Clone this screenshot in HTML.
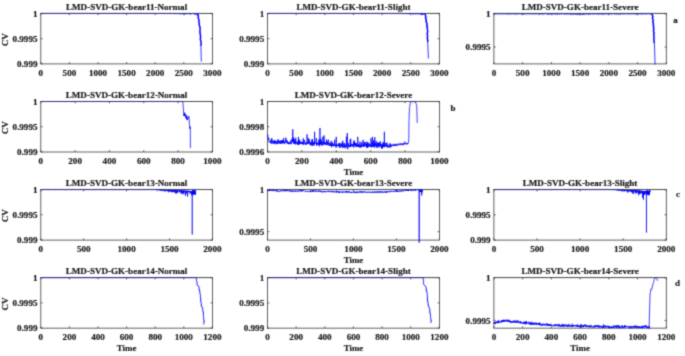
<!DOCTYPE html>
<html><head><meta charset="utf-8"><style>
html,body{margin:0;padding:0;background:#fff;}
body{width:685px;height:356px;overflow:hidden;}
svg{display:block;}
svg text{font-family:'Liberation Serif',serif;font-weight:bold;fill:#1a1a1a;stroke:#1a1a1a;stroke-width:0.2px;}
</style></head><body>
<svg width="685" height="356" viewBox="0 0 685 356">
<defs><filter id="bl" x="0" y="0" width="685" height="356" filterUnits="userSpaceOnUse" color-interpolation-filters="sRGB"><feConvolveMatrix order="3" kernelMatrix="1 4 1 4 16 4 1 4 1" divisor="36" edgeMode="duplicate" preserveAlpha="false"/></filter></defs>
<g filter="url(#bl)">
<rect width="685" height="356" fill="#fff"/>
<rect x="40.80" y="13.40" width="171.60" height="50.50" fill="none" stroke="#3a3a3a" stroke-width="0.8"/>
<path d="M40.80 63.90v-1.8M40.80 13.40v1.8M69.40 63.90v-1.8M69.40 13.40v1.8M98.00 63.90v-1.8M98.00 13.40v1.8M126.60 63.90v-1.8M126.60 13.40v1.8M155.20 63.90v-1.8M155.20 13.40v1.8M183.80 63.90v-1.8M183.80 13.40v1.8M212.40 63.90v-1.8M212.40 13.40v1.8M40.80 63.90h1.8M212.40 63.90h-1.8M40.80 38.65h1.8M212.40 38.65h-1.8M40.80 13.40h1.8M212.40 13.40h-1.8" stroke="#3a3a3a" stroke-width="0.8" fill="none"/>
<rect x="267.50" y="13.40" width="171.90" height="50.50" fill="none" stroke="#3a3a3a" stroke-width="0.8"/>
<path d="M267.50 63.90v-1.8M267.50 13.40v1.8M296.15 63.90v-1.8M296.15 13.40v1.8M324.80 63.90v-1.8M324.80 13.40v1.8M353.45 63.90v-1.8M353.45 13.40v1.8M382.10 63.90v-1.8M382.10 13.40v1.8M410.75 63.90v-1.8M410.75 13.40v1.8M439.40 63.90v-1.8M439.40 13.40v1.8M267.50 63.90h1.8M439.40 63.90h-1.8M267.50 38.65h1.8M439.40 38.65h-1.8M267.50 13.40h1.8M439.40 13.40h-1.8" stroke="#3a3a3a" stroke-width="0.8" fill="none"/>
<rect x="493.90" y="13.40" width="172.40" height="50.50" fill="none" stroke="#3a3a3a" stroke-width="0.8"/>
<path d="M493.90 63.90v-1.8M493.90 13.40v1.8M522.63 63.90v-1.8M522.63 13.40v1.8M551.37 63.90v-1.8M551.37 13.40v1.8M580.10 63.90v-1.8M580.10 13.40v1.8M608.83 63.90v-1.8M608.83 13.40v1.8M637.57 63.90v-1.8M637.57 13.40v1.8M666.30 63.90v-1.8M666.30 13.40v1.8M493.90 47.07h1.8M666.30 47.07h-1.8M493.90 13.40h1.8M666.30 13.40h-1.8" stroke="#3a3a3a" stroke-width="0.8" fill="none"/>
<rect x="40.80" y="101.50" width="171.60" height="50.50" fill="none" stroke="#3a3a3a" stroke-width="0.8"/>
<path d="M40.80 152.00v-1.8M40.80 101.50v1.8M75.12 152.00v-1.8M75.12 101.50v1.8M109.44 152.00v-1.8M109.44 101.50v1.8M143.76 152.00v-1.8M143.76 101.50v1.8M178.08 152.00v-1.8M178.08 101.50v1.8M212.40 152.00v-1.8M212.40 101.50v1.8M40.80 152.00h1.8M212.40 152.00h-1.8M40.80 126.75h1.8M212.40 126.75h-1.8M40.80 101.50h1.8M212.40 101.50h-1.8" stroke="#3a3a3a" stroke-width="0.8" fill="none"/>
<rect x="267.50" y="101.50" width="171.90" height="50.50" fill="none" stroke="#3a3a3a" stroke-width="0.8"/>
<path d="M267.50 152.00v-1.8M267.50 101.50v1.8M301.88 152.00v-1.8M301.88 101.50v1.8M336.26 152.00v-1.8M336.26 101.50v1.8M370.64 152.00v-1.8M370.64 101.50v1.8M405.02 152.00v-1.8M405.02 101.50v1.8M439.40 152.00v-1.8M439.40 101.50v1.8M267.50 152.00h1.8M439.40 152.00h-1.8M267.50 126.75h1.8M439.40 126.75h-1.8M267.50 101.50h1.8M439.40 101.50h-1.8" stroke="#3a3a3a" stroke-width="0.8" fill="none"/>
<rect x="40.80" y="189.60" width="171.60" height="50.50" fill="none" stroke="#3a3a3a" stroke-width="0.8"/>
<path d="M40.80 240.10v-1.8M40.80 189.60v1.8M83.70 240.10v-1.8M83.70 189.60v1.8M126.60 240.10v-1.8M126.60 189.60v1.8M169.50 240.10v-1.8M169.50 189.60v1.8M212.40 240.10v-1.8M212.40 189.60v1.8M40.80 240.10h1.8M212.40 240.10h-1.8M40.80 214.85h1.8M212.40 214.85h-1.8M40.80 189.60h1.8M212.40 189.60h-1.8" stroke="#3a3a3a" stroke-width="0.8" fill="none"/>
<rect x="267.50" y="189.60" width="171.90" height="50.50" fill="none" stroke="#3a3a3a" stroke-width="0.8"/>
<path d="M267.50 240.10v-1.8M267.50 189.60v1.8M310.48 240.10v-1.8M310.48 189.60v1.8M353.45 240.10v-1.8M353.45 189.60v1.8M396.42 240.10v-1.8M396.42 189.60v1.8M439.40 240.10v-1.8M439.40 189.60v1.8M267.50 231.68h1.8M439.40 231.68h-1.8M267.50 189.60h1.8M439.40 189.60h-1.8" stroke="#3a3a3a" stroke-width="0.8" fill="none"/>
<rect x="493.90" y="189.60" width="172.40" height="50.50" fill="none" stroke="#3a3a3a" stroke-width="0.8"/>
<path d="M493.90 240.10v-1.8M493.90 189.60v1.8M537.00 240.10v-1.8M537.00 189.60v1.8M580.10 240.10v-1.8M580.10 189.60v1.8M623.20 240.10v-1.8M623.20 189.60v1.8M666.30 240.10v-1.8M666.30 189.60v1.8M493.90 240.10h1.8M666.30 240.10h-1.8M493.90 214.85h1.8M666.30 214.85h-1.8M493.90 189.60h1.8M666.30 189.60h-1.8" stroke="#3a3a3a" stroke-width="0.8" fill="none"/>
<rect x="40.80" y="277.65" width="171.60" height="50.50" fill="none" stroke="#3a3a3a" stroke-width="0.8"/>
<path d="M40.80 328.15v-1.8M40.80 277.65v1.8M69.40 328.15v-1.8M69.40 277.65v1.8M98.00 328.15v-1.8M98.00 277.65v1.8M126.60 328.15v-1.8M126.60 277.65v1.8M155.20 328.15v-1.8M155.20 277.65v1.8M183.80 328.15v-1.8M183.80 277.65v1.8M212.40 328.15v-1.8M212.40 277.65v1.8M40.80 328.15h1.8M212.40 328.15h-1.8M40.80 302.90h1.8M212.40 302.90h-1.8M40.80 277.65h1.8M212.40 277.65h-1.8" stroke="#3a3a3a" stroke-width="0.8" fill="none"/>
<rect x="267.50" y="277.65" width="171.90" height="50.50" fill="none" stroke="#3a3a3a" stroke-width="0.8"/>
<path d="M267.50 328.15v-1.8M267.50 277.65v1.8M296.15 328.15v-1.8M296.15 277.65v1.8M324.80 328.15v-1.8M324.80 277.65v1.8M353.45 328.15v-1.8M353.45 277.65v1.8M382.10 328.15v-1.8M382.10 277.65v1.8M410.75 328.15v-1.8M410.75 277.65v1.8M439.40 328.15v-1.8M439.40 277.65v1.8M267.50 328.15h1.8M439.40 328.15h-1.8M267.50 302.90h1.8M439.40 302.90h-1.8M267.50 277.65h1.8M439.40 277.65h-1.8" stroke="#3a3a3a" stroke-width="0.8" fill="none"/>
<rect x="493.90" y="277.65" width="172.40" height="50.50" fill="none" stroke="#3a3a3a" stroke-width="0.8"/>
<path d="M493.90 328.15v-1.8M493.90 277.65v1.8M522.63 328.15v-1.8M522.63 277.65v1.8M551.37 328.15v-1.8M551.37 277.65v1.8M580.10 328.15v-1.8M580.10 277.65v1.8M608.83 328.15v-1.8M608.83 277.65v1.8M637.57 328.15v-1.8M637.57 277.65v1.8M666.30 328.15v-1.8M666.30 277.65v1.8M493.90 320.45h1.8M666.30 320.45h-1.8M493.90 277.65h1.8M666.30 277.65h-1.8" stroke="#3a3a3a" stroke-width="0.8" fill="none"/>
<text x="40.80" y="75.60" text-anchor="middle" font-size="9.1" >0</text>
<text x="69.40" y="75.60" text-anchor="middle" font-size="9.1" >500</text>
<text x="98.00" y="75.60" text-anchor="middle" font-size="9.1" >1000</text>
<text x="126.60" y="75.60" text-anchor="middle" font-size="9.1" >1500</text>
<text x="155.20" y="75.60" text-anchor="middle" font-size="9.1" >2000</text>
<text x="183.80" y="75.60" text-anchor="middle" font-size="9.1" >2500</text>
<text x="212.40" y="75.60" text-anchor="middle" font-size="9.1" >3000</text>
<text x="37.50" y="67.00" text-anchor="end" font-size="9.1" >0.999</text>
<text x="37.50" y="41.75" text-anchor="end" font-size="9.1" >0.9995</text>
<text x="37.50" y="16.50" text-anchor="end" font-size="9.1" >1</text>
<text x="126.60" y="10.10" text-anchor="middle" font-size="9.05" >LMD-SVD-GK-bear11-Normal</text>
<text x="0" y="0" text-anchor="middle" font-size="9" transform="translate(8.10 39.65) rotate(-90)">CV</text>
<polyline points="40.80,13.40 41.03,13.40 41.26,13.40 41.49,13.40 41.72,13.40 41.94,13.40 42.17,13.40 42.40,13.40 42.63,13.40 42.86,13.40 43.09,13.40 43.32,13.40 43.55,13.40 43.77,13.40 44.00,13.40 44.23,13.40 44.46,13.40 44.69,13.40 44.92,13.40 45.15,13.40 45.38,13.40 45.60,13.40 45.83,13.40 46.06,13.40 46.29,13.40 46.52,13.40 46.75,13.40 46.98,13.40 47.21,13.40 47.44,13.40 47.66,13.40 47.89,13.40 48.12,13.40 48.35,13.40 48.58,13.40 48.81,13.40 49.04,13.40 49.27,13.40 49.49,13.40 49.72,13.40 49.95,13.40 50.18,13.40 50.41,13.40 50.64,13.40 50.87,13.40 51.10,13.40 51.32,13.40 51.55,13.40 51.78,13.40 52.01,13.40 52.24,13.40 52.47,13.40 52.70,13.40 52.93,13.40 53.16,13.40 53.38,13.40 53.61,13.40 53.84,13.40 54.07,13.40 54.30,13.40 54.53,13.40 54.76,13.40 54.99,13.40 55.21,13.40 55.44,13.40 55.67,13.40 55.90,13.40 56.13,13.40 56.36,13.40 56.59,13.40 56.82,13.40 57.04,13.40 57.27,13.40 57.50,13.40 57.73,13.40 57.96,13.40 58.19,13.40 58.42,13.40 58.65,13.40 58.88,13.40 59.10,13.40 59.33,13.40 59.56,13.40 59.79,13.40 60.02,13.40 60.25,13.40 60.48,13.40 60.71,13.40 60.93,13.40 61.16,13.40 61.39,13.40 61.62,13.40 61.85,13.40 62.08,13.40 62.31,13.40 62.54,13.40 62.76,13.40 62.99,13.40 63.22,13.40 63.45,13.40 63.68,13.40 63.91,13.40 64.14,13.40 64.37,13.40 64.60,13.40 64.82,13.40 65.05,13.40 65.28,13.40 65.51,13.40 65.74,13.40 65.97,13.40 66.20,13.40 66.43,13.40 66.65,13.40 66.88,13.40 67.11,13.40 67.34,13.40 67.57,13.40 67.80,13.40 68.03,13.40 68.26,13.40 68.48,13.40 68.71,13.40 68.94,13.40 69.17,13.40 69.40,13.40 69.63,13.40 69.86,13.40 70.09,13.40 70.32,13.40 70.54,13.40 70.77,13.40 71.00,13.40 71.23,13.40 71.46,13.40 71.69,13.40 71.92,13.40 72.15,13.40 72.37,13.40 72.60,13.40 72.83,13.40 73.06,13.40 73.29,13.40 73.52,13.40 73.75,13.40 73.98,13.40 74.20,13.40 74.43,13.40 74.66,13.40 74.89,13.40 75.12,13.40 75.35,13.40 75.58,13.40 75.81,13.40 76.04,13.40 76.26,13.40 76.49,13.40 76.72,13.40 76.95,13.40 77.18,13.40 77.41,13.40 77.64,13.40 77.87,13.40 78.09,13.40 78.32,13.40 78.55,13.40 78.78,13.40 79.01,13.40 79.24,13.40 79.47,13.40 79.70,13.40 79.92,13.40 80.15,13.40 80.38,13.40 80.61,13.40 80.84,13.40 81.07,13.40 81.30,13.40 81.53,13.40 81.76,13.40 81.98,13.40 82.21,13.40 82.44,13.40 82.67,13.40 82.90,13.40 83.13,13.40 83.36,13.40 83.59,13.40 83.81,13.40 84.04,13.40 84.27,13.40 84.50,13.40 84.73,13.40 84.96,13.40 85.19,13.40 85.42,13.40 85.64,13.40 85.87,13.40 86.10,13.40 86.33,13.40 86.56,13.40 86.79,13.40 87.02,13.40 87.25,13.40 87.48,13.40 87.70,13.40 87.93,13.40 88.16,13.40 88.39,13.40 88.62,13.40 88.85,13.40 89.08,13.40 89.31,13.40 89.53,13.40 89.76,13.40 89.99,13.40 90.22,13.40 90.45,13.40 90.68,13.40 90.91,13.40 91.14,13.40 91.36,13.40 91.59,13.40 91.82,13.40 92.05,13.40 92.28,13.40 92.51,13.40 92.74,13.40 92.97,13.40 93.20,13.40 93.42,13.40 93.65,13.40 93.88,13.40 94.11,13.40 94.34,13.40 94.57,13.40 94.80,13.40 95.03,13.40 95.25,13.40 95.48,13.40 95.71,13.40 95.94,13.40 96.17,13.40 96.40,13.40 96.63,13.40 96.86,13.40 97.08,13.40 97.31,13.40 97.54,13.40 97.77,13.40 98.00,13.40 98.23,13.40 98.46,13.40 98.69,13.40 98.92,13.40 99.14,13.40 99.37,13.40 99.60,13.40 99.83,13.40 100.06,13.40 100.29,13.40 100.52,13.40 100.75,13.40 100.97,13.40 101.20,13.40 101.43,13.40 101.66,13.40 101.89,13.40 102.12,13.40 102.35,13.40 102.58,13.40 102.80,13.40 103.03,13.40 103.26,13.40 103.49,13.40 103.72,13.40 103.95,13.40 104.18,13.40 104.41,13.40 104.64,13.40 104.86,13.40 105.09,13.40 105.32,13.40 105.55,13.40 105.78,13.40 106.01,13.40 106.24,13.40 106.47,13.40 106.69,13.40 106.92,13.40 107.15,13.40 107.38,13.40 107.61,13.40 107.84,13.40 108.07,13.40 108.30,13.40 108.52,13.40 108.75,13.40 108.98,13.40 109.21,13.40 109.44,13.40 109.67,13.40 109.90,13.40 110.13,13.40 110.36,13.40 110.58,13.40 110.81,13.40 111.04,13.40 111.27,13.40 111.50,13.40 111.73,13.40 111.96,13.40 112.19,13.40 112.41,13.40 112.64,13.40 112.87,13.40 113.10,13.40 113.33,13.40 113.56,13.40 113.79,13.40 114.02,13.40 114.24,13.40 114.47,13.40 114.70,13.40 114.93,13.40 115.16,13.40 115.39,13.40 115.62,13.40 115.85,13.40 116.08,13.40 116.30,13.40 116.53,13.40 116.76,13.40 116.99,13.40 117.22,13.40 117.45,13.40 117.68,13.40 117.91,13.40 118.13,13.40 118.36,13.40 118.59,13.40 118.82,13.40 119.05,13.40 119.28,13.40 119.51,13.40 119.74,13.40 119.96,13.40 120.19,13.40 120.42,13.40 120.65,13.40 120.88,13.40 121.11,13.40 121.34,13.40 121.57,13.40 121.80,13.40 122.02,13.40 122.25,13.40 122.48,13.40 122.71,13.40 122.94,13.40 123.17,13.40 123.40,13.40 123.63,13.40 123.85,13.40 124.08,13.40 124.31,13.40 124.54,13.40 124.77,13.40 125.00,13.40 125.23,13.40 125.46,13.40 125.68,13.40 125.91,13.40 126.14,13.40 126.37,13.40 126.60,13.40 126.83,13.40 127.06,13.40 127.29,13.40 127.52,13.40 127.74,13.40 127.97,13.40 128.20,13.40 128.43,13.40 128.66,13.40 128.89,13.40 129.12,13.40 129.35,13.40 129.57,13.40 129.80,13.40 130.03,13.40 130.26,13.40 130.49,13.40 130.72,13.40 130.95,13.40 131.18,13.40 131.40,13.40 131.63,13.40 131.86,13.40 132.09,13.40 132.32,13.40 132.55,13.40 132.78,13.40 133.01,13.40 133.24,13.40 133.46,13.40 133.69,13.40 133.92,13.40 134.15,13.40 134.38,13.40 134.61,13.40 134.84,13.40 135.07,13.40 135.29,13.40 135.52,13.40 135.75,13.40 135.98,13.40 136.21,13.40 136.44,13.40 136.67,13.40 136.90,13.40 137.12,13.40 137.35,13.40 137.58,13.40 137.81,13.40 138.04,13.40 138.27,13.40 138.50,13.40 138.73,13.40 138.96,13.40 139.18,13.40 139.41,13.40 139.64,13.40 139.87,13.40 140.10,13.40 140.33,13.40 140.56,13.40 140.79,13.40 141.01,13.40 141.24,13.40 141.47,13.40 141.70,13.40 141.93,13.40 142.16,13.40 142.39,13.40 142.62,13.40 142.84,13.40 143.07,13.40 143.30,13.40 143.53,13.40 143.76,13.40 143.99,13.40 144.22,13.40 144.45,13.40 144.68,13.40 144.90,13.40 145.13,13.40 145.36,13.40 145.59,13.40 145.82,13.40 146.05,13.40 146.28,13.40 146.51,13.40 146.73,13.40 146.96,13.40 147.19,13.40 147.42,13.40 147.65,13.40 147.88,13.40 148.11,13.40 148.34,13.40 148.56,13.40 148.79,13.40 149.02,13.40 149.25,13.40 149.48,13.40 149.71,13.40 149.94,13.40 150.17,13.40 150.40,13.40 150.62,13.40 150.85,13.40 151.08,13.40 151.31,13.40 151.54,13.40 151.77,13.40 152.00,13.40 152.23,13.40 152.45,13.40 152.68,13.40 152.91,13.40 153.14,13.40 153.37,13.40 153.60,13.40 153.83,13.40 154.06,13.40 154.28,13.40 154.51,13.40 154.74,13.40 154.97,13.40 155.20,13.40 155.43,13.40 155.66,13.40 155.89,13.40 156.12,13.40 156.34,13.40 156.57,13.40 156.80,13.40 157.03,13.40 157.26,13.40 157.49,13.40 157.72,13.40 157.95,13.40 158.17,13.40 158.40,13.40 158.63,13.40 158.86,13.40 159.09,13.40 159.32,13.40 159.55,13.40 159.78,13.40 160.00,13.40 160.23,13.40 160.46,13.40 160.69,13.40 160.92,13.40 161.15,13.40 161.38,13.40 161.61,13.40 161.84,13.40 162.06,13.40 162.29,13.40 162.52,13.40 162.75,13.40 162.98,13.40 163.21,13.40 163.44,13.40 163.67,13.40 163.89,13.40 164.12,13.40 164.35,13.40 164.58,13.41 164.81,13.42 165.04,13.41 165.27,13.43 165.50,13.42 165.72,13.44 165.95,13.41 166.18,13.42 166.41,13.41 166.64,13.50 166.87,13.46 167.10,13.44 167.33,13.44 167.56,13.53 167.78,13.55 168.01,13.48 168.24,13.44 168.47,13.43 168.70,13.40 168.93,13.46 169.16,13.47 169.39,13.44 169.61,13.45 169.84,13.48 170.07,13.63 170.30,13.48 170.53,13.57 170.76,13.49 170.99,13.51 171.22,13.45 171.44,13.42 171.67,13.50 171.90,13.44 172.13,13.48 172.36,13.57 172.59,13.50 172.82,13.63 173.05,13.56 173.28,13.45 173.50,13.49 173.73,13.71 173.96,13.41 174.19,13.68 174.42,13.85 174.65,13.47 174.88,13.42 175.11,13.59 175.33,13.52 175.56,13.42 175.79,13.77 176.02,13.61 176.25,13.57 176.48,13.65 176.71,13.79 176.94,13.50 177.16,13.43 177.39,13.77 177.62,13.58 177.85,13.58 178.08,13.54 178.31,13.78 178.54,13.70 178.77,13.57 179.00,13.81 179.22,14.06 179.45,13.88 179.68,13.48 179.91,13.89 180.14,13.60 180.37,14.06 180.60,14.29 180.83,13.53 181.05,13.67 181.28,13.81 181.51,13.76 181.74,13.81 181.97,13.46 182.20,13.49 182.43,13.57 182.66,14.03 182.88,13.65 183.11,13.61 183.34,13.62 183.57,14.05 183.80,13.94 184.03,13.81 184.26,13.63 184.49,14.26 184.72,13.68 184.94,13.77 185.17,14.21 185.40,13.48 185.63,13.87 185.86,14.01 186.09,14.15 186.32,13.66 186.55,13.47 186.77,13.56 187.00,13.72 187.23,13.46 187.46,13.97 187.69,13.73 187.92,13.61 188.15,13.93 188.38,13.41 188.60,13.86 188.83,13.90 189.06,14.18 189.29,13.64 189.52,14.14 189.75,13.47 189.98,13.48 190.21,13.56 190.44,14.18 190.66,13.98 190.89,14.12 191.12,14.13 191.35,13.85 191.58,13.77 191.81,14.06 192.04,13.91 192.27,13.61 192.49,13.49 192.72,13.49 192.95,13.75 193.18,13.51 193.41,13.57 193.64,13.76 193.87,13.40 194.10,13.89 194.32,13.76 194.55,14.70 194.78,13.61 195.01,13.68 195.24,13.65 195.47,13.41 195.70,14.02 195.93,13.63 196.16,13.66 196.38,14.65 196.61,15.16 196.84,14.18 197.07,13.57 197.30,13.68 197.80,13.30" fill="none" stroke="#0000ff" stroke-width="0.75" stroke-linejoin="round"/>
<polyline points="197.69,13.30 197.82,14.55 198.41,15.80 198.13,17.05 198.22,18.30 199.05,19.55 198.94,20.80 198.87,22.05 199.33,23.30 199.10,24.60 199.58,25.90 200.02,27.20 200.07,28.50 200.08,29.80 199.90,31.10 200.11,32.40 200.03,33.64 200.52,34.87 200.41,36.11 200.65,37.35 200.40,38.58 200.39,39.82 200.86,41.05 201.05,42.29 201.02,43.53 201.05,44.76 200.90,46.00" fill="none" stroke="#0000ff" stroke-width="1.5" stroke-linejoin="round"/>
<polyline points="200.90,46.00 201.30,61.60" fill="none" stroke="#0000ff" stroke-width="0.8" stroke-linejoin="round"/>
<text x="267.50" y="75.60" text-anchor="middle" font-size="9.1" >0</text>
<text x="296.15" y="75.60" text-anchor="middle" font-size="9.1" >500</text>
<text x="324.80" y="75.60" text-anchor="middle" font-size="9.1" >1000</text>
<text x="353.45" y="75.60" text-anchor="middle" font-size="9.1" >1500</text>
<text x="382.10" y="75.60" text-anchor="middle" font-size="9.1" >2000</text>
<text x="410.75" y="75.60" text-anchor="middle" font-size="9.1" >2500</text>
<text x="439.40" y="75.60" text-anchor="middle" font-size="9.1" >3000</text>
<text x="264.20" y="67.00" text-anchor="end" font-size="9.1" >0.999</text>
<text x="264.20" y="41.75" text-anchor="end" font-size="9.1" >0.9995</text>
<text x="264.20" y="16.50" text-anchor="end" font-size="9.1" >1</text>
<text x="353.45" y="10.10" text-anchor="middle" font-size="9.05" >LMD-SVD-GK-bear11-Slight</text>
<polyline points="267.50,13.40 267.73,13.40 267.96,13.40 268.19,13.40 268.42,13.40 268.65,13.40 268.88,13.40 269.10,13.40 269.33,13.40 269.56,13.40 269.79,13.40 270.02,13.40 270.25,13.40 270.48,13.40 270.71,13.40 270.94,13.40 271.17,13.40 271.40,13.40 271.63,13.40 271.85,13.40 272.08,13.40 272.31,13.40 272.54,13.40 272.77,13.40 273.00,13.40 273.23,13.40 273.46,13.40 273.69,13.40 273.92,13.40 274.15,13.40 274.38,13.40 274.61,13.40 274.83,13.40 275.06,13.40 275.29,13.40 275.52,13.40 275.75,13.40 275.98,13.40 276.21,13.40 276.44,13.40 276.67,13.40 276.90,13.40 277.13,13.40 277.36,13.40 277.58,13.40 277.81,13.40 278.04,13.40 278.27,13.40 278.50,13.40 278.73,13.40 278.96,13.40 279.19,13.40 279.42,13.40 279.65,13.40 279.88,13.40 280.11,13.40 280.34,13.40 280.56,13.40 280.79,13.40 281.02,13.40 281.25,13.40 281.48,13.40 281.71,13.40 281.94,13.40 282.17,13.40 282.40,13.40 282.63,13.40 282.86,13.40 283.09,13.40 283.31,13.40 283.54,13.40 283.77,13.40 284.00,13.40 284.23,13.40 284.46,13.40 284.69,13.40 284.92,13.40 285.15,13.40 285.38,13.40 285.61,13.40 285.84,13.40 286.07,13.40 286.29,13.40 286.52,13.40 286.75,13.40 286.98,13.40 287.21,13.40 287.44,13.40 287.67,13.40 287.90,13.40 288.13,13.40 288.36,13.40 288.59,13.40 288.82,13.40 289.04,13.40 289.27,13.40 289.50,13.40 289.73,13.40 289.96,13.40 290.19,13.40 290.42,13.40 290.65,13.40 290.88,13.40 291.11,13.40 291.34,13.40 291.57,13.40 291.80,13.40 292.02,13.40 292.25,13.40 292.48,13.40 292.71,13.40 292.94,13.40 293.17,13.40 293.40,13.40 293.63,13.40 293.86,13.40 294.09,13.40 294.32,13.40 294.55,13.40 294.77,13.40 295.00,13.40 295.23,13.40 295.46,13.40 295.69,13.40 295.92,13.40 296.15,13.40 296.38,13.40 296.61,13.40 296.84,13.40 297.07,13.40 297.30,13.40 297.53,13.40 297.75,13.40 297.98,13.40 298.21,13.40 298.44,13.40 298.67,13.40 298.90,13.40 299.13,13.40 299.36,13.40 299.59,13.40 299.82,13.40 300.05,13.40 300.28,13.40 300.50,13.40 300.73,13.40 300.96,13.40 301.19,13.40 301.42,13.40 301.65,13.40 301.88,13.40 302.11,13.40 302.34,13.40 302.57,13.40 302.80,13.40 303.03,13.40 303.26,13.40 303.48,13.40 303.71,13.40 303.94,13.40 304.17,13.40 304.40,13.40 304.63,13.40 304.86,13.40 305.09,13.40 305.32,13.40 305.55,13.40 305.78,13.40 306.01,13.40 306.23,13.40 306.46,13.40 306.69,13.40 306.92,13.40 307.15,13.40 307.38,13.40 307.61,13.40 307.84,13.40 308.07,13.40 308.30,13.40 308.53,13.40 308.76,13.40 308.99,13.40 309.21,13.40 309.44,13.40 309.67,13.40 309.90,13.40 310.13,13.40 310.36,13.40 310.59,13.40 310.82,13.40 311.05,13.40 311.28,13.40 311.51,13.40 311.74,13.40 311.96,13.40 312.19,13.40 312.42,13.40 312.65,13.40 312.88,13.40 313.11,13.40 313.34,13.40 313.57,13.40 313.80,13.40 314.03,13.40 314.26,13.40 314.49,13.40 314.72,13.40 314.94,13.40 315.17,13.40 315.40,13.40 315.63,13.40 315.86,13.40 316.09,13.40 316.32,13.40 316.55,13.40 316.78,13.40 317.01,13.40 317.24,13.40 317.47,13.40 317.69,13.40 317.92,13.40 318.15,13.40 318.38,13.40 318.61,13.40 318.84,13.40 319.07,13.40 319.30,13.40 319.53,13.40 319.76,13.40 319.99,13.40 320.22,13.40 320.45,13.40 320.67,13.40 320.90,13.40 321.13,13.40 321.36,13.40 321.59,13.40 321.82,13.40 322.05,13.40 322.28,13.40 322.51,13.40 322.74,13.40 322.97,13.40 323.20,13.40 323.42,13.40 323.65,13.40 323.88,13.40 324.11,13.40 324.34,13.40 324.57,13.40 324.80,13.40 325.03,13.40 325.26,13.40 325.49,13.40 325.72,13.40 325.95,13.40 326.18,13.40 326.40,13.40 326.63,13.40 326.86,13.40 327.09,13.40 327.32,13.40 327.55,13.40 327.78,13.40 328.01,13.40 328.24,13.40 328.47,13.40 328.70,13.40 328.93,13.40 329.15,13.40 329.38,13.40 329.61,13.40 329.84,13.40 330.07,13.40 330.30,13.40 330.53,13.40 330.76,13.40 330.99,13.40 331.22,13.40 331.45,13.40 331.68,13.40 331.91,13.40 332.13,13.40 332.36,13.40 332.59,13.40 332.82,13.40 333.05,13.40 333.28,13.40 333.51,13.40 333.74,13.40 333.97,13.40 334.20,13.40 334.43,13.40 334.66,13.40 334.88,13.40 335.11,13.40 335.34,13.40 335.57,13.40 335.80,13.40 336.03,13.40 336.26,13.40 336.49,13.40 336.72,13.40 336.95,13.40 337.18,13.40 337.41,13.40 337.64,13.40 337.86,13.40 338.09,13.40 338.32,13.40 338.55,13.40 338.78,13.40 339.01,13.40 339.24,13.40 339.47,13.40 339.70,13.40 339.93,13.40 340.16,13.40 340.39,13.40 340.61,13.40 340.84,13.40 341.07,13.40 341.30,13.40 341.53,13.40 341.76,13.40 341.99,13.40 342.22,13.40 342.45,13.40 342.68,13.40 342.91,13.40 343.14,13.40 343.37,13.40 343.59,13.40 343.82,13.40 344.05,13.40 344.28,13.40 344.51,13.40 344.74,13.40 344.97,13.40 345.20,13.40 345.43,13.40 345.66,13.40 345.89,13.40 346.12,13.40 346.34,13.40 346.57,13.40 346.80,13.40 347.03,13.40 347.26,13.40 347.49,13.40 347.72,13.40 347.95,13.40 348.18,13.40 348.41,13.40 348.64,13.40 348.87,13.40 349.10,13.40 349.32,13.40 349.55,13.40 349.78,13.40 350.01,13.40 350.24,13.40 350.47,13.40 350.70,13.40 350.93,13.40 351.16,13.40 351.39,13.40 351.62,13.40 351.85,13.40 352.07,13.40 352.30,13.40 352.53,13.40 352.76,13.40 352.99,13.40 353.22,13.40 353.45,13.40 353.68,13.40 353.91,13.40 354.14,13.40 354.37,13.40 354.60,13.40 354.83,13.40 355.05,13.40 355.28,13.40 355.51,13.40 355.74,13.40 355.97,13.40 356.20,13.40 356.43,13.40 356.66,13.40 356.89,13.40 357.12,13.40 357.35,13.40 357.58,13.40 357.80,13.40 358.03,13.40 358.26,13.40 358.49,13.40 358.72,13.40 358.95,13.40 359.18,13.40 359.41,13.40 359.64,13.40 359.87,13.40 360.10,13.40 360.33,13.40 360.56,13.40 360.78,13.40 361.01,13.40 361.24,13.40 361.47,13.40 361.70,13.40 361.93,13.40 362.16,13.40 362.39,13.40 362.62,13.40 362.85,13.40 363.08,13.40 363.31,13.40 363.53,13.40 363.76,13.40 363.99,13.40 364.22,13.40 364.45,13.40 364.68,13.40 364.91,13.40 365.14,13.40 365.37,13.40 365.60,13.40 365.83,13.40 366.06,13.40 366.29,13.40 366.51,13.40 366.74,13.40 366.97,13.40 367.20,13.40 367.43,13.40 367.66,13.40 367.89,13.40 368.12,13.40 368.35,13.40 368.58,13.40 368.81,13.40 369.04,13.40 369.26,13.40 369.49,13.40 369.72,13.40 369.95,13.40 370.18,13.40 370.41,13.40 370.64,13.40 370.87,13.40 371.10,13.40 371.33,13.40 371.56,13.40 371.79,13.40 372.02,13.40 372.24,13.40 372.47,13.40 372.70,13.40 372.93,13.40 373.16,13.40 373.39,13.40 373.62,13.40 373.85,13.40 374.08,13.40 374.31,13.40 374.54,13.40 374.77,13.40 374.99,13.40 375.22,13.40 375.45,13.40 375.68,13.40 375.91,13.40 376.14,13.40 376.37,13.40 376.60,13.40 376.83,13.40 377.06,13.40 377.29,13.40 377.52,13.40 377.75,13.40 377.97,13.40 378.20,13.40 378.43,13.40 378.66,13.40 378.89,13.40 379.12,13.40 379.35,13.40 379.58,13.40 379.81,13.40 380.04,13.40 380.27,13.40 380.50,13.40 380.72,13.40 380.95,13.40 381.18,13.40 381.41,13.40 381.64,13.40 381.87,13.40 382.10,13.40 382.33,13.40 382.56,13.40 382.79,13.40 383.02,13.40 383.25,13.40 383.48,13.40 383.70,13.40 383.93,13.40 384.16,13.40 384.39,13.40 384.62,13.40 384.85,13.40 385.08,13.40 385.31,13.40 385.54,13.40 385.77,13.40 386.00,13.40 386.23,13.40 386.45,13.40 386.68,13.40 386.91,13.40 387.14,13.40 387.37,13.40 387.60,13.40 387.83,13.40 388.06,13.40 388.29,13.40 388.52,13.40 388.75,13.40 388.98,13.40 389.21,13.40 389.43,13.40 389.66,13.40 389.89,13.40 390.12,13.40 390.35,13.40 390.58,13.40 390.81,13.40 391.04,13.40 391.27,13.40 391.50,13.40 391.73,13.40 391.96,13.40 392.18,13.40 392.41,13.40 392.64,13.40 392.87,13.40 393.10,13.40 393.33,13.40 393.56,13.40 393.79,13.40 394.02,13.40 394.25,13.40 394.48,13.40 394.71,13.40 394.94,13.40 395.16,13.40 395.39,13.40 395.62,13.40 395.85,13.40 396.08,13.40 396.31,13.40 396.54,13.40 396.77,13.41 397.00,13.42 397.23,13.40 397.46,13.43 397.69,13.40 397.91,13.41 398.14,13.43 398.37,13.41 398.60,13.40 398.83,13.49 399.06,13.47 399.29,13.42 399.52,13.61 399.75,13.50 399.98,13.48 400.21,13.43 400.44,13.41 400.67,13.48 400.89,13.43 401.12,13.48 401.35,13.59 401.58,13.60 401.81,13.48 402.04,13.54 402.27,13.55 402.50,13.62 402.73,13.60 402.96,13.52 403.19,13.65 403.42,13.57 403.64,13.40 403.87,13.61 404.10,13.55 404.33,13.72 404.56,13.58 404.79,13.73 405.02,13.61 405.25,13.44 405.48,13.85 405.71,13.73 405.94,13.42 406.17,13.55 406.40,13.50 406.62,13.51 406.85,13.79 407.08,13.67 407.31,13.71 407.54,13.82 407.77,13.81 408.00,13.45 408.23,13.62 408.46,13.71 408.69,13.44 408.92,13.44 409.15,13.86 409.37,13.49 409.60,14.16 409.83,13.53 410.06,14.04 410.29,13.69 410.52,13.51 410.75,13.62 410.98,13.40 411.21,13.71 411.44,13.43 411.67,13.91 411.90,13.42 412.13,13.81 412.35,14.00 412.58,14.06 412.81,13.68 413.04,13.77 413.27,14.20 413.50,13.87 413.73,14.26 413.96,13.87 414.19,13.95 414.42,13.41 414.65,13.49 414.88,13.41 415.10,13.68 415.33,13.51 415.56,14.26 415.79,13.42 416.02,13.66 416.25,13.90 416.48,13.50 416.71,14.04 416.94,13.69 417.17,13.96 417.40,14.27 417.63,13.72 417.86,13.94 418.08,13.83 418.31,13.40 418.54,13.85 418.77,13.49 419.00,14.07 419.23,14.30 419.46,13.77 419.69,13.94 419.92,13.73 420.15,13.94 420.38,13.86 420.61,14.33 420.83,13.47 421.06,14.13 421.29,13.63 421.52,14.89 421.75,13.61 421.98,13.81 422.21,14.66 422.44,13.87 422.67,13.58 422.90,14.89 423.13,13.99 423.36,13.60 423.59,13.71 423.81,13.94 424.04,13.92 424.27,13.87 424.90,13.30" fill="none" stroke="#0000ff" stroke-width="0.75" stroke-linejoin="round"/>
<polyline points="424.60,13.30 425.24,14.52 425.53,15.73 425.83,16.95 425.52,18.17 426.13,19.38 426.31,20.60 426.13,21.90 426.83,23.20 427.08,24.50 426.74,25.80 427.43,27.10 427.23,28.40 427.33,29.64 427.72,30.87 427.64,32.11 427.21,33.35 427.43,34.58 427.53,35.82 427.44,37.05 427.38,38.29 427.50,39.53 427.82,40.76 427.70,42.00" fill="none" stroke="#0000ff" stroke-width="1.5" stroke-linejoin="round"/>
<polyline points="427.70,42.00 428.40,58.50" fill="none" stroke="#0000ff" stroke-width="0.8" stroke-linejoin="round"/>
<text x="493.90" y="75.60" text-anchor="middle" font-size="9.1" >0</text>
<text x="522.63" y="75.60" text-anchor="middle" font-size="9.1" >500</text>
<text x="551.37" y="75.60" text-anchor="middle" font-size="9.1" >1000</text>
<text x="580.10" y="75.60" text-anchor="middle" font-size="9.1" >1500</text>
<text x="608.83" y="75.60" text-anchor="middle" font-size="9.1" >2000</text>
<text x="637.57" y="75.60" text-anchor="middle" font-size="9.1" >2500</text>
<text x="666.30" y="75.60" text-anchor="middle" font-size="9.1" >3000</text>
<text x="490.60" y="50.17" text-anchor="end" font-size="9.1" >0.9995</text>
<text x="490.60" y="16.50" text-anchor="end" font-size="9.1" >1</text>
<text x="580.10" y="10.10" text-anchor="middle" font-size="9.05" >LMD-SVD-GK-bear11-Severe</text>
<polyline points="493.90,13.82 494.13,14.08 494.36,13.78 494.59,13.78 494.82,13.76 495.05,13.92 495.28,14.07 495.51,13.83 495.74,13.74 495.97,14.21 496.20,13.78 496.43,13.86 496.66,13.76 496.89,13.74 497.12,13.81 497.35,13.78 497.58,13.95 497.81,13.93 498.04,13.94 498.27,14.16 498.50,14.00 498.73,13.74 498.96,13.89 499.19,14.04 499.42,13.91 499.65,13.77 499.88,13.85 500.11,14.12 500.34,13.88 500.57,13.83 500.80,13.78 501.03,14.09 501.26,13.88 501.49,13.77 501.72,13.84 501.95,13.80 502.18,13.82 502.41,13.93 502.63,13.96 502.86,13.92 503.09,14.03 503.32,13.93 503.55,13.83 503.78,13.96 504.01,13.98 504.24,13.75 504.47,13.87 504.70,13.78 504.93,13.81 505.16,13.81 505.39,13.96 505.62,13.89 505.85,14.16 506.08,13.82 506.31,14.04 506.54,13.85 506.77,13.96 507.00,13.94 507.23,13.76 507.46,14.17 507.69,13.78 507.92,13.90 508.15,13.79 508.38,14.36 508.61,13.84 508.84,14.13 509.07,14.04 509.30,14.02 509.53,13.87 509.76,13.87 509.99,13.97 510.22,14.15 510.45,13.75 510.68,13.98 510.91,13.76 511.14,13.95 511.37,14.10 511.60,13.92 511.83,13.94 512.06,13.79 512.29,13.81 512.52,13.81 512.75,13.81 512.98,13.75 513.21,13.94 513.44,13.80 513.67,13.83 513.90,14.03 514.13,14.19 514.36,13.84 514.59,13.93 514.82,13.75 515.05,13.96 515.28,13.89 515.51,13.78 515.74,13.94 515.97,13.81 516.20,14.44 516.43,13.91 516.66,13.93 516.89,13.80 517.12,13.96 517.35,13.79 517.58,13.74 517.81,13.75 518.04,13.96 518.27,13.94 518.50,13.92 518.73,13.74 518.96,13.76 519.19,13.74 519.42,13.75 519.65,13.85 519.87,13.80 520.10,13.78 520.33,13.96 520.56,13.77 520.79,13.78 521.02,14.09 521.25,14.18 521.48,13.82 521.71,13.97 521.94,14.09 522.17,13.93 522.40,13.92 522.63,14.10 522.86,14.43 523.09,13.99 523.32,14.09 523.55,13.79 523.78,13.80 524.01,14.03 524.24,14.23 524.47,14.04 524.70,14.05 524.93,13.79 525.16,13.87 525.39,14.05 525.62,13.78 525.85,13.98 526.08,14.16 526.31,13.90 526.54,14.05 526.77,14.06 527.00,13.99 527.23,13.80 527.46,13.92 527.69,13.88 527.92,13.76 528.15,13.82 528.38,13.83 528.61,13.91 528.84,14.03 529.07,14.00 529.30,14.01 529.53,13.87 529.76,14.02 529.99,14.22 530.22,13.75 530.45,13.74 530.68,14.06 530.91,14.12 531.14,13.82 531.37,14.14 531.60,13.91 531.83,13.74 532.06,13.84 532.29,13.78 532.52,14.17 532.75,13.86 532.98,14.16 533.21,14.05 533.44,13.78 533.67,13.96 533.90,13.94 534.13,13.92 534.36,14.16 534.59,14.02 534.82,14.00 535.05,13.87 535.28,13.81 535.51,13.75 535.74,14.18 535.97,13.85 536.20,14.07 536.43,13.83 536.66,13.74 536.89,13.78 537.11,14.14 537.34,13.88 537.57,14.11 537.80,13.82 538.03,14.05 538.26,14.03 538.49,13.80 538.72,14.16 538.95,14.12 539.18,13.97 539.41,14.44 539.64,13.78 539.87,13.76 540.10,14.22 540.33,13.86 540.56,14.03 540.79,13.80 541.02,13.76 541.25,13.92 541.48,13.91 541.71,13.80 541.94,13.87 542.17,13.81 542.40,14.39 542.63,13.84 542.86,14.07 543.09,14.11 543.32,14.30 543.55,13.77 543.78,13.79 544.01,13.92 544.24,13.99 544.47,13.92 544.70,13.76 544.93,13.74 545.16,14.03 545.39,13.75 545.62,13.78 545.85,13.88 546.08,13.87 546.31,13.93 546.54,13.75 546.77,13.75 547.00,13.74 547.23,14.25 547.46,14.19 547.69,14.16 547.92,13.87 548.15,14.30 548.38,13.80 548.61,13.99 548.84,14.51 549.07,14.35 549.30,13.95 549.53,13.87 549.76,13.93 549.99,13.83 550.22,13.86 550.45,13.77 550.68,13.85 550.91,13.93 551.14,13.92 551.37,13.82 551.60,13.77 551.83,14.06 552.06,13.83 552.29,13.98 552.52,14.27 552.75,13.89 552.98,13.88 553.21,14.09 553.44,14.28 553.67,14.07 553.90,14.15 554.13,13.87 554.35,14.15 554.58,13.87 554.81,14.17 555.04,13.87 555.27,13.87 555.50,13.91 555.73,14.32 555.96,13.92 556.19,13.95 556.42,13.96 556.65,13.86 556.88,13.93 557.11,13.79 557.34,14.47 557.57,13.76 557.80,14.13 558.03,13.84 558.26,14.06 558.49,13.87 558.72,13.84 558.95,13.83 559.18,13.89 559.41,14.00 559.64,13.91 559.87,13.85 560.10,14.31 560.33,14.03 560.56,13.74 560.79,13.85 561.02,13.87 561.25,13.94 561.48,13.87 561.71,13.90 561.94,13.84 562.17,13.76 562.40,14.09 562.63,14.08 562.86,14.03 563.09,13.97 563.32,13.88 563.55,14.00 563.78,13.78 564.01,13.79 564.24,13.82 564.47,13.86 564.70,14.43 564.93,13.96 565.16,13.96 565.39,14.11 565.62,14.13 565.85,13.78 566.08,13.95 566.31,13.74 566.54,14.01 566.77,14.37 567.00,13.96 567.23,14.05 567.46,14.18 567.69,13.80 567.92,13.75 568.15,13.88 568.38,14.29 568.61,14.09 568.84,13.81 569.07,14.04 569.30,13.79 569.53,14.26 569.76,14.04 569.99,14.28 570.22,14.42 570.45,13.87 570.68,14.02 570.91,14.09 571.14,14.19 571.37,14.20 571.59,14.53 571.82,14.03 572.05,14.36 572.28,14.02 572.51,14.31 572.74,14.10 572.97,14.06 573.20,14.09 573.43,14.26 573.66,14.42 573.89,14.28 574.12,14.15 574.35,14.25 574.58,14.13 574.81,14.52 575.04,14.19 575.27,14.29 575.50,14.47 575.73,14.32 575.96,14.42 576.19,14.33 576.42,14.27 576.65,14.58 576.88,14.45 577.11,14.25 577.34,14.90 577.57,14.41 577.80,14.59 578.03,14.69 578.26,14.45 578.49,14.29 578.72,14.28 578.95,14.95 579.18,14.34 579.41,14.49 579.64,14.59 579.87,14.32 580.10,14.40 580.33,14.53 580.56,14.29 580.79,14.67 581.02,14.44 581.25,14.36 581.48,14.50 581.71,14.31 581.94,14.62 582.17,14.45 582.40,14.40 582.63,14.70 582.86,14.26 583.09,14.55 583.32,14.42 583.55,14.90 583.78,14.40 584.01,14.66 584.24,14.21 584.47,14.37 584.70,14.19 584.93,14.39 585.16,14.45 585.39,14.23 585.62,14.20 585.85,14.29 586.08,14.45 586.31,14.29 586.54,14.22 586.77,14.11 587.00,14.20 587.23,14.16 587.46,14.17 587.69,14.03 587.92,14.09 588.15,14.01 588.38,14.42 588.61,14.31 588.83,14.26 589.06,14.21 589.29,14.53 589.52,13.90 589.75,13.95 589.98,14.01 590.21,14.25 590.44,14.00 590.67,14.19 590.90,13.87 591.13,13.96 591.36,13.93 591.59,13.82 591.82,13.88 592.05,13.95 592.28,13.74 592.51,14.14 592.74,14.28 592.97,14.23 593.20,14.22 593.43,13.80 593.66,13.98 593.89,13.95 594.12,14.19 594.35,13.81 594.58,13.77 594.81,13.99 595.04,13.78 595.27,13.89 595.50,13.82 595.73,14.11 595.96,14.17 596.19,14.01 596.42,13.79 596.65,13.91 596.88,14.16 597.11,13.81 597.34,13.75 597.57,14.30 597.80,13.97 598.03,13.76 598.26,14.18 598.49,13.93 598.72,13.88 598.95,13.83 599.18,14.41 599.41,13.89 599.64,13.88 599.87,13.79 600.10,13.97 600.33,13.74 600.56,13.76 600.79,13.76 601.02,14.34 601.25,14.17 601.48,14.22 601.71,13.93 601.94,13.77 602.17,14.40 602.40,13.84 602.63,13.99 602.86,13.81 603.09,13.74 603.32,14.02 603.55,14.35 603.78,13.76 604.01,13.94 604.24,14.18 604.47,13.77 604.70,14.24 604.93,13.79 605.16,14.10 605.39,13.85 605.62,13.95 605.85,14.04 606.07,14.10 606.30,13.89 606.53,13.82 606.76,13.74 606.99,13.94 607.22,13.80 607.45,13.76 607.68,13.96 607.91,13.81 608.14,14.29 608.37,13.81 608.60,13.95 608.83,13.75 609.06,13.84 609.29,13.80 609.52,14.16 609.75,13.74 609.98,13.92 610.21,13.80 610.44,14.06 610.67,13.92 610.90,13.94 611.13,14.13 611.36,13.96 611.59,14.06 611.82,14.11 612.05,14.09 612.28,13.83 612.51,14.07 612.74,14.04 612.97,14.05 613.20,13.80 613.43,13.93 613.66,13.74 613.89,13.89 614.12,14.00 614.35,13.97 614.58,13.86 614.81,13.98 615.04,14.06 615.27,13.75 615.50,13.79 615.73,14.22 615.96,14.21 616.19,14.42 616.42,13.98 616.65,13.92 616.88,13.95 617.11,14.20 617.34,13.80 617.57,13.78 617.80,13.77 618.03,13.87 618.26,14.00 618.49,14.41 618.72,14.28 618.95,14.05 619.18,14.11 619.41,14.13 619.64,13.94 619.87,13.80 620.10,13.85 620.33,14.38 620.56,14.02 620.79,13.96 621.02,13.87 621.25,13.87 621.48,13.84 621.71,13.85 621.94,13.80 622.17,13.93 622.40,14.05 622.63,13.97 622.86,13.75 623.09,13.78 623.31,13.93 623.54,14.10 623.77,13.83 624.00,13.95 624.23,13.88 624.46,14.20 624.69,13.83 624.92,13.77 625.15,13.95 625.38,13.90 625.61,14.10 625.84,13.86 626.07,13.87 626.30,13.82 626.53,13.83 626.76,14.00 626.99,13.78 627.22,13.96 627.45,13.96 627.68,13.80 627.91,13.97 628.14,13.84 628.37,14.20 628.60,14.01 628.83,13.99 629.06,13.74 629.29,13.88 629.52,14.15 629.75,13.75 629.98,13.76 630.21,13.97 630.44,13.90 630.67,13.85 630.90,13.99 631.13,13.96 631.36,13.94 631.59,13.76 631.82,13.78 632.05,14.10 632.28,13.86 632.51,13.83 632.74,13.80 632.97,13.92 633.20,13.92 633.43,13.89 633.66,13.74 633.89,13.80 634.12,14.06 634.35,13.85 634.58,13.79 634.81,14.22 635.04,13.77 635.27,13.91 635.50,13.77 635.73,14.19 635.96,14.20 636.19,14.04 636.42,13.78 636.65,14.32 636.88,13.94 637.11,14.18 637.34,14.11 637.57,14.10 637.80,14.08 638.03,13.99 638.26,14.14 638.49,13.78 638.72,14.01 638.95,14.02 639.18,14.15 639.41,13.81 639.64,13.91 639.87,14.00 640.10,13.93 640.33,13.84 640.55,13.83 640.78,13.74 641.01,14.17 641.24,13.80 641.47,13.78 641.70,14.16 641.93,13.91 642.16,14.24 642.39,13.86 642.62,14.01 642.85,13.98 643.08,14.10 643.31,13.85 643.54,13.83 643.77,14.00 644.00,13.98 644.23,13.88 644.46,13.90 644.69,13.98 644.92,13.79 645.15,13.76 645.38,13.97 645.61,13.95 645.84,13.78 646.07,14.19 646.30,13.79 646.53,14.03 646.76,13.87 646.99,14.01 647.22,13.85 647.45,13.82 647.68,13.84 647.91,13.79 648.14,14.04 648.37,13.85 648.60,14.11 648.83,13.83 649.06,14.12 649.29,13.95 649.52,13.79 649.75,14.05 649.98,14.04 650.21,13.84 650.44,14.21 650.67,14.20 650.90,14.09 651.13,14.14 651.36,14.17 651.59,13.75 651.82,13.81 652.00,13.50" fill="none" stroke="#0000ff" stroke-width="0.75" stroke-linejoin="round"/>
<polyline points="652.34,13.50 652.16,14.72 652.64,15.95 652.78,17.18 652.42,18.40 653.01,19.62 653.28,20.85 652.83,22.08 653.20,23.30 653.55,24.55 653.20,25.80 653.78,27.05 653.42,28.30 653.86,29.55 653.46,30.80 653.78,32.05 654.14,33.30 653.71,34.55 653.82,35.80 654.06,37.05 654.00,38.30 653.87,39.55 654.04,40.80 654.09,42.05 654.40,43.30" fill="none" stroke="#0000ff" stroke-width="1.5" stroke-linejoin="round"/>
<polyline points="654.40,43.30 655.10,64.50" fill="none" stroke="#0000ff" stroke-width="0.8" stroke-linejoin="round"/>
<text x="40.80" y="163.70" text-anchor="middle" font-size="9.1" >0</text>
<text x="75.12" y="163.70" text-anchor="middle" font-size="9.1" >200</text>
<text x="109.44" y="163.70" text-anchor="middle" font-size="9.1" >400</text>
<text x="143.76" y="163.70" text-anchor="middle" font-size="9.1" >600</text>
<text x="178.08" y="163.70" text-anchor="middle" font-size="9.1" >800</text>
<text x="212.40" y="163.70" text-anchor="middle" font-size="9.1" >1000</text>
<text x="37.50" y="155.10" text-anchor="end" font-size="9.1" >0.999</text>
<text x="37.50" y="129.85" text-anchor="end" font-size="9.1" >0.9995</text>
<text x="37.50" y="104.60" text-anchor="end" font-size="9.1" >1</text>
<text x="126.60" y="98.20" text-anchor="middle" font-size="9.05" >LMD-SVD-GK-bear12-Normal</text>
<text x="0" y="0" text-anchor="middle" font-size="9" transform="translate(8.10 127.75) rotate(-90)">CV</text>
<polyline points="40.80,101.50 41.49,101.50 42.17,101.50 42.86,101.50 43.55,101.50 44.23,101.50 44.92,101.50 45.60,101.50 46.29,101.50 46.98,101.50 47.66,101.50 48.35,101.50 49.04,101.50 49.72,101.50 50.41,101.50 51.10,101.50 51.78,101.50 52.47,101.50 53.16,101.50 53.84,101.50 54.53,101.50 55.21,101.50 55.90,101.50 56.59,101.50 57.27,101.50 57.96,101.50 58.65,101.50 59.33,101.50 60.02,101.50 60.71,101.50 61.39,101.50 62.08,101.50 62.76,101.50 63.45,101.50 64.14,101.50 64.82,101.50 65.51,101.50 66.20,101.50 66.88,101.50 67.57,101.50 68.26,101.50 68.94,101.50 69.63,101.50 70.32,101.50 71.00,101.50 71.69,101.50 72.37,101.50 73.06,101.50 73.75,101.50 74.43,101.50 75.12,101.50 75.81,101.50 76.49,101.50 77.18,101.50 77.87,101.50 78.55,101.50 79.24,101.50 79.92,101.50 80.61,101.50 81.30,101.50 81.98,101.50 82.67,101.50 83.36,101.50 84.04,101.50 84.73,101.50 85.42,101.50 86.10,101.50 86.79,101.50 87.48,101.50 88.16,101.50 88.85,101.50 89.53,101.50 90.22,101.50 90.91,101.50 91.59,101.50 92.28,101.50 92.97,101.50 93.65,101.50 94.34,101.50 95.03,101.50 95.71,101.50 96.40,101.50 97.08,101.50 97.77,101.50 98.46,101.50 99.14,101.50 99.83,101.50 100.52,101.50 101.20,101.50 101.89,101.50 102.58,101.50 103.26,101.50 103.95,101.50 104.64,101.50 105.32,101.50 106.01,101.50 106.69,101.50 107.38,101.50 108.07,101.50 108.75,101.50 109.44,101.50 110.13,101.50 110.81,101.50 111.50,101.50 112.19,101.50 112.87,101.50 113.56,101.50 114.24,101.50 114.93,101.50 115.62,101.50 116.30,101.50 116.99,101.50 117.68,101.50 118.36,101.50 119.05,101.50 119.74,101.50 120.42,101.50 121.11,101.50 121.80,101.50 122.48,101.50 123.17,101.50 123.85,101.50 124.54,101.50 125.23,101.50 125.91,101.50 126.60,101.50 127.29,101.50 127.97,101.50 128.66,101.50 129.35,101.50 130.03,101.50 130.72,101.50 131.40,101.50 132.09,101.50 132.78,101.50 133.46,101.50 134.15,101.50 134.84,101.50 135.52,101.50 136.21,101.50 136.90,101.50 137.58,101.50 138.27,101.50 138.96,101.50 139.64,101.50 140.33,101.50 141.01,101.50 141.70,101.50 142.39,101.50 143.07,101.50 143.76,101.50 144.45,101.50 145.13,101.50 145.82,101.50 146.51,101.50 147.19,101.50 147.88,101.50 148.56,101.50 149.25,101.50 149.94,101.50 150.62,101.50 151.31,101.50 152.00,101.50 152.68,101.50 153.37,101.50 154.06,101.50 154.74,101.50 155.43,101.50 156.12,101.50 156.80,101.50 157.49,101.50 158.17,101.50 158.86,101.50 159.55,101.50 160.23,101.50 160.92,101.50 161.61,101.50 162.29,101.50 162.98,101.50 163.67,101.50 164.35,101.50 165.04,101.50 165.72,101.50 166.41,101.50 167.10,101.50 167.78,101.50 168.47,101.50 169.16,101.50 169.84,101.50 170.53,101.50 171.22,101.50 171.90,101.50 172.59,101.50 173.28,101.50 173.96,101.50 174.65,101.50 175.33,101.50 176.02,101.50 176.71,101.50 177.39,101.50 178.08,101.50 178.77,101.50 179.45,101.50 180.14,101.50 180.83,101.50 181.51,101.50 182.90,101.60 183.30,108.00 183.60,112.70 183.80,115.68 184.02,114.68 184.24,116.04 184.46,112.68 184.68,116.04 184.90,112.98 185.12,115.33 185.34,116.14 185.56,115.04 185.78,117.88 186.00,116.58 186.22,116.98 186.44,118.77 186.66,115.16 186.88,119.88 187.10,118.35 187.32,117.45 187.54,119.75 188.20,118.50 188.80,116.20 189.20,120.00 189.50,126.50 189.90,128.80 190.10,126.50 190.30,130.00 190.40,148.10" fill="none" stroke="#0000ff" stroke-width="0.75" stroke-linejoin="round"/>
<text x="267.50" y="163.70" text-anchor="middle" font-size="9.1" >0</text>
<text x="301.88" y="163.70" text-anchor="middle" font-size="9.1" >200</text>
<text x="336.26" y="163.70" text-anchor="middle" font-size="9.1" >400</text>
<text x="370.64" y="163.70" text-anchor="middle" font-size="9.1" >600</text>
<text x="405.02" y="163.70" text-anchor="middle" font-size="9.1" >800</text>
<text x="439.40" y="163.70" text-anchor="middle" font-size="9.1" >1000</text>
<text x="264.20" y="155.10" text-anchor="end" font-size="9.1" >0.9996</text>
<text x="264.20" y="129.85" text-anchor="end" font-size="9.1" >0.9998</text>
<text x="264.20" y="104.60" text-anchor="end" font-size="9.1" >1</text>
<text x="353.45" y="98.20" text-anchor="middle" font-size="9.05" >LMD-SVD-GK-bear12-Severe</text>
<text x="353.45" y="174.80" text-anchor="middle" font-size="8.9" >Time</text>
<polyline points="267.50,134.63 267.67,135.52 267.84,134.89 268.02,137.90 268.19,138.76 268.36,139.54 268.53,139.94 268.70,137.80 268.88,140.37 269.05,142.21 269.22,141.66 269.39,142.02 269.56,142.07 269.73,141.06 269.91,141.14 270.08,141.73 270.25,141.55 270.42,142.57 270.59,142.49 270.77,140.60 270.94,139.46 271.11,141.27 271.28,143.59 271.45,141.85 271.63,143.38 271.80,138.05 271.97,142.06 272.14,141.11 272.31,141.04 272.49,140.77 272.66,142.63 272.83,143.07 273.00,143.74 273.17,141.18 273.34,141.17 273.52,142.50 273.69,143.53 273.86,142.35 274.03,140.28 274.20,143.10 274.38,143.19 274.55,144.02 274.72,140.54 274.89,141.85 275.06,142.26 275.24,142.37 275.41,140.95 275.58,143.07 275.75,140.79 275.92,143.51 276.10,143.59 276.27,144.30 276.44,142.18 276.61,143.94 276.78,141.65 276.95,142.81 277.13,142.78 277.30,140.65 277.47,141.15 277.64,143.03 277.81,143.82 277.99,139.26 278.16,142.06 278.33,142.30 278.50,142.80 278.67,142.01 278.85,140.36 279.02,142.08 279.19,143.83 279.36,140.91 279.53,141.69 279.70,142.36 279.88,142.52 280.05,143.17 280.22,142.00 280.39,141.16 280.56,143.68 280.74,142.50 280.91,143.50 281.08,140.08 281.25,140.79 281.42,142.17 281.60,140.26 281.77,143.48 281.94,140.31 282.11,142.50 282.28,140.39 282.46,143.12 282.63,140.71 282.80,143.22 282.97,143.60 283.14,141.48 283.31,141.17 283.49,142.86 283.66,137.94 283.83,142.59 284.00,141.65 284.17,142.18 284.35,141.73 284.52,142.80 284.69,144.04 284.86,143.15 285.03,142.96 285.21,141.15 285.38,142.12 285.55,141.92 285.72,142.28 285.89,137.63 286.07,142.03 286.24,140.19 286.41,141.31 286.58,142.33 286.75,142.96 286.92,142.22 287.10,140.39 287.27,143.16 287.44,143.82 287.61,141.97 287.78,141.78 287.96,141.95 288.13,143.34 288.30,143.40 288.47,142.48 288.64,142.58 288.82,144.26 288.99,142.22 289.16,142.94 289.33,142.52 289.50,143.59 289.68,144.10 289.85,142.47 290.02,142.29 290.19,143.10 290.36,143.68 290.53,140.56 290.71,141.97 290.88,141.46 291.05,141.86 291.22,142.13 291.39,144.22 291.57,142.97 291.74,142.49 291.91,138.74 292.08,140.80 292.25,139.96 292.43,139.49 292.60,142.19 292.77,129.28 292.94,141.36 293.11,142.09 293.28,138.21 293.46,140.76 293.63,137.47 293.80,143.75 293.97,141.87 294.14,143.73 294.32,139.18 294.49,143.15 294.66,140.39 294.83,142.96 295.00,142.36 295.18,141.30 295.35,141.99 295.52,144.43 295.69,137.82 295.86,138.07 296.04,143.97 296.21,142.91 296.38,143.05 296.55,142.53 296.72,142.64 296.89,143.40 297.07,142.65 297.24,142.12 297.41,141.38 297.58,144.10 297.75,144.88 297.93,142.66 298.10,141.77 298.27,144.97 298.44,136.85 298.61,141.19 298.79,140.97 298.96,144.37 299.13,139.47 299.30,144.40 299.47,142.97 299.65,143.92 299.82,140.48 299.99,143.39 300.16,143.42 300.33,142.48 300.50,143.62 300.68,142.73 300.85,143.09 301.02,142.98 301.19,141.70 301.36,142.11 301.54,143.96 301.71,142.96 301.88,142.61 302.05,143.49 302.22,142.23 302.40,142.42 302.57,144.18 302.74,141.88 302.91,144.62 303.08,143.67 303.26,138.34 303.43,144.48 303.60,144.29 303.77,144.42 303.94,144.28 304.11,142.40 304.29,141.36 304.46,139.97 304.63,143.11 304.80,143.98 304.97,144.24 305.15,143.06 305.32,142.64 305.49,143.20 305.66,144.98 305.83,143.07 306.01,144.66 306.18,144.50 306.35,142.72 306.52,142.43 306.69,143.08 306.87,143.48 307.04,134.33 307.21,141.93 307.38,142.60 307.55,143.43 307.72,142.08 307.90,144.05 308.07,143.45 308.24,143.91 308.41,137.94 308.58,141.56 308.76,143.81 308.93,142.96 309.10,139.31 309.27,142.30 309.44,141.39 309.62,140.58 309.79,142.38 309.96,144.54 310.13,143.27 310.30,143.35 310.48,144.95 310.65,142.39 310.82,145.47 310.99,142.02 311.16,144.91 311.33,144.82 311.51,142.80 311.68,142.92 311.85,142.76 312.02,139.41 312.19,145.65 312.37,139.17 312.54,144.77 312.71,144.52 312.88,145.79 313.05,143.69 313.23,144.49 313.40,143.77 313.57,142.15 313.74,143.96 313.91,142.16 314.08,141.61 314.26,145.46 314.43,141.28 314.60,131.80 314.77,141.66 314.94,141.17 315.12,143.81 315.29,143.53 315.46,143.28 315.63,143.76 315.80,143.77 315.98,143.99 316.15,142.20 316.32,138.02 316.49,143.86 316.66,145.72 316.84,143.78 317.01,143.50 317.18,143.36 317.35,144.85 317.52,142.66 317.69,143.60 317.87,144.17 318.04,142.90 318.21,144.24 318.38,144.97 318.55,142.88 318.73,139.48 318.90,139.56 319.07,145.19 319.24,145.54 319.41,146.40 319.59,141.10 319.76,144.77 319.93,128.01 320.10,143.39 320.27,144.26 320.45,141.24 320.62,144.24 320.79,138.62 320.96,141.84 321.13,140.52 321.30,142.83 321.48,145.53 321.65,145.25 321.82,141.74 321.99,144.97 322.16,143.59 322.34,144.09 322.51,143.53 322.68,145.37 322.85,136.75 323.02,142.70 323.20,142.58 323.37,143.86 323.54,143.92 323.71,141.80 323.88,144.69 324.06,135.49 324.23,140.84 324.40,141.40 324.57,144.30 324.74,144.36 324.91,142.13 325.09,144.41 325.26,144.35 325.43,142.81 325.60,143.83 325.77,144.51 325.95,143.63 326.12,142.78 326.29,142.65 326.46,139.58 326.63,144.36 326.81,145.13 326.98,140.83 327.15,145.07 327.32,144.06 327.49,144.43 327.66,142.67 327.84,143.99 328.01,144.06 328.18,142.94 328.35,139.62 328.52,144.08 328.70,145.48 328.87,145.37 329.04,144.84 329.21,144.64 329.38,144.60 329.56,143.60 329.73,145.86 329.90,142.63 330.07,145.52 330.24,143.45 330.42,144.94 330.59,145.78 330.76,145.09 330.93,144.65 331.10,140.89 331.27,140.86 331.45,145.80 331.62,147.25 331.79,143.55 331.96,146.01 332.13,144.64 332.31,144.05 332.48,144.99 332.65,142.33 332.82,146.16 332.99,145.23 333.17,144.75 333.34,145.13 333.51,145.59 333.68,144.44 333.85,146.21 334.03,145.52 334.20,143.60 334.37,145.92 334.54,144.59 334.71,139.70 334.88,143.91 335.06,146.10 335.23,146.22 335.40,145.06 335.57,145.67 335.74,144.66 335.92,145.14 336.09,147.66 336.26,136.85 336.43,146.31 336.60,144.85 336.78,146.19 336.95,145.19 337.12,146.00 337.29,145.10 337.46,145.18 337.64,144.74 337.81,146.27 337.98,144.39 338.15,145.09 338.32,145.82 338.49,145.43 338.67,145.52 338.84,143.19 339.01,145.24 339.18,144.92 339.35,147.38 339.53,142.92 339.70,147.55 339.87,145.53 340.04,143.28 340.21,146.91 340.39,146.53 340.56,147.40 340.73,145.14 340.90,144.12 341.07,144.25 341.25,143.72 341.42,146.28 341.59,146.26 341.76,144.23 341.93,146.32 342.10,142.42 342.28,143.59 342.45,148.00 342.62,145.67 342.79,140.84 342.96,145.80 343.14,147.14 343.31,146.51 343.48,146.13 343.65,147.34 343.82,144.12 344.00,143.57 344.17,145.44 344.34,143.02 344.51,147.65 344.68,145.11 344.86,146.00 345.03,145.58 345.20,145.25 345.37,146.44 345.54,146.02 345.71,144.75 345.89,148.24 346.06,146.27 346.23,144.48 346.40,136.62 346.57,146.93 346.75,145.05 346.92,143.36 347.09,145.18 347.26,133.06 347.43,144.67 347.61,144.44 347.78,149.17 347.95,146.37 348.12,144.90 348.29,143.17 348.46,145.42 348.64,147.14 348.81,145.89 348.98,146.45 349.15,146.04 349.32,145.57 349.50,146.49 349.67,145.16 349.84,146.13 350.01,147.10 350.18,139.69 350.36,146.79 350.53,146.43 350.70,138.75 350.87,145.97 351.04,144.32 351.22,145.24 351.39,146.39 351.56,146.39 351.73,143.87 351.90,144.09 352.07,144.97 352.25,145.18 352.42,146.25 352.59,144.31 352.76,145.71 352.93,145.39 353.11,144.42 353.28,144.26 353.45,147.49 353.62,141.64 353.79,144.35 353.97,143.40 354.14,140.35 354.31,144.90 354.48,142.34 354.65,145.21 354.83,142.25 355.00,147.06 355.17,144.11 355.34,145.52 355.51,143.53 355.68,143.69 355.86,145.12 356.03,143.74 356.20,144.36 356.37,144.66 356.54,146.92 356.72,143.22 356.89,145.47 357.06,146.62 357.23,145.25 357.40,144.02 357.58,143.96 357.75,136.85 357.92,146.76 358.09,144.74 358.26,144.75 358.44,146.43 358.61,146.50 358.78,143.87 358.95,146.75 359.12,145.13 359.29,147.46 359.47,146.04 359.64,146.23 359.81,145.53 359.98,141.62 360.15,147.28 360.33,144.89 360.50,145.11 360.67,146.38 360.84,146.18 361.01,147.72 361.19,146.37 361.36,147.00 361.53,142.49 361.70,144.90 361.87,146.14 362.05,144.87 362.22,145.86 362.39,145.80 362.56,146.25 362.73,145.59 362.90,146.01 363.08,139.81 363.25,146.54 363.42,143.75 363.59,146.94 363.76,144.56 363.94,145.38 364.11,141.91 364.28,144.94 364.45,146.35 364.62,146.19 364.80,145.21 364.97,146.18 365.14,145.10 365.31,141.95 365.48,146.15 365.65,145.34 365.83,144.67 366.00,143.95 366.17,145.97 366.34,144.24 366.51,146.57 366.69,145.39 366.86,147.87 367.03,141.75 367.20,147.87 367.37,142.60 367.55,146.00 367.72,146.95 367.89,146.29 368.06,147.30 368.23,146.63 368.41,142.80 368.58,146.65 368.75,146.43 368.92,145.10 369.09,144.52 369.26,143.58 369.44,144.28 369.61,146.06 369.78,146.78 369.95,145.75 370.12,144.64 370.30,145.69 370.47,144.45 370.64,146.42 370.81,145.67 370.98,138.42 371.16,144.51 371.33,147.13 371.50,145.08 371.67,147.28 371.84,146.46 372.02,142.82 372.19,146.37 372.36,136.85 372.53,144.37 372.70,145.28 372.87,147.11 373.05,145.28 373.22,145.27 373.39,140.30 373.56,146.12 373.73,144.33 373.91,146.75 374.08,144.89 374.25,146.29 374.42,142.30 374.59,147.54 374.77,137.15 374.94,146.20 375.11,146.17 375.28,144.94 375.45,143.40 375.63,145.44 375.80,145.88 375.97,145.94 376.14,140.91 376.31,147.51 376.48,147.45 376.66,145.73 376.83,143.63 377.00,145.93 377.17,147.73 377.34,142.82 377.52,145.01 377.69,145.98 377.86,146.57 378.03,142.47 378.20,145.51 378.38,142.73 378.55,144.37 378.72,146.18 378.89,144.74 379.06,147.54 379.24,146.48 379.41,143.87 379.58,146.06 379.75,142.62 379.92,146.38 380.09,143.21 380.27,141.30 380.44,145.94 380.61,146.38 380.78,145.48 380.95,144.56 381.13,145.07 381.30,145.53 381.47,148.52 381.64,145.45 381.81,146.26 381.99,143.70 382.16,148.49 382.33,144.91 382.50,145.90 382.67,148.06 382.84,143.55 383.02,146.83 383.19,141.92 383.36,146.69 383.53,145.88 383.70,146.11 383.88,146.59 384.05,144.52 384.22,145.84 384.39,131.80 384.56,147.15 384.74,145.49 384.91,142.81 385.08,145.84 385.25,145.37 385.42,146.50 385.60,145.65 385.77,145.88 385.94,143.09 386.11,143.55 386.28,145.51 386.45,145.99 386.63,145.91 386.80,146.81 386.97,142.60 387.14,147.21 387.31,146.48 387.49,146.40 387.66,144.90 387.83,145.75 388.00,146.75 388.17,147.83 388.35,146.75 388.52,146.84 388.69,146.43 388.86,144.66 389.03,146.75 389.21,146.60 389.38,146.84 389.55,147.28 389.72,146.07 389.89,145.82 390.06,143.16 390.24,145.26 390.41,147.49 390.58,143.93 390.75,146.26 390.92,144.70 391.10,146.78 391.27,144.98 391.44,146.01 391.61,145.54 391.78,145.58 391.96,145.55 392.13,145.51 392.30,145.97 392.47,144.77 392.64,145.70 392.82,146.05 392.99,145.47 393.16,145.60 393.33,145.23 393.50,143.84 393.67,145.49 393.85,144.83 394.02,145.38 394.19,145.15 394.36,145.74 394.53,144.70 394.71,144.78 394.88,145.93 395.05,144.68 395.22,146.00 395.39,144.61 395.57,145.06 395.74,144.76 395.91,145.04 396.08,144.76 396.25,145.45 396.42,143.65 396.60,144.50 396.77,144.23 396.94,144.93 397.11,145.74 397.28,145.82 397.46,144.79 397.63,145.24 397.80,145.10 397.97,144.57 398.14,143.89 398.32,144.57 398.49,144.95 398.66,144.74 398.83,144.59 399.00,143.69 399.18,144.58 399.35,144.40 399.52,144.44 399.69,145.10 399.86,143.71 400.03,144.42 400.21,144.52 400.38,144.53 400.55,144.57 400.72,143.12 400.89,144.33 401.07,144.23 401.24,144.52 401.41,144.60 401.58,144.20 401.75,144.34 401.93,144.80 402.10,145.25 402.27,144.21 402.44,143.31 402.61,144.37 402.79,144.01 402.96,143.83 403.13,144.57 403.30,144.12 403.47,143.40 403.64,144.01 403.82,144.67 403.99,144.21 404.16,144.07 404.33,144.40 404.50,143.51 404.68,143.99 404.85,141.74 405.02,142.63 405.19,143.54 405.36,143.98 405.54,144.13 405.71,144.05 405.88,143.74 406.05,143.44 406.22,143.08 406.40,143.12 406.57,143.46 406.74,144.59 406.91,142.97 407.08,143.39 407.25,143.86 407.43,142.98 407.60,143.90 407.77,143.62 407.94,143.46 408.11,143.46 408.29,143.46 408.80,139.38 408.97,120.44 409.49,107.81 410.52,102.13 410.86,101.99 411.21,101.84 411.55,101.52 411.90,101.68 412.24,101.51 412.58,101.79 412.93,101.80 413.27,101.79 413.62,101.77 413.96,101.74 414.30,101.69 414.65,101.79 414.99,101.75 415.33,101.66 416.71,105.29 416.88,111.60 417.22,122.96" fill="none" stroke="#0000ff" stroke-width="0.75" stroke-linejoin="round"/>
<text x="40.80" y="251.80" text-anchor="middle" font-size="9.1" >0</text>
<text x="83.70" y="251.80" text-anchor="middle" font-size="9.1" >500</text>
<text x="126.60" y="251.80" text-anchor="middle" font-size="9.1" >1000</text>
<text x="169.50" y="251.80" text-anchor="middle" font-size="9.1" >1500</text>
<text x="212.40" y="251.80" text-anchor="middle" font-size="9.1" >2000</text>
<text x="37.50" y="243.20" text-anchor="end" font-size="9.1" >0.999</text>
<text x="37.50" y="217.95" text-anchor="end" font-size="9.1" >0.9995</text>
<text x="37.50" y="192.70" text-anchor="end" font-size="9.1" >1</text>
<text x="126.60" y="186.30" text-anchor="middle" font-size="9.05" >LMD-SVD-GK-bear13-Normal</text>
<text x="0" y="0" text-anchor="middle" font-size="9" transform="translate(8.10 215.85) rotate(-90)">CV</text>
<polyline points="40.80,189.73 40.89,189.67 40.97,189.62 41.06,189.66 41.14,189.65 41.23,189.70 41.31,189.66 41.40,189.62 41.49,189.72 41.57,189.67 41.66,189.61 41.74,189.75 41.83,189.78 41.92,189.72 42.00,189.62 42.09,189.78 42.17,189.63 42.26,189.60 42.34,189.66 42.43,189.65 42.52,189.70 42.60,189.72 42.69,189.75 42.77,189.76 42.86,189.73 42.95,189.70 43.03,189.63 43.12,189.69 43.20,189.76 43.29,189.64 43.37,189.64 43.46,189.60 43.55,189.65 43.63,189.71 43.72,189.74 43.80,189.71 43.89,189.61 43.97,189.69 44.06,189.65 44.15,189.76 44.23,189.60 44.32,189.71 44.40,189.64 44.49,189.65 44.58,189.76 44.66,189.69 44.75,189.72 44.83,189.68 44.92,189.69 45.00,189.61 45.09,189.70 45.18,189.65 45.26,189.68 45.35,189.67 45.43,189.61 45.52,189.63 45.60,189.61 45.69,189.67 45.78,189.74 45.86,189.61 45.95,189.69 46.03,189.61 46.12,189.79 46.21,189.72 46.29,189.68 46.38,189.64 46.46,189.65 46.55,189.76 46.63,189.68 46.72,189.67 46.81,189.67 46.89,189.71 46.98,189.63 47.06,189.71 47.15,189.72 47.23,189.63 47.32,189.70 47.41,189.71 47.49,189.75 47.58,189.66 47.66,189.68 47.75,189.80 47.84,189.71 47.92,189.70 48.01,189.85 48.09,189.62 48.18,189.69 48.26,189.65 48.35,189.68 48.44,189.75 48.52,189.67 48.61,189.69 48.69,189.68 48.78,189.82 48.87,189.60 48.95,189.60 49.04,189.62 49.12,189.69 49.21,189.66 49.29,189.79 49.38,189.65 49.47,189.70 49.55,189.66 49.64,189.68 49.72,189.67 49.81,189.72 49.89,189.61 49.98,189.67 50.07,189.73 50.15,189.61 50.24,189.70 50.32,189.75 50.41,189.64 50.50,189.76 50.58,189.66 50.67,189.61 50.75,189.65 50.84,189.61 50.92,189.64 51.01,189.62 51.10,189.64 51.18,189.74 51.27,189.69 51.35,189.63 51.44,189.61 51.52,189.67 51.61,189.74 51.70,189.63 51.78,189.60 51.87,189.64 51.95,189.70 52.04,189.91 52.13,189.78 52.21,189.68 52.30,189.79 52.38,189.66 52.47,189.67 52.55,189.61 52.64,189.60 52.73,189.68 52.81,189.61 52.90,189.61 52.98,189.69 53.07,189.61 53.16,189.80 53.24,189.71 53.33,189.64 53.41,189.63 53.50,189.62 53.58,189.67 53.67,189.79 53.76,189.66 53.84,189.79 53.93,189.60 54.01,189.67 54.10,189.72 54.18,189.64 54.27,189.68 54.36,189.68 54.44,189.73 54.53,189.61 54.61,189.72 54.70,189.74 54.79,189.67 54.87,189.82 54.96,189.63 55.04,189.61 55.13,189.65 55.21,189.71 55.30,189.71 55.39,189.67 55.47,189.64 55.56,189.67 55.64,189.62 55.73,189.68 55.81,189.64 55.90,189.78 55.99,189.69 56.07,189.66 56.16,189.70 56.24,189.64 56.33,189.63 56.42,189.62 56.50,189.73 56.59,189.66 56.67,189.79 56.76,189.66 56.84,189.72 56.93,189.66 57.02,189.70 57.10,189.81 57.19,189.77 57.27,189.67 57.36,189.75 57.45,189.60 57.53,189.64 57.62,189.68 57.70,189.65 57.79,189.79 57.87,189.74 57.96,189.78 58.05,189.61 58.13,189.64 58.22,189.75 58.30,189.70 58.39,189.70 58.47,189.63 58.56,189.64 58.65,189.67 58.73,189.73 58.82,189.69 58.90,189.62 58.99,189.63 59.08,189.61 59.16,189.63 59.25,189.64 59.33,189.67 59.42,189.61 59.50,189.73 59.59,189.65 59.68,189.72 59.76,189.73 59.85,189.78 59.93,189.69 60.02,189.77 60.11,189.70 60.19,189.75 60.28,189.70 60.36,189.61 60.45,189.70 60.53,189.62 60.62,189.65 60.71,189.66 60.79,189.64 60.88,189.61 60.96,189.76 61.05,189.64 61.13,189.74 61.22,189.66 61.31,189.74 61.39,189.72 61.48,189.76 61.56,189.76 61.65,189.84 61.74,189.61 61.82,189.68 61.91,189.61 61.99,189.70 62.08,189.74 62.16,189.83 62.25,189.61 62.34,189.70 62.42,189.66 62.51,189.69 62.59,189.70 62.68,189.64 62.76,189.61 62.85,189.65 62.94,189.66 63.02,189.75 63.11,189.72 63.19,189.63 63.28,189.83 63.37,189.73 63.45,189.63 63.54,189.69 63.62,189.62 63.71,189.74 63.79,189.65 63.88,189.69 63.97,189.63 64.05,189.67 64.14,189.62 64.22,189.60 64.31,189.66 64.40,189.62 64.48,189.68 64.57,189.72 64.65,189.65 64.74,189.71 64.82,189.67 64.91,189.63 65.00,189.73 65.08,189.63 65.17,189.61 65.25,189.65 65.34,189.60 65.42,189.63 65.51,189.64 65.60,189.68 65.68,189.64 65.77,189.71 65.85,189.71 65.94,189.63 66.03,189.65 66.11,189.68 66.20,189.63 66.28,189.71 66.37,189.77 66.45,189.66 66.54,189.61 66.63,189.77 66.71,189.72 66.80,189.69 66.88,189.68 66.97,189.65 67.05,189.61 67.14,189.66 67.23,189.61 67.31,189.72 67.40,189.63 67.48,189.64 67.57,189.65 67.66,189.66 67.74,189.64 67.83,189.65 67.91,189.65 68.00,189.68 68.08,189.69 68.17,189.61 68.26,189.61 68.34,189.71 68.43,189.64 68.51,189.63 68.60,189.73 68.69,189.63 68.77,189.67 68.86,189.60 68.94,189.66 69.03,189.60 69.11,189.63 69.20,189.70 69.29,189.68 69.37,189.66 69.46,189.81 69.54,189.71 69.63,189.67 69.71,189.61 69.80,189.74 69.89,189.63 69.97,189.76 70.06,189.67 70.14,189.63 70.23,189.83 70.32,189.77 70.40,189.74 70.49,189.64 70.57,189.67 70.66,189.77 70.74,189.70 70.83,189.75 70.92,189.82 71.00,189.65 71.09,189.84 71.17,189.62 71.26,189.69 71.34,189.65 71.43,189.66 71.52,189.64 71.60,189.62 71.69,189.75 71.77,189.65 71.86,189.68 71.95,189.64 72.03,189.65 72.12,189.62 72.20,189.69 72.29,189.94 72.37,189.65 72.46,189.63 72.55,189.71 72.63,189.78 72.72,189.60 72.80,189.74 72.89,189.69 72.97,189.64 73.06,189.65 73.15,189.74 73.23,189.74 73.32,189.61 73.40,189.64 73.49,189.62 73.58,189.69 73.66,189.74 73.75,189.82 73.83,189.68 73.92,189.75 74.00,189.73 74.09,189.74 74.18,189.80 74.26,189.68 74.35,189.61 74.43,189.79 74.52,189.64 74.61,189.73 74.69,189.77 74.78,189.67 74.86,189.64 74.95,189.80 75.03,189.68 75.12,189.85 75.21,189.84 75.29,189.65 75.38,189.80 75.46,189.78 75.55,189.62 75.63,189.67 75.72,189.64 75.81,189.66 75.89,189.64 75.98,189.71 76.06,189.61 76.15,189.72 76.24,189.73 76.32,189.68 76.41,189.62 76.49,189.70 76.58,189.64 76.66,189.78 76.75,189.70 76.84,189.82 76.92,189.65 77.01,189.69 77.09,189.73 77.18,189.68 77.27,189.65 77.35,189.68 77.44,189.76 77.52,189.71 77.61,189.60 77.69,189.61 77.78,189.62 77.87,189.60 77.95,189.74 78.04,189.72 78.12,189.72 78.21,189.67 78.29,189.69 78.38,189.62 78.47,189.62 78.55,189.69 78.64,189.68 78.72,189.72 78.81,189.61 78.90,189.64 78.98,189.62 79.07,189.76 79.15,189.74 79.24,189.65 79.32,189.62 79.41,189.65 79.50,189.61 79.58,189.63 79.67,189.63 79.75,189.66 79.84,189.63 79.92,189.85 80.01,189.65 80.10,189.65 80.18,189.71 80.27,189.69 80.35,189.68 80.44,189.66 80.53,189.85 80.61,189.60 80.70,189.90 80.78,189.61 80.87,189.67 80.95,189.78 81.04,189.66 81.13,189.71 81.21,189.66 81.30,189.60 81.38,189.70 81.47,189.64 81.56,189.63 81.64,189.67 81.73,189.63 81.81,189.64 81.90,189.79 81.98,189.67 82.07,189.70 82.16,189.61 82.24,189.79 82.33,189.69 82.41,189.62 82.50,189.63 82.58,189.68 82.67,189.68 82.76,189.69 82.84,189.63 82.93,189.68 83.01,189.72 83.10,189.69 83.19,189.69 83.27,189.70 83.36,189.80 83.44,189.70 83.53,189.60 83.61,189.63 83.70,189.61 83.79,189.68 83.87,189.73 83.96,189.70 84.04,189.64 84.13,189.60 84.21,189.81 84.30,189.62 84.39,189.77 84.47,189.69 84.56,189.62 84.64,189.76 84.73,189.79 84.82,189.64 84.90,189.64 84.99,189.71 85.07,189.67 85.16,189.70 85.24,189.63 85.33,189.60 85.42,189.74 85.50,189.63 85.59,189.77 85.67,189.63 85.76,189.72 85.84,189.85 85.93,189.73 86.02,189.71 86.10,189.75 86.19,189.64 86.27,189.69 86.36,189.75 86.45,189.64 86.53,189.63 86.62,189.68 86.70,189.67 86.79,189.71 86.87,189.68 86.96,189.76 87.05,189.63 87.13,189.65 87.22,189.81 87.30,189.62 87.39,189.69 87.48,189.74 87.56,189.64 87.65,189.68 87.73,189.68 87.82,189.63 87.90,189.80 87.99,189.78 88.08,189.66 88.16,189.62 88.25,189.69 88.33,189.83 88.42,189.63 88.50,189.68 88.59,189.64 88.68,189.62 88.76,189.61 88.85,189.70 88.93,189.80 89.02,189.77 89.11,189.61 89.19,189.67 89.28,189.69 89.36,189.66 89.45,189.67 89.53,189.72 89.62,189.62 89.71,189.69 89.79,189.70 89.88,189.74 89.96,189.73 90.05,189.62 90.13,189.68 90.22,189.75 90.31,189.62 90.39,189.69 90.48,189.71 90.56,189.66 90.65,189.63 90.74,189.74 90.82,189.61 90.91,189.77 90.99,189.78 91.08,189.65 91.16,189.69 91.25,189.64 91.34,189.67 91.42,189.63 91.51,189.60 91.59,189.64 91.68,189.76 91.77,189.65 91.85,189.65 91.94,189.69 92.02,189.62 92.11,189.65 92.19,189.65 92.28,189.74 92.37,189.74 92.45,189.63 92.54,189.66 92.62,189.76 92.71,189.79 92.79,189.75 92.88,189.60 92.97,189.69 93.05,189.74 93.14,189.71 93.22,189.64 93.31,189.65 93.40,189.69 93.48,189.69 93.57,189.75 93.65,189.62 93.74,189.64 93.82,189.63 93.91,189.62 94.00,189.63 94.08,189.70 94.17,189.66 94.25,189.69 94.34,189.72 94.43,189.69 94.51,189.65 94.60,189.67 94.68,189.64 94.77,189.70 94.85,189.75 94.94,189.63 95.03,189.65 95.11,189.68 95.20,189.75 95.28,189.82 95.37,189.60 95.45,189.73 95.54,189.70 95.63,189.66 95.71,189.73 95.80,189.64 95.88,189.64 95.97,189.64 96.06,189.75 96.14,189.66 96.23,189.65 96.31,189.73 96.40,189.66 96.48,189.64 96.57,189.67 96.66,189.62 96.74,189.67 96.83,189.73 96.91,189.68 97.00,189.78 97.08,189.63 97.17,189.70 97.26,189.72 97.34,189.77 97.43,189.68 97.51,189.60 97.60,189.61 97.69,189.64 97.77,189.64 97.86,189.61 97.94,189.63 98.03,189.72 98.11,189.64 98.20,189.61 98.29,189.63 98.37,189.62 98.46,189.64 98.54,189.62 98.63,189.74 98.72,189.65 98.80,189.68 98.89,189.66 98.97,189.63 99.06,189.62 99.14,189.67 99.23,189.70 99.32,189.76 99.40,189.62 99.49,189.61 99.57,189.60 99.66,189.62 99.74,189.71 99.83,189.60 99.92,189.73 100.00,189.65 100.09,189.62 100.17,189.73 100.26,189.70 100.35,189.67 100.43,189.66 100.52,189.64 100.60,189.82 100.69,189.85 100.77,189.69 100.86,189.84 100.95,189.74 101.03,189.86 101.12,189.70 101.20,189.65 101.29,189.67 101.37,189.68 101.46,189.67 101.55,189.74 101.63,189.69 101.72,189.63 101.80,189.64 101.89,189.70 101.98,189.61 102.06,189.66 102.15,189.61 102.23,189.72 102.32,189.66 102.40,189.63 102.49,189.62 102.58,189.66 102.66,189.61 102.75,189.73 102.83,189.68 102.92,189.86 103.00,189.60 103.09,189.85 103.18,189.74 103.26,189.68 103.35,189.61 103.43,189.64 103.52,189.60 103.61,189.62 103.69,189.71 103.78,189.72 103.86,189.65 103.95,189.66 104.03,189.64 104.12,189.65 104.21,189.81 104.29,189.83 104.38,189.61 104.46,189.63 104.55,189.64 104.64,189.68 104.72,189.75 104.81,189.71 104.89,189.65 104.98,189.61 105.06,189.65 105.15,189.64 105.24,189.62 105.32,189.71 105.41,189.82 105.49,189.61 105.58,189.63 105.66,189.71 105.75,189.62 105.84,189.65 105.92,189.70 106.01,189.68 106.09,189.67 106.18,189.60 106.27,189.60 106.35,189.62 106.44,189.73 106.52,189.69 106.61,189.87 106.69,189.70 106.78,189.75 106.87,189.66 106.95,189.74 107.04,189.72 107.12,189.63 107.21,189.65 107.30,189.67 107.38,189.61 107.47,189.68 107.55,189.65 107.64,189.79 107.72,189.61 107.81,189.63 107.90,189.71 107.98,189.80 108.07,189.66 108.15,189.64 108.24,189.61 108.32,189.66 108.41,189.73 108.50,189.69 108.58,189.68 108.67,189.64 108.75,189.65 108.84,189.61 108.93,189.82 109.01,189.64 109.10,189.63 109.18,189.64 109.27,189.63 109.35,189.63 109.44,189.71 109.53,189.72 109.61,189.67 109.70,189.63 109.78,189.70 109.87,189.75 109.95,189.67 110.04,189.71 110.13,189.64 110.21,189.72 110.30,189.69 110.38,189.62 110.47,189.67 110.56,189.69 110.64,189.73 110.73,189.65 110.81,189.61 110.90,189.71 110.98,189.67 111.07,189.67 111.16,189.63 111.24,189.67 111.33,189.61 111.41,189.74 111.50,189.71 111.59,189.66 111.67,189.73 111.76,189.60 111.84,189.63 111.93,189.83 112.01,189.75 112.10,189.61 112.19,189.63 112.27,189.67 112.36,189.62 112.44,189.66 112.53,189.63 112.61,189.71 112.70,189.81 112.79,189.75 112.87,189.77 112.96,189.60 113.04,189.66 113.13,189.77 113.22,189.62 113.30,189.82 113.39,189.76 113.47,189.62 113.56,189.66 113.64,189.62 113.73,189.66 113.82,189.65 113.90,189.60 113.99,189.65 114.07,189.81 114.16,189.61 114.24,189.60 114.33,189.68 114.42,189.70 114.50,189.65 114.59,189.71 114.67,189.70 114.76,189.69 114.85,189.61 114.93,189.64 115.02,189.72 115.10,189.64 115.19,189.63 115.27,189.70 115.36,189.77 115.45,189.61 115.53,189.79 115.62,189.63 115.70,189.64 115.79,189.70 115.88,189.71 115.96,189.70 116.05,189.63 116.13,189.70 116.22,189.81 116.30,189.78 116.39,189.69 116.48,189.63 116.56,189.74 116.65,189.69 116.73,189.72 116.82,189.76 116.90,189.68 116.99,189.66 117.08,189.66 117.16,189.76 117.25,189.68 117.33,189.71 117.42,189.77 117.51,189.62 117.59,189.64 117.68,189.60 117.76,189.72 117.85,189.70 117.93,189.70 118.02,189.67 118.11,189.70 118.19,189.63 118.28,189.71 118.36,189.69 118.45,189.74 118.53,189.68 118.62,189.66 118.71,189.81 118.79,189.68 118.88,189.74 118.96,189.75 119.05,189.63 119.14,189.66 119.22,189.69 119.31,189.65 119.39,189.64 119.48,189.70 119.56,189.64 119.65,189.62 119.74,189.67 119.82,189.63 119.91,189.69 119.99,189.62 120.08,189.64 120.17,189.87 120.25,189.70 120.34,189.73 120.42,189.79 120.51,189.61 120.59,189.79 120.68,189.77 120.77,189.61 120.85,189.61 120.94,189.68 121.02,189.62 121.11,189.61 121.19,189.63 121.28,189.81 121.37,189.68 121.45,189.64 121.54,189.62 121.62,189.77 121.71,189.74 121.80,189.71 121.88,189.65 121.97,189.61 122.05,189.64 122.14,189.68 122.22,189.67 122.31,189.67 122.40,189.86 122.48,189.66 122.57,189.67 122.65,189.71 122.74,189.67 122.82,189.70 122.91,189.70 123.00,189.64 123.08,189.73 123.17,189.68 123.25,189.64 123.34,189.61 123.43,189.62 123.51,189.68 123.60,189.61 123.68,189.61 123.77,189.61 123.85,189.76 123.94,189.66 124.03,189.60 124.11,189.74 124.20,189.66 124.28,189.66 124.37,189.76 124.46,189.60 124.54,189.68 124.63,189.60 124.71,189.62 124.80,189.63 124.88,189.66 124.97,189.62 125.06,189.86 125.14,189.68 125.23,189.71 125.31,189.68 125.40,189.71 125.48,189.63 125.57,189.68 125.66,189.63 125.74,189.61 125.83,189.70 125.91,189.61 126.00,189.63 126.09,189.64 126.17,189.87 126.26,189.61 126.34,189.63 126.43,189.67 126.51,189.61 126.60,189.66 126.69,189.67 126.77,189.65 126.86,189.73 126.94,189.68 127.03,189.75 127.11,189.66 127.20,189.79 127.29,189.73 127.37,189.70 127.46,189.76 127.54,189.79 127.63,189.64 127.72,189.63 127.80,189.80 127.89,189.65 127.97,189.74 128.06,189.60 128.14,189.61 128.23,189.68 128.32,189.80 128.40,189.68 128.49,189.72 128.57,189.73 128.66,189.68 128.75,189.62 128.83,189.65 128.92,189.84 129.00,189.76 129.09,189.71 129.17,189.70 129.26,189.67 129.35,189.63 129.43,189.62 129.52,189.61 129.60,189.63 129.69,189.64 129.77,189.69 129.86,189.62 129.95,189.61 130.03,189.65 130.12,189.62 130.20,189.67 130.29,189.68 130.38,189.69 130.46,189.66 130.55,189.65 130.63,189.62 130.72,189.68 130.80,189.73 130.89,189.72 130.98,189.61 131.06,189.67 131.15,189.62 131.23,189.70 131.32,189.70 131.40,189.71 131.49,189.80 131.58,189.64 131.66,189.74 131.75,189.65 131.83,189.64 131.92,189.66 132.01,189.71 132.09,189.62 132.18,189.68 132.26,189.67 132.35,189.61 132.43,189.64 132.52,189.69 132.61,189.68 132.69,189.63 132.78,189.66 132.86,189.65 132.95,189.62 133.04,189.69 133.12,189.64 133.21,189.83 133.29,189.65 133.38,189.64 133.46,189.61 133.55,189.63 133.64,189.76 133.72,189.79 133.81,189.68 133.89,189.79 133.98,189.65 134.06,189.79 134.15,189.75 134.24,189.67 134.32,189.61 134.41,189.70 134.49,189.78 134.58,189.61 134.67,189.64 134.75,189.62 134.84,189.83 134.92,189.76 135.01,189.64 135.09,189.70 135.18,189.65 135.27,189.63 135.35,189.66 135.44,189.65 135.52,189.68 135.61,189.81 135.69,189.80 135.78,189.66 135.87,189.61 135.95,189.75 136.04,189.61 136.12,189.62 136.21,189.60 136.30,189.76 136.38,189.63 136.47,189.67 136.55,189.62 136.64,189.74 136.72,189.60 136.81,189.63 136.90,189.65 136.98,189.68 137.07,189.83 137.15,189.61 137.24,189.80 137.32,189.75 137.41,189.76 137.50,189.63 137.58,189.67 137.67,189.78 137.75,189.73 137.84,189.66 137.93,189.63 138.01,189.71 138.10,189.62 138.18,189.64 138.27,189.65 138.35,189.60 138.44,189.73 138.53,189.70 138.61,189.64 138.70,189.61 138.78,189.61 138.87,189.67 138.96,189.62 139.04,189.72 139.13,189.62 139.21,189.71 139.30,189.64 139.38,189.74 139.47,189.61 139.56,189.64 139.64,189.79 139.73,189.72 139.81,189.98 139.90,189.67 139.98,189.62 140.07,189.69 140.16,189.62 140.24,189.68 140.33,189.65 140.41,189.61 140.50,189.62 140.59,189.64 140.67,189.64 140.76,189.60 140.84,189.60 140.93,189.66 141.01,189.65 141.10,189.72 141.19,189.64 141.27,189.61 141.36,189.65 141.44,189.60 141.53,189.65 141.62,189.66 141.70,189.61 141.79,189.68 141.87,189.69 141.96,189.78 142.04,189.70 142.13,189.67 142.22,189.63 142.30,189.67 142.39,189.72 142.47,189.70 142.56,189.63 142.64,189.71 142.73,189.70 142.82,189.76 142.90,189.79 142.99,189.63 143.07,189.84 143.16,189.63 143.25,189.62 143.33,189.64 143.42,189.62 143.50,189.68 143.59,189.61 143.67,189.66 143.76,189.86 143.85,189.67 143.93,189.68 144.02,189.79 144.10,189.64 144.19,189.65 144.27,189.74 144.36,189.65 144.45,189.60 144.53,189.61 144.62,189.75 144.70,189.76 144.79,189.69 144.88,189.81 144.96,189.75 145.05,189.61 145.13,189.64 145.22,189.71 145.30,189.68 145.39,189.66 145.48,189.74 145.56,189.60 145.65,189.67 145.73,189.68 145.82,189.69 145.91,189.62 145.99,189.64 146.08,189.61 146.16,189.74 146.25,189.75 146.33,189.63 146.42,189.60 146.51,189.61 146.59,189.75 146.68,189.62 146.76,189.64 146.85,189.74 146.93,189.71 147.02,189.83 147.11,189.62 147.19,189.67 147.28,189.83 147.36,189.71 147.45,189.63 147.54,189.70 147.62,189.81 147.71,189.65 147.79,189.62 147.88,189.76 147.96,189.69 148.05,189.72 148.14,189.61 148.22,189.65 148.31,189.61 148.39,189.67 148.48,189.60 148.56,189.63 148.65,189.67 148.74,189.68 148.82,189.64 148.91,189.62 148.99,189.81 149.08,189.72 149.17,189.68 149.25,189.64 149.34,189.63 149.42,189.70 149.51,189.65 149.59,189.70 149.68,189.75 149.77,189.62 149.85,189.65 149.94,189.68 150.02,189.77 150.11,189.64 150.19,189.67 150.28,189.72 150.37,189.70 150.45,189.72 150.54,189.67 150.62,189.61 150.71,189.61 150.80,189.69 150.88,189.61 150.97,189.79 151.05,189.76 151.14,189.72 151.22,189.70 151.31,189.70 151.40,189.61 151.48,189.62 151.57,189.76 151.65,189.65 151.74,189.62 151.83,189.61 151.91,189.77 152.00,189.60 152.08,189.66 152.17,189.71 152.25,189.69 152.34,189.62 152.43,189.82 152.51,189.72 152.60,189.84 152.68,189.71 152.77,189.66 152.85,189.71 152.94,189.63 153.03,189.87 153.11,189.67 153.20,189.78 153.28,189.61 153.37,189.66 153.46,189.65 153.54,189.75 153.63,189.67 153.71,189.70 153.80,189.83 153.88,189.64 153.97,189.67 154.06,189.80 154.14,189.68 154.23,189.69 154.31,189.70 154.40,189.79 154.49,189.65 154.57,189.81 154.66,189.64 154.74,189.92 154.83,189.73 154.91,189.72 155.00,189.74 155.09,189.63 155.17,189.68 155.26,189.71 155.34,189.74 155.43,189.70 155.51,189.96 155.60,189.75 155.69,189.80 155.77,189.67 155.86,190.02 155.94,189.66 156.03,189.64 156.12,189.67 156.20,189.69 156.29,189.65 156.37,189.74 156.46,189.68 156.54,189.71 156.63,189.66 156.72,189.67 156.80,189.77 156.89,189.71 156.97,189.76 157.06,189.65 157.14,190.48 157.23,189.95 157.32,189.71 157.40,189.70 157.49,190.01 157.57,189.81 157.66,189.74 157.75,189.86 157.83,189.90 157.92,190.02 158.00,189.73 158.09,189.66 158.17,189.65 158.26,190.35 158.35,189.89 158.43,189.75 158.52,189.83 158.60,189.91 158.69,190.02 158.78,189.65 158.86,189.78 158.95,189.93 159.03,189.67 159.12,190.07 159.20,190.09 159.29,190.25 159.38,189.94 159.46,189.73 159.55,189.73 159.63,190.26 159.72,189.90 159.80,189.82 159.89,189.71 159.98,189.82 160.06,189.86 160.15,190.02 160.23,190.07 160.32,190.16 160.41,189.87 160.49,189.77 160.58,190.54 160.66,189.69 160.75,189.84 160.83,189.88 160.92,189.84 161.01,189.88 161.09,189.70 161.18,190.64 161.26,189.87 161.35,190.26 161.43,190.37 161.52,189.77 161.61,189.73 161.69,190.15 161.78,189.88 161.86,189.78 161.95,190.26 162.04,189.93 162.12,190.58 162.21,189.81 162.29,189.95 162.38,190.03 162.46,190.12 162.55,189.75 162.64,189.84 162.72,190.60 162.81,190.15 162.89,190.18 162.98,189.73 163.06,190.22 163.15,190.11 163.24,189.80 163.32,190.06 163.41,190.00 163.49,190.01 163.58,189.92 163.67,190.10 163.75,189.87 163.84,190.34 163.92,189.81 164.01,190.11 164.09,189.81 164.18,191.28 164.27,190.46 164.35,189.79 164.44,189.91 164.52,189.95 164.61,190.05 164.70,190.31 164.78,190.01 164.87,189.99 164.95,190.14 165.04,191.51 165.12,190.43 165.21,189.82 165.30,190.37 165.38,189.89 165.47,190.15 165.55,189.91 165.64,189.89 165.72,189.87 165.81,190.26 165.90,190.25 165.98,190.17 166.07,189.91 166.15,190.01 166.24,190.35 166.33,190.06 166.41,190.16 166.50,190.13 166.58,190.41 166.67,190.21 166.75,190.35 166.84,191.18 166.93,190.22 167.01,190.34 167.10,190.44 167.18,190.11 167.27,191.22 167.36,190.88 167.44,190.47 167.53,190.82 167.61,189.99 167.70,190.03 167.78,189.92 167.87,190.38 167.96,190.19 168.04,190.47 168.13,190.18 168.21,191.11 168.30,190.06 168.38,190.50 168.47,190.30 168.56,190.06 168.64,190.75 168.73,192.32 168.81,190.78 168.90,189.88 168.99,190.08 169.07,190.02 169.16,190.80 169.24,190.21 169.33,190.34 169.41,191.20 169.50,190.25 169.59,190.05 169.67,190.14 169.76,190.33 169.84,190.78 169.93,190.42 170.01,189.93 170.10,191.09 170.19,189.94 170.27,189.96 170.36,190.22 170.44,190.58 170.53,191.54 170.62,190.07 170.70,190.43 170.79,190.04 170.87,190.77 170.96,190.46 171.04,190.44 171.13,190.54 171.22,191.21 171.30,190.54 171.39,192.00 171.47,190.62 171.56,191.58 171.64,191.28 171.73,190.15 171.82,190.27 171.90,190.89 171.99,190.03 172.07,190.28 172.16,190.31 172.25,190.00 172.33,190.01 172.42,192.40 172.50,190.16 172.59,190.82 172.67,190.89 172.76,190.32 172.85,190.52 172.93,190.35 173.02,191.73 173.10,190.10 173.19,191.29 173.28,190.11 173.36,190.55 173.45,190.66 173.53,190.19 173.62,190.32 173.70,190.38 173.79,192.02 173.88,190.18 173.96,190.75 174.05,190.13 174.13,190.52 174.22,190.21 174.30,190.13 174.39,190.78 174.48,190.58 174.56,191.70 174.65,190.27 174.73,190.76 174.82,190.45 174.91,190.39 174.99,190.42 175.08,193.03 175.16,190.71 175.25,190.40 175.33,191.10 175.42,190.26 175.51,191.01 175.59,190.89 175.68,192.90 175.76,190.42 175.85,190.46 175.94,193.34 176.02,193.52 176.11,190.20 176.19,190.77 176.28,190.65 176.36,190.61 176.45,191.14 176.54,190.66 176.62,193.27 176.71,190.91 176.79,190.55 176.88,190.21 176.96,190.39 177.05,190.25 177.14,192.73 177.22,190.70 177.31,191.68 177.39,192.63 177.48,190.39 177.57,190.38 177.65,190.57 177.74,190.63 177.82,190.74 177.91,191.44 177.99,190.57 178.08,190.49 178.17,190.36 178.25,190.43 178.34,190.49 178.42,190.63 178.51,190.72 178.59,190.77 178.68,190.29 178.77,190.65 178.85,192.03 178.94,191.40 179.02,190.50 179.11,190.65 179.20,190.57 179.28,190.54 179.37,191.24 179.45,190.63 179.54,190.71 179.62,190.54 179.71,190.48 179.80,192.59 179.88,190.47 179.97,191.23 180.05,190.44 180.14,190.50 180.23,190.59 180.31,191.47 180.40,191.32 180.48,191.05 180.57,190.88 180.65,191.01 180.74,191.72 180.83,190.81 180.91,190.83 181.00,190.61 181.08,191.00 181.17,190.68 181.25,194.00 181.34,190.43 181.43,190.78 181.51,190.46 181.60,190.60 181.68,192.28 181.77,190.56 181.86,190.63 181.94,190.51 182.03,192.18 182.11,190.65 182.20,192.99 182.28,193.12 182.37,190.91 182.46,190.77 182.54,190.79 182.63,190.99 182.71,193.84 182.80,190.68 182.88,191.30 182.97,191.12 183.06,192.13 183.14,191.70 183.23,190.56 183.31,190.58 183.40,190.86 183.49,191.95 183.57,192.55 183.66,190.75 183.74,194.29 183.83,191.57 183.91,190.59 184.00,190.77 184.09,191.72 184.17,192.47 184.26,190.86 184.34,190.67 184.43,190.89 184.52,190.87 184.60,191.22 184.69,190.68 184.77,190.70 184.86,191.16 184.94,192.11 185.03,191.23 185.12,191.69 185.20,190.70 185.29,191.14 185.37,191.84 185.46,195.93 185.54,193.95 185.63,190.90 185.72,191.09 185.80,191.70 185.89,193.69 185.97,191.75 186.06,191.60 186.15,190.90 186.23,192.68 186.32,191.25 186.40,190.75 186.49,190.80 186.57,190.80 186.66,191.02 186.75,190.80 186.83,191.38 186.92,191.04 187.00,191.33 187.09,191.69 187.17,194.06 187.26,194.35 187.35,192.84 187.43,190.87 187.52,190.87 187.60,196.73 187.69,192.23 187.78,190.89 187.86,191.45 187.95,191.25 188.03,191.37 188.12,190.83 188.20,192.18 188.29,190.97 188.38,191.65 188.46,191.23 188.55,190.87 188.63,191.14 188.72,191.55 188.81,191.08 188.89,191.70 188.98,191.46 189.06,191.29 189.15,191.05 189.23,191.07 189.32,191.10 189.41,192.06 189.49,191.61 189.58,191.04 189.66,191.58 189.75,191.38 189.83,193.74 189.92,191.55 190.01,191.66 190.09,192.07 190.18,191.06 190.26,191.25 190.35,192.42 190.44,192.74 190.52,192.21 190.61,191.57 190.69,191.28 190.78,191.32 190.86,191.65 190.95,192.47 191.04,191.33 191.12,192.49 191.21,191.94 191.29,192.66 191.38,192.18 191.46,191.30 191.55,193.87 191.64,192.03 191.72,194.85 191.81,191.19 191.89,195.61 191.98,191.34 192.07,192.72 192.15,191.54 192.24,193.14 192.24,234.54 192.24,193.14" fill="none" stroke="#0000ff" stroke-width="0.65" stroke-linejoin="round"/>
<polyline points="192.24,193.14 192.32,193.68 192.41,193.75 192.49,190.51 192.58,190.58 192.67,190.76 192.75,190.16 192.84,192.93 192.92,191.14 193.01,193.74 193.10,190.48 193.18,191.06 193.27,191.46 193.35,194.01 193.44,194.69 193.52,190.48 193.61,192.37 193.70,192.06 193.78,190.80 193.87,194.43 193.95,191.62 194.04,192.81 194.12,191.19 194.21,192.85 194.30,194.16 194.38,190.33 194.47,193.74 194.55,191.39 194.64,190.96 194.73,193.90 194.81,191.65 194.90,193.15 194.98,194.02 195.07,194.06 195.15,190.34 195.24,193.30 195.33,192.58 195.41,192.62 195.50,195.02 195.58,191.35 195.67,191.39 195.75,190.73" fill="none" stroke="#0000ff" stroke-width="0.8" stroke-linejoin="round"/>
<text x="267.50" y="251.80" text-anchor="middle" font-size="9.1" >0</text>
<text x="310.48" y="251.80" text-anchor="middle" font-size="9.1" >500</text>
<text x="353.45" y="251.80" text-anchor="middle" font-size="9.1" >1000</text>
<text x="396.42" y="251.80" text-anchor="middle" font-size="9.1" >1500</text>
<text x="439.40" y="251.80" text-anchor="middle" font-size="9.1" >2000</text>
<text x="264.20" y="234.78" text-anchor="end" font-size="9.1" >0.9995</text>
<text x="264.20" y="192.70" text-anchor="end" font-size="9.1" >1</text>
<text x="353.45" y="186.30" text-anchor="middle" font-size="9.05" >LMD-SVD-GK-bear13-Severe</text>
<text x="353.45" y="262.90" text-anchor="middle" font-size="8.9" >Time</text>
<polyline points="267.50,190.77 267.67,190.39 267.84,190.92 268.02,190.05 268.19,190.74 268.36,190.84 268.53,190.71 268.70,190.51 268.88,190.09 269.05,190.66 269.22,191.10 269.39,190.45 269.56,190.21 269.73,189.82 269.91,190.80 270.08,189.82 270.25,190.11 270.42,190.19 270.59,190.64 270.77,190.68 270.94,190.71 271.11,190.00 271.28,190.27 271.45,189.96 271.63,189.68 271.80,190.36 271.97,190.39 272.14,189.67 272.31,190.88 272.49,190.57 272.66,190.55 272.83,190.57 273.00,190.39 273.17,190.77 273.34,190.04 273.52,191.00 273.69,190.82 273.86,191.16 274.03,191.08 274.20,190.36 274.38,190.37 274.55,190.69 274.72,190.33 274.89,190.44 275.06,190.91 275.24,190.73 275.41,190.60 275.58,190.01 275.75,190.95 275.92,190.67 276.10,190.63 276.27,190.40 276.44,190.71 276.61,190.49 276.78,191.30 276.95,191.02 277.13,191.66 277.30,190.97 277.47,190.10 277.64,190.89 277.81,190.96 277.99,190.91 278.16,190.96 278.33,191.51 278.50,191.29 278.67,191.10 278.85,190.98 279.02,191.36 279.19,191.08 279.36,191.31 279.53,191.53 279.70,191.27 279.88,191.33 280.05,190.71 280.22,190.51 280.39,190.78 280.56,191.07 280.74,191.18 280.91,191.55 281.08,191.14 281.25,190.35 281.42,190.49 281.60,190.82 281.77,190.98 281.94,190.87 282.11,190.69 282.28,190.84 282.46,190.66 282.63,191.08 282.80,190.76 282.97,190.89 283.14,190.34 283.31,191.19 283.49,190.23 283.66,190.72 283.83,190.86 284.00,190.65 284.17,190.60 284.35,190.72 284.52,190.46 284.69,190.82 284.86,191.22 285.03,190.33 285.21,190.59 285.38,189.95 285.55,190.42 285.72,191.31 285.89,190.10 286.07,190.81 286.24,190.35 286.41,189.74 286.58,190.16 286.75,190.98 286.92,190.61 287.10,191.18 287.27,190.34 287.44,190.40 287.61,190.99 287.78,190.46 287.96,190.30 288.13,190.36 288.30,190.92 288.47,190.95 288.64,191.13 288.82,191.22 288.99,190.64 289.16,190.76 289.33,190.32 289.50,190.72 289.68,190.96 289.85,191.40 290.02,190.32 290.19,190.86 290.36,190.95 290.53,191.34 290.71,191.37 290.88,190.78 291.05,191.39 291.22,190.84 291.39,190.84 291.57,191.24 291.74,191.71 291.91,190.99 292.08,190.64 292.25,191.48 292.43,191.65 292.60,190.80 292.77,191.16 292.94,191.46 293.11,190.79 293.28,191.35 293.46,191.09 293.63,191.41 293.80,191.54 293.97,191.19 294.14,191.59 294.32,191.94 294.49,191.47 294.66,190.81 294.83,190.86 295.00,190.45 295.18,190.89 295.35,190.65 295.52,191.14 295.69,191.39 295.86,191.04 296.04,191.56 296.21,190.92 296.38,191.34 296.55,191.06 296.72,191.46 296.89,191.18 297.07,190.75 297.24,191.17 297.41,191.33 297.58,190.95 297.75,190.71 297.93,191.09 298.10,191.44 298.27,191.56 298.44,191.47 298.61,190.56 298.79,190.97 298.96,190.74 299.13,190.51 299.30,190.78 299.47,190.70 299.65,191.05 299.82,191.45 299.99,190.61 300.16,190.87 300.33,190.61 300.50,191.22 300.68,190.86 300.85,190.06 301.02,191.12 301.19,190.77 301.36,190.33 301.54,190.90 301.71,190.77 301.88,191.61 302.05,190.54 302.22,191.00 302.40,190.37 302.57,190.89 302.74,191.00 302.91,190.72 303.08,190.98 303.26,191.11 303.43,190.37 303.60,190.59 303.77,190.93 303.94,190.69 304.11,190.71 304.29,190.82 304.46,191.04 304.63,191.06 304.80,190.95 304.97,190.92 305.15,191.02 305.32,191.38 305.49,191.22 305.66,191.06 305.83,191.60 306.01,191.28 306.18,191.01 306.35,191.26 306.52,191.44 306.69,191.37 306.87,191.55 307.04,191.04 307.21,191.55 307.38,192.05 307.55,191.89 307.72,191.36 307.90,191.40 308.07,191.67 308.24,191.98 308.41,191.57 308.58,191.82 308.76,191.77 308.93,191.53 309.10,191.82 309.27,191.42 309.44,191.82 309.62,191.70 309.79,191.62 309.96,191.00 310.13,190.95 310.30,191.18 310.48,191.79 310.65,191.50 310.82,191.16 310.99,191.19 311.16,192.08 311.33,191.47 311.51,191.72 311.68,191.15 311.85,191.18 312.02,191.59 312.19,190.59 312.37,191.46 312.54,190.44 312.71,191.39 312.88,191.34 313.05,190.60 313.23,191.47 313.40,191.42 313.57,190.69 313.74,191.23 313.91,191.03 314.08,191.64 314.26,190.52 314.43,190.80 314.60,191.02 314.77,190.88 314.94,191.31 315.12,191.28 315.29,191.69 315.46,190.96 315.63,190.64 315.80,190.78 315.98,190.75 316.15,190.82 316.32,191.43 316.49,191.55 316.66,190.85 316.84,191.03 317.01,190.73 317.18,191.20 317.35,191.44 317.52,190.96 317.69,191.34 317.87,191.74 318.04,191.39 318.21,191.49 318.38,191.61 318.55,191.41 318.73,190.88 318.90,190.40 319.07,190.63 319.24,191.44 319.41,190.89 319.59,191.36 319.76,191.21 319.93,191.63 320.10,191.44 320.27,192.03 320.45,190.80 320.62,191.75 320.79,191.29 320.96,191.74 321.13,191.46 321.30,192.00 321.48,191.74 321.65,191.29 321.82,191.42 321.99,192.36 322.16,191.37 322.34,192.17 322.51,191.62 322.68,191.54 322.85,191.99 323.02,191.87 323.20,191.87 323.37,191.64 323.54,191.46 323.71,191.31 323.88,191.69 324.06,191.10 324.23,192.18 324.40,191.18 324.57,191.93 324.74,191.54 324.91,191.87 325.09,191.79 325.26,192.16 325.43,191.66 325.60,191.05 325.77,191.73 325.95,191.79 326.12,191.77 326.29,191.50 326.46,191.82 326.63,191.74 326.81,191.64 326.98,191.22 327.15,191.34 327.32,192.06 327.49,191.87 327.66,191.61 327.84,191.30 328.01,191.24 328.18,191.66 328.35,190.80 328.52,191.63 328.70,191.05 328.87,191.05 329.04,190.97 329.21,191.48 329.38,191.34 329.56,192.09 329.73,192.20 329.90,191.75 330.07,191.27 330.24,191.14 330.42,191.57 330.59,191.14 330.76,191.31 330.93,190.97 331.10,192.11 331.27,191.82 331.45,191.88 331.62,191.90 331.79,190.92 331.96,191.86 332.13,191.85 332.31,191.68 332.48,191.22 332.65,191.72 332.82,191.29 332.99,191.37 333.17,191.82 333.34,192.44 333.51,191.94 333.68,192.06 333.85,191.02 334.03,191.89 334.20,192.05 334.37,191.52 334.54,191.65 334.71,192.02 334.88,191.30 335.06,191.38 335.23,191.63 335.40,192.01 335.57,192.08 335.74,192.50 335.92,191.64 336.09,191.65 336.26,192.15 336.43,191.81 336.60,190.62 336.78,192.25 336.95,192.50 337.12,191.65 337.29,192.05 337.46,192.07 337.64,191.68 337.81,191.96 337.98,191.56 338.15,191.75 338.32,191.51 338.49,191.90 338.67,192.76 338.84,191.47 339.01,192.60 339.18,191.59 339.35,191.89 339.53,192.48 339.70,191.96 339.87,191.66 340.04,192.37 340.21,191.97 340.39,192.26 340.56,192.34 340.73,192.21 340.90,191.52 341.07,191.72 341.25,191.98 341.42,192.00 341.59,191.91 341.76,191.85 341.93,191.88 342.10,192.59 342.28,191.61 342.45,192.25 342.62,192.86 342.79,191.66 342.96,192.34 343.14,191.96 343.31,191.93 343.48,192.11 343.65,191.69 343.82,191.98 344.00,191.97 344.17,192.22 344.34,191.96 344.51,192.24 344.68,191.83 344.86,191.36 345.03,191.48 345.20,191.68 345.37,192.32 345.54,191.45 345.71,191.49 345.89,191.07 346.06,192.64 346.23,191.83 346.40,191.95 346.57,191.43 346.75,192.22 346.92,191.98 347.09,191.01 347.26,191.48 347.43,192.57 347.61,191.85 347.78,191.37 347.95,192.11 348.12,191.67 348.29,191.86 348.46,192.43 348.64,192.15 348.81,191.51 348.98,191.49 349.15,192.16 349.32,191.54 349.50,192.23 349.67,191.89 349.84,192.00 350.01,192.48 350.18,191.91 350.36,192.19 350.53,193.04 350.70,192.38 350.87,192.39 351.04,192.41 351.22,192.46 351.39,192.38 351.56,193.02 351.73,191.82 351.90,192.14 352.07,192.08 352.25,192.28 352.42,192.18 352.59,192.30 352.76,192.63 352.93,192.78 353.11,192.22 353.28,191.88 353.45,192.17 353.62,191.68 353.79,192.78 353.97,192.36 354.14,192.50 354.31,191.82 354.48,191.64 354.65,192.46 354.83,192.00 355.00,192.35 355.17,192.64 355.34,192.30 355.51,192.65 355.68,191.69 355.86,192.03 356.03,191.81 356.20,192.10 356.37,193.10 356.54,191.92 356.72,192.18 356.89,193.09 357.06,192.15 357.23,191.81 357.40,191.55 357.58,192.55 357.75,191.87 357.92,192.02 358.09,192.19 358.26,192.23 358.44,191.92 358.61,191.89 358.78,191.85 358.95,192.23 359.12,192.55 359.29,191.57 359.47,191.58 359.64,192.25 359.81,192.04 359.98,191.73 360.15,192.65 360.33,191.83 360.50,191.13 360.67,191.90 360.84,192.25 361.01,191.23 361.19,191.98 361.36,191.90 361.53,192.13 361.70,191.91 361.87,192.63 362.05,192.46 362.22,192.51 362.39,191.64 362.56,192.01 362.73,191.55 362.90,192.73 363.08,192.22 363.25,191.47 363.42,192.30 363.59,192.68 363.76,192.29 363.94,192.15 364.11,192.04 364.28,191.56 364.45,191.55 364.62,191.49 364.80,191.85 364.97,192.26 365.14,192.27 365.31,192.63 365.48,191.63 365.65,191.66 365.83,192.09 366.00,192.46 366.17,191.90 366.34,191.98 366.51,192.11 366.69,192.60 366.86,192.10 367.03,192.40 367.20,191.93 367.37,192.00 367.55,192.06 367.72,192.39 367.89,191.67 368.06,191.96 368.23,191.78 368.41,191.95 368.58,192.01 368.75,192.12 368.92,192.66 369.09,192.93 369.26,192.62 369.44,192.05 369.61,191.93 369.78,192.20 369.95,192.24 370.12,191.60 370.30,192.41 370.47,192.91 370.64,192.83 370.81,192.37 370.98,191.99 371.16,191.97 371.33,192.32 371.50,191.93 371.67,192.24 371.84,192.47 372.02,192.34 372.19,191.92 372.36,191.83 372.53,192.58 372.70,192.53 372.87,192.11 373.05,191.35 373.22,192.56 373.39,192.59 373.56,191.96 373.73,191.91 373.91,192.31 374.08,192.09 374.25,191.89 374.42,192.71 374.59,192.06 374.77,191.82 374.94,191.70 375.11,191.59 375.28,192.04 375.45,192.55 375.63,191.52 375.80,191.71 375.97,192.23 376.14,191.61 376.31,191.61 376.48,192.03 376.66,192.84 376.83,192.15 377.00,192.25 377.17,192.29 377.34,192.01 377.52,192.38 377.69,191.84 377.86,191.28 378.03,192.42 378.20,191.61 378.38,192.19 378.55,191.80 378.72,192.05 378.89,191.54 379.06,192.28 379.24,191.76 379.41,192.32 379.58,191.96 379.75,192.05 379.92,191.65 380.09,192.63 380.27,192.56 380.44,191.56 380.61,191.93 380.78,191.46 380.95,192.46 381.13,192.01 381.30,191.87 381.47,191.45 381.64,192.12 381.81,192.27 381.99,191.84 382.16,192.15 382.33,192.39 382.50,191.84 382.67,192.82 382.84,192.48 383.02,191.61 383.19,192.29 383.36,192.23 383.53,191.97 383.70,191.69 383.88,191.91 384.05,192.45 384.22,192.30 384.39,191.69 384.56,192.12 384.74,192.30 384.91,191.74 385.08,191.63 385.25,191.25 385.42,192.43 385.60,192.27 385.77,192.26 385.94,191.86 386.11,192.15 386.28,191.55 386.45,192.94 386.63,191.58 386.80,192.15 386.97,191.99 387.14,191.66 387.31,191.78 387.49,192.21 387.66,191.27 387.83,191.59 388.00,191.96 388.17,191.68 388.35,192.14 388.52,192.17 388.69,191.81 388.86,191.54 389.03,191.62 389.21,191.92 389.38,192.12 389.55,192.22 389.72,191.00 389.89,191.42 390.06,191.83 390.24,191.08 390.41,191.31 390.58,191.64 390.75,191.69 390.92,191.03 391.10,191.32 391.27,190.82 391.44,191.28 391.61,191.61 391.78,191.60 391.96,191.63 392.13,191.27 392.30,191.26 392.47,191.12 392.64,191.16 392.82,191.70 392.99,191.39 393.16,191.65 393.33,191.12 393.50,191.77 393.67,191.50 393.85,191.59 394.02,191.51 394.19,191.37 394.36,190.71 394.53,191.36 394.71,191.79 394.88,191.37 395.05,190.98 395.22,191.06 395.39,191.17 395.57,190.53 395.74,190.85 395.91,191.22 396.08,190.80 396.25,191.74 396.42,191.31 396.60,191.56 396.77,191.18 396.94,190.66 397.11,191.43 397.28,190.66 397.46,191.61 397.63,190.72 397.80,191.86 397.97,191.54 398.14,190.85 398.32,191.25 398.49,191.16 398.66,191.21 398.83,191.13 399.00,191.25 399.18,191.54 399.35,191.27 399.52,191.12 399.69,191.47 399.86,190.96 400.03,190.48 400.21,191.71 400.38,191.29 400.55,191.18 400.72,191.05 400.89,191.01 401.07,191.29 401.24,191.02 401.41,190.99 401.58,191.00 401.75,190.39 401.93,190.88 402.10,191.45 402.27,191.46 402.44,190.65 402.61,190.97 402.79,191.05 402.96,191.30 403.13,190.89 403.30,190.78 403.47,190.98 403.64,190.83 403.82,190.36 403.99,190.37 404.16,190.44 404.33,190.67 404.50,191.08 404.68,190.28 404.85,190.00 405.02,190.05 405.19,190.08 405.36,190.38 405.54,190.32 405.71,190.44 405.88,189.96 406.05,190.50 406.22,189.60 406.40,190.08 406.57,190.46 406.74,190.33 406.91,190.90 407.08,190.57 407.25,190.39 407.43,189.60 407.60,190.55 407.77,189.91 407.94,190.20 408.11,190.33 408.29,189.98 408.46,190.94 408.63,189.85 408.80,189.60 408.97,190.07 409.15,190.19 409.32,190.11 409.49,189.91 409.66,190.33 409.83,190.10 410.01,189.96 410.18,190.27 410.35,189.99 410.52,190.01 410.69,189.87 410.86,190.49 411.04,190.31 411.21,190.27 411.38,189.68 411.55,190.02 411.72,190.71 411.90,190.57 412.07,189.60 412.24,189.97 412.41,190.56 412.58,190.42 412.76,190.02 412.93,189.60 413.10,189.60 413.27,190.19 413.44,190.16 413.62,189.60 413.79,190.39 413.96,189.60 414.13,189.89 414.30,189.96 414.47,189.60 414.65,189.80 414.82,190.26 414.99,190.51 415.16,189.92 415.33,189.73 415.51,189.60 415.68,190.84 415.85,189.60 416.02,189.61 416.19,189.60 416.37,189.60 416.54,189.70 416.71,189.60 416.88,189.60 417.05,189.95 417.22,189.73 417.40,189.62 417.57,189.81 417.74,190.16 417.91,190.12 418.08,189.60 418.26,189.60 418.43,189.60 418.60,189.92 418.77,189.60 418.94,189.60 419.20,190.44 419.20,242.62 419.20,190.44 419.37,191.21 419.55,189.60 419.72,191.39 419.89,189.60 420.06,189.60 420.23,191.87 420.41,190.71 420.58,189.60 420.75,192.15 420.92,189.69 421.09,189.94 421.26,190.02 421.44,190.52 421.61,192.21 421.78,189.60 421.95,192.20 422.12,189.91 422.30,190.11 421.61,195.49 421.78,190.44" fill="none" stroke="#0000ff" stroke-width="0.75" stroke-linejoin="round"/>
<text x="493.90" y="251.80" text-anchor="middle" font-size="9.1" >0</text>
<text x="537.00" y="251.80" text-anchor="middle" font-size="9.1" >500</text>
<text x="580.10" y="251.80" text-anchor="middle" font-size="9.1" >1000</text>
<text x="623.20" y="251.80" text-anchor="middle" font-size="9.1" >1500</text>
<text x="666.30" y="251.80" text-anchor="middle" font-size="9.1" >2000</text>
<text x="490.60" y="243.20" text-anchor="end" font-size="9.1" >0.999</text>
<text x="490.60" y="217.95" text-anchor="end" font-size="9.1" >0.9995</text>
<text x="490.60" y="192.70" text-anchor="end" font-size="9.1" >1</text>
<text x="580.10" y="186.30" text-anchor="middle" font-size="9.05" >LMD-SVD-GK-bear13-Slight</text>
<polyline points="493.90,189.66 493.99,189.74 494.07,189.74 494.16,189.69 494.24,189.83 494.33,189.66 494.42,189.74 494.50,189.72 494.59,189.78 494.68,189.63 494.76,189.64 494.85,189.72 494.93,189.72 495.02,189.62 495.11,189.78 495.19,189.70 495.28,189.65 495.37,189.70 495.45,189.84 495.54,189.64 495.62,189.64 495.71,189.61 495.80,189.65 495.88,189.76 495.97,189.61 496.05,189.61 496.14,189.70 496.23,189.65 496.31,189.75 496.40,189.70 496.49,189.60 496.57,189.62 496.66,189.67 496.74,189.64 496.83,189.65 496.92,189.61 497.00,189.77 497.09,189.61 497.18,189.61 497.26,189.66 497.35,189.72 497.43,189.69 497.52,189.65 497.61,189.63 497.69,189.81 497.78,189.73 497.87,189.71 497.95,189.60 498.04,189.93 498.12,189.72 498.21,189.80 498.30,189.75 498.38,189.69 498.47,189.74 498.55,189.75 498.64,189.64 498.73,189.72 498.81,189.61 498.90,189.67 498.99,189.70 499.07,189.62 499.16,189.65 499.24,189.68 499.33,189.67 499.42,189.61 499.50,189.67 499.59,189.74 499.68,189.64 499.76,189.79 499.85,189.69 499.93,189.72 500.02,189.61 500.11,189.67 500.19,189.60 500.28,189.69 500.36,189.61 500.45,189.62 500.54,189.65 500.62,189.62 500.71,189.61 500.80,189.70 500.88,189.66 500.97,189.71 501.05,189.71 501.14,189.62 501.23,189.77 501.31,189.65 501.40,189.75 501.49,189.64 501.57,189.72 501.66,189.74 501.74,189.70 501.83,189.65 501.92,189.68 502.00,189.68 502.09,189.76 502.18,189.65 502.26,189.61 502.35,189.61 502.43,189.65 502.52,189.63 502.61,189.76 502.69,189.70 502.78,189.74 502.86,189.73 502.95,189.61 503.04,189.73 503.12,189.67 503.21,189.67 503.30,189.71 503.38,189.77 503.47,189.61 503.55,189.65 503.64,189.62 503.73,189.69 503.81,189.65 503.90,189.72 503.99,189.65 504.07,189.66 504.16,189.68 504.24,189.69 504.33,189.64 504.42,189.64 504.50,189.61 504.59,189.76 504.67,189.62 504.76,189.69 504.85,189.67 504.93,189.68 505.02,189.65 505.11,189.60 505.19,189.62 505.28,189.77 505.36,189.77 505.45,189.63 505.54,189.71 505.62,189.62 505.71,189.63 505.80,189.75 505.88,189.72 505.97,189.60 506.05,189.68 506.14,189.66 506.23,189.77 506.31,189.70 506.40,189.62 506.49,189.62 506.57,189.78 506.66,189.73 506.74,189.75 506.83,189.70 506.92,189.69 507.00,189.76 507.09,189.61 507.17,189.65 507.26,189.61 507.35,189.75 507.43,189.66 507.52,189.77 507.61,189.68 507.69,189.66 507.78,189.70 507.86,189.78 507.95,189.75 508.04,189.63 508.12,189.63 508.21,189.69 508.30,189.66 508.38,189.60 508.47,189.83 508.55,189.61 508.64,189.65 508.73,189.61 508.81,189.69 508.90,189.68 508.98,189.64 509.07,189.77 509.16,189.67 509.24,189.67 509.33,189.75 509.42,189.72 509.50,189.81 509.59,189.69 509.67,189.63 509.76,189.64 509.85,189.63 509.93,189.72 510.02,189.68 510.11,189.66 510.19,189.67 510.28,189.65 510.36,189.61 510.45,189.66 510.54,189.62 510.62,189.65 510.71,189.73 510.80,189.70 510.88,189.67 510.97,189.60 511.05,189.73 511.14,189.63 511.23,189.77 511.31,189.64 511.40,189.67 511.48,189.80 511.57,189.68 511.66,189.63 511.74,189.66 511.83,189.65 511.92,189.65 512.00,189.65 512.09,189.69 512.17,189.61 512.26,189.70 512.35,189.70 512.43,189.62 512.52,189.63 512.61,189.82 512.69,189.80 512.78,189.70 512.86,189.60 512.95,189.88 513.04,189.75 513.12,189.62 513.21,189.66 513.29,189.65 513.38,189.74 513.47,189.76 513.55,189.70 513.64,189.72 513.73,189.72 513.81,189.63 513.90,189.62 513.98,189.66 514.07,189.68 514.16,189.73 514.24,189.61 514.33,189.60 514.42,189.63 514.50,189.70 514.59,189.67 514.67,189.63 514.76,189.64 514.85,189.78 514.93,189.69 515.02,189.63 515.11,189.60 515.19,189.68 515.28,189.62 515.36,189.69 515.45,189.65 515.54,189.77 515.62,189.67 515.71,189.80 515.79,189.63 515.88,189.64 515.97,189.66 516.05,189.62 516.14,189.61 516.23,189.72 516.31,189.66 516.40,189.72 516.48,189.67 516.57,189.63 516.66,189.77 516.74,189.62 516.83,189.62 516.92,189.63 517.00,189.68 517.09,189.61 517.17,189.63 517.26,189.64 517.35,189.65 517.43,189.68 517.52,189.66 517.61,189.65 517.69,189.65 517.78,189.64 517.86,189.70 517.95,189.86 518.04,189.70 518.12,189.72 518.21,189.62 518.29,189.68 518.38,189.85 518.47,189.75 518.55,189.73 518.64,189.64 518.73,189.64 518.81,189.65 518.90,189.81 518.98,189.69 519.07,189.60 519.16,189.66 519.24,189.70 519.33,189.71 519.42,189.66 519.50,189.60 519.59,189.63 519.67,189.63 519.76,189.63 519.85,189.67 519.93,189.71 520.02,189.61 520.10,189.75 520.19,189.65 520.28,189.69 520.36,189.67 520.45,189.78 520.54,189.65 520.62,189.69 520.71,189.61 520.79,189.69 520.88,189.71 520.97,189.61 521.05,189.65 521.14,189.65 521.23,189.79 521.31,189.62 521.40,189.64 521.48,189.67 521.57,189.77 521.66,189.65 521.74,189.63 521.83,189.65 521.91,189.67 522.00,189.64 522.09,189.65 522.17,189.64 522.26,189.63 522.35,189.70 522.43,189.68 522.52,189.70 522.60,189.63 522.69,189.61 522.78,189.64 522.86,189.71 522.95,189.81 523.04,189.75 523.12,189.77 523.21,189.61 523.29,189.72 523.38,189.63 523.47,189.73 523.55,189.66 523.64,189.65 523.73,189.77 523.81,189.72 523.90,189.65 523.98,189.69 524.07,189.65 524.16,189.61 524.24,189.65 524.33,189.77 524.41,189.66 524.50,189.80 524.59,189.62 524.67,189.65 524.76,189.61 524.85,189.75 524.93,189.66 525.02,189.67 525.10,189.71 525.19,189.76 525.28,189.78 525.36,189.65 525.45,189.65 525.54,189.68 525.62,189.77 525.71,189.61 525.79,189.67 525.88,189.66 525.97,189.64 526.05,189.70 526.14,189.71 526.23,189.73 526.31,189.69 526.40,189.63 526.48,189.63 526.57,189.81 526.66,189.63 526.74,189.68 526.83,189.66 526.91,189.63 527.00,189.63 527.09,189.61 527.17,189.65 527.26,189.72 527.35,189.72 527.43,189.64 527.52,189.71 527.60,189.67 527.69,189.79 527.78,189.72 527.86,189.64 527.95,189.63 528.04,189.67 528.12,189.73 528.21,189.65 528.29,189.75 528.38,189.63 528.47,189.61 528.55,189.67 528.64,189.60 528.72,189.61 528.81,189.66 528.90,189.77 528.98,189.63 529.07,189.67 529.16,189.70 529.24,189.74 529.33,189.70 529.41,189.69 529.50,189.67 529.59,189.64 529.67,189.85 529.76,189.63 529.85,189.75 529.93,189.65 530.02,189.75 530.10,189.78 530.19,189.62 530.28,189.74 530.36,189.76 530.45,189.64 530.53,189.70 530.62,189.77 530.71,189.67 530.79,189.85 530.88,189.65 530.97,189.82 531.05,189.61 531.14,189.63 531.22,189.71 531.31,189.63 531.40,189.65 531.48,189.68 531.57,189.74 531.66,189.64 531.74,189.69 531.83,189.75 531.91,189.61 532.00,189.65 532.09,189.61 532.17,189.72 532.26,189.66 532.35,189.63 532.43,189.67 532.52,189.64 532.60,189.61 532.69,189.76 532.78,189.70 532.86,189.70 532.95,189.64 533.03,189.65 533.12,189.73 533.21,189.76 533.29,189.83 533.38,189.76 533.47,189.64 533.55,189.62 533.64,189.64 533.72,189.67 533.81,189.67 533.90,189.67 533.98,189.68 534.07,189.79 534.16,189.62 534.24,189.67 534.33,189.62 534.41,189.60 534.50,189.62 534.59,189.61 534.67,189.63 534.76,189.68 534.85,189.62 534.93,189.66 535.02,189.72 535.10,189.67 535.19,189.65 535.28,189.61 535.36,189.75 535.45,189.63 535.53,189.71 535.62,189.68 535.71,189.62 535.79,189.71 535.88,189.63 535.97,189.65 536.05,189.64 536.14,189.73 536.22,189.76 536.31,189.71 536.40,189.75 536.48,189.66 536.57,189.60 536.66,189.62 536.74,189.76 536.83,189.65 536.91,189.60 537.00,189.69 537.09,189.60 537.17,189.68 537.26,189.71 537.34,189.75 537.43,189.73 537.52,189.72 537.60,189.79 537.69,189.64 537.78,189.68 537.86,189.72 537.95,189.83 538.03,189.76 538.12,189.70 538.21,189.72 538.29,189.65 538.38,189.63 538.47,189.89 538.55,189.64 538.64,189.62 538.72,189.86 538.81,189.86 538.90,189.85 538.98,189.66 539.07,189.60 539.15,189.62 539.24,189.67 539.33,189.63 539.41,189.69 539.50,189.64 539.59,189.81 539.67,189.71 539.76,189.80 539.84,189.67 539.93,189.61 540.02,189.79 540.10,189.70 540.19,189.61 540.28,189.67 540.36,189.63 540.45,189.69 540.53,189.70 540.62,189.61 540.71,189.76 540.79,189.63 540.88,189.64 540.97,189.63 541.05,189.62 541.14,189.63 541.22,189.69 541.31,189.63 541.40,189.63 541.48,189.78 541.57,189.60 541.65,189.77 541.74,189.65 541.83,189.83 541.91,189.64 542.00,189.68 542.09,189.62 542.17,189.88 542.26,189.63 542.34,189.62 542.43,189.75 542.52,189.66 542.60,189.69 542.69,189.78 542.78,189.67 542.86,189.66 542.95,189.79 543.03,189.72 543.12,189.62 543.21,189.65 543.29,189.63 543.38,189.70 543.46,189.65 543.55,189.64 543.64,189.70 543.72,189.69 543.81,189.66 543.90,189.64 543.98,189.60 544.07,189.61 544.15,189.65 544.24,189.61 544.33,189.78 544.41,189.73 544.50,189.76 544.59,189.60 544.67,189.61 544.76,189.60 544.84,189.74 544.93,189.61 545.02,189.61 545.10,189.67 545.19,189.63 545.28,189.84 545.36,189.75 545.45,189.61 545.53,189.64 545.62,189.62 545.71,189.65 545.79,189.62 545.88,189.71 545.96,189.69 546.05,189.61 546.14,189.65 546.22,189.71 546.31,189.65 546.40,189.69 546.48,189.63 546.57,189.69 546.65,189.62 546.74,189.66 546.83,189.71 546.91,189.68 547.00,189.82 547.09,189.67 547.17,189.73 547.26,189.70 547.34,189.65 547.43,189.69 547.52,189.70 547.60,189.70 547.69,189.61 547.77,189.71 547.86,189.75 547.95,189.63 548.03,189.68 548.12,189.67 548.21,189.64 548.29,189.70 548.38,189.80 548.46,189.67 548.55,189.73 548.64,189.60 548.72,189.63 548.81,189.66 548.90,189.71 548.98,189.72 549.07,189.60 549.15,189.75 549.24,189.70 549.33,189.60 549.41,189.70 549.50,189.64 549.59,189.72 549.67,189.77 549.76,189.63 549.84,189.69 549.93,189.64 550.02,189.60 550.10,189.64 550.19,189.71 550.27,189.60 550.36,189.74 550.45,189.74 550.53,189.66 550.62,189.64 550.71,189.60 550.79,189.70 550.88,189.62 550.96,189.72 551.05,189.62 551.14,189.65 551.22,189.65 551.31,189.66 551.40,189.68 551.48,189.69 551.57,189.62 551.65,189.69 551.74,189.69 551.83,189.61 551.91,189.78 552.00,189.68 552.08,189.60 552.17,189.69 552.26,189.79 552.34,189.63 552.43,189.60 552.52,189.64 552.60,189.73 552.69,189.62 552.77,189.65 552.86,189.62 552.95,189.70 553.03,189.70 553.12,189.62 553.21,189.89 553.29,189.72 553.38,189.80 553.46,189.71 553.55,189.61 553.64,189.76 553.72,189.62 553.81,189.62 553.90,189.67 553.98,189.73 554.07,189.66 554.15,189.66 554.24,189.62 554.33,189.83 554.41,189.62 554.50,189.60 554.58,189.65 554.67,189.68 554.76,189.85 554.84,189.72 554.93,189.75 555.02,189.71 555.10,189.70 555.19,189.60 555.27,189.72 555.36,189.70 555.45,189.67 555.53,189.77 555.62,189.61 555.71,189.65 555.79,189.64 555.88,189.60 555.96,189.70 556.05,189.76 556.14,189.67 556.22,189.61 556.31,189.63 556.39,189.64 556.48,189.60 556.57,189.61 556.65,189.70 556.74,189.61 556.83,189.62 556.91,189.78 557.00,189.86 557.08,189.74 557.17,189.64 557.26,189.83 557.34,189.64 557.43,189.61 557.52,189.60 557.60,189.67 557.69,189.64 557.77,189.68 557.86,189.64 557.95,189.60 558.03,189.65 558.12,189.62 558.21,189.72 558.29,189.60 558.38,189.64 558.46,189.72 558.55,189.61 558.64,189.69 558.72,189.74 558.81,189.69 558.89,189.66 558.98,189.80 559.07,189.67 559.15,189.78 559.24,189.61 559.33,189.73 559.41,189.71 559.50,189.67 559.58,189.64 559.67,189.62 559.76,189.62 559.84,189.65 559.93,189.75 560.02,189.65 560.10,189.62 560.19,189.74 560.27,189.64 560.36,189.76 560.45,189.66 560.53,189.72 560.62,189.62 560.70,189.73 560.79,189.66 560.88,189.65 560.96,189.72 561.05,189.76 561.14,189.76 561.22,189.77 561.31,189.64 561.39,189.67 561.48,189.64 561.57,189.60 561.65,189.64 561.74,189.72 561.83,189.82 561.91,189.63 562.00,189.73 562.08,189.67 562.17,189.75 562.26,189.69 562.34,189.60 562.43,189.60 562.52,189.78 562.60,189.62 562.69,189.63 562.77,189.64 562.86,189.63 562.95,189.75 563.03,189.61 563.12,189.61 563.20,189.61 563.29,189.60 563.38,189.61 563.46,189.70 563.55,189.60 563.64,189.61 563.72,189.60 563.81,189.68 563.89,189.65 563.98,189.69 564.07,189.66 564.15,189.67 564.24,189.79 564.33,189.62 564.41,189.61 564.50,189.72 564.58,189.67 564.67,189.60 564.76,189.69 564.84,189.67 564.93,189.65 565.01,189.78 565.10,189.64 565.19,189.63 565.27,189.73 565.36,189.60 565.45,189.67 565.53,189.66 565.62,189.71 565.70,189.70 565.79,189.70 565.88,189.70 565.96,189.63 566.05,189.63 566.14,189.79 566.22,189.62 566.31,189.74 566.39,189.76 566.48,189.75 566.57,189.68 566.65,189.64 566.74,189.68 566.83,189.66 566.91,189.79 567.00,189.68 567.08,189.77 567.17,189.77 567.26,189.76 567.34,189.61 567.43,189.73 567.51,189.63 567.60,189.67 567.69,189.63 567.77,189.63 567.86,189.62 567.95,189.66 568.03,189.65 568.12,189.66 568.20,189.69 568.29,189.71 568.38,189.80 568.46,189.63 568.55,189.60 568.64,189.67 568.72,189.66 568.81,189.61 568.89,189.60 568.98,189.66 569.07,189.68 569.15,189.64 569.24,189.71 569.32,189.70 569.41,189.66 569.50,189.64 569.58,189.70 569.67,189.67 569.76,189.64 569.84,189.61 569.93,189.73 570.01,189.66 570.10,189.75 570.19,189.68 570.27,189.61 570.36,189.73 570.45,189.69 570.53,189.62 570.62,189.70 570.70,189.63 570.79,189.71 570.88,189.66 570.96,189.76 571.05,189.85 571.14,189.62 571.22,189.72 571.31,189.63 571.39,189.74 571.48,189.86 571.57,189.67 571.65,189.60 571.74,189.67 571.82,189.70 571.91,189.65 572.00,189.62 572.08,189.77 572.17,189.63 572.26,189.76 572.34,189.71 572.43,189.61 572.51,189.64 572.60,189.76 572.69,189.97 572.77,189.62 572.86,189.62 572.95,189.68 573.03,189.66 573.12,189.70 573.20,189.70 573.29,189.64 573.38,189.61 573.46,189.62 573.55,189.72 573.63,189.62 573.72,189.62 573.81,189.64 573.89,189.64 573.98,189.60 574.07,189.65 574.15,189.70 574.24,189.67 574.32,189.70 574.41,189.70 574.50,189.62 574.58,189.61 574.67,189.61 574.76,189.85 574.84,189.70 574.93,189.62 575.01,189.69 575.10,189.67 575.19,189.75 575.27,189.78 575.36,189.61 575.45,189.65 575.53,189.60 575.62,189.63 575.70,189.69 575.79,189.68 575.88,189.66 575.96,189.71 576.05,189.62 576.13,189.83 576.22,189.72 576.31,189.69 576.39,189.71 576.48,189.64 576.57,189.68 576.65,189.85 576.74,189.66 576.82,189.73 576.91,189.63 577.00,189.75 577.08,189.67 577.17,189.70 577.26,189.70 577.34,189.65 577.43,189.82 577.51,189.66 577.60,189.66 577.69,189.66 577.77,189.64 577.86,189.62 577.94,189.72 578.03,189.65 578.12,189.61 578.20,189.64 578.29,189.77 578.38,189.69 578.46,189.65 578.55,189.63 578.63,189.76 578.72,189.61 578.81,189.65 578.89,189.67 578.98,189.66 579.07,189.64 579.15,189.70 579.24,189.69 579.32,189.67 579.41,189.60 579.50,189.66 579.58,189.63 579.67,189.60 579.76,189.71 579.84,189.78 579.93,189.78 580.01,189.69 580.10,189.67 580.19,189.69 580.27,189.65 580.36,189.61 580.44,189.62 580.53,189.83 580.62,189.62 580.70,189.72 580.79,189.75 580.88,189.73 580.96,189.73 581.05,189.64 581.13,189.79 581.22,189.66 581.31,189.64 581.39,189.66 581.48,189.68 581.57,189.69 581.65,189.70 581.74,189.66 581.82,189.65 581.91,189.61 582.00,189.63 582.08,189.72 582.17,189.67 582.25,189.78 582.34,189.81 582.43,189.69 582.51,189.64 582.60,189.60 582.69,189.68 582.77,189.67 582.86,189.61 582.94,189.77 583.03,189.65 583.12,189.63 583.20,189.86 583.29,189.61 583.38,189.68 583.46,189.67 583.55,189.69 583.63,189.67 583.72,189.78 583.81,189.62 583.89,189.63 583.98,189.68 584.07,189.62 584.15,189.60 584.24,189.63 584.32,189.63 584.41,189.60 584.50,189.71 584.58,189.66 584.67,189.63 584.75,189.65 584.84,189.65 584.93,189.64 585.01,189.61 585.10,189.69 585.19,189.65 585.27,189.69 585.36,189.62 585.44,189.61 585.53,189.63 585.62,189.73 585.70,189.61 585.79,189.71 585.88,189.68 585.96,189.68 586.05,189.63 586.13,189.67 586.22,189.74 586.31,189.63 586.39,189.63 586.48,189.67 586.56,189.63 586.65,189.77 586.74,189.80 586.82,189.80 586.91,189.64 587.00,189.73 587.08,189.73 587.17,189.61 587.25,189.71 587.34,189.74 587.43,189.60 587.51,189.65 587.60,189.65 587.69,189.70 587.77,189.70 587.86,189.74 587.94,189.74 588.03,189.61 588.12,189.60 588.20,189.68 588.29,189.61 588.38,189.62 588.46,189.80 588.55,189.74 588.63,189.72 588.72,189.70 588.81,189.68 588.89,189.61 588.98,189.61 589.06,189.71 589.15,189.69 589.24,189.62 589.32,189.72 589.41,189.65 589.50,189.65 589.58,189.62 589.67,189.63 589.75,189.66 589.84,189.65 589.93,189.64 590.01,189.72 590.10,189.76 590.19,189.80 590.27,189.67 590.36,189.64 590.44,189.78 590.53,189.68 590.62,189.67 590.70,189.68 590.79,189.86 590.88,189.74 590.96,189.64 591.05,189.65 591.13,189.68 591.22,189.64 591.31,189.76 591.39,189.63 591.48,189.72 591.56,189.62 591.65,189.65 591.74,189.73 591.82,189.65 591.91,189.70 592.00,189.66 592.08,189.66 592.17,189.60 592.25,189.72 592.34,189.67 592.43,189.61 592.51,189.61 592.60,189.72 592.69,189.65 592.77,189.66 592.86,189.71 592.94,189.79 593.03,189.67 593.12,189.63 593.20,189.73 593.29,189.66 593.37,189.80 593.46,189.63 593.55,189.64 593.63,189.68 593.72,189.74 593.81,189.66 593.89,189.65 593.98,189.68 594.06,189.63 594.15,189.75 594.24,189.64 594.32,189.62 594.41,189.62 594.50,189.68 594.58,189.74 594.67,189.63 594.75,189.81 594.84,189.70 594.93,189.81 595.01,189.68 595.10,189.72 595.18,189.62 595.27,189.62 595.36,189.71 595.44,189.71 595.53,189.65 595.62,189.69 595.70,189.60 595.79,189.65 595.87,189.73 595.96,189.71 596.05,189.61 596.13,189.75 596.22,189.68 596.31,189.62 596.39,189.61 596.48,189.64 596.56,189.73 596.65,189.67 596.74,189.70 596.82,189.71 596.91,189.62 597.00,189.67 597.08,189.72 597.17,189.65 597.25,189.61 597.34,189.70 597.43,189.67 597.51,189.68 597.60,189.74 597.68,189.78 597.77,189.69 597.86,189.71 597.94,189.75 598.03,189.70 598.12,189.66 598.20,189.63 598.29,189.69 598.37,189.73 598.46,189.76 598.55,189.60 598.63,189.61 598.72,189.72 598.81,189.65 598.89,189.73 598.98,189.64 599.06,189.63 599.15,189.63 599.24,189.66 599.32,189.63 599.41,189.63 599.50,189.65 599.58,189.63 599.67,189.61 599.75,189.68 599.84,189.72 599.93,189.74 600.01,189.70 600.10,189.78 600.18,189.69 600.27,189.83 600.36,189.66 600.44,189.64 600.53,189.60 600.62,189.62 600.70,189.66 600.79,189.73 600.87,189.61 600.96,189.70 601.05,189.67 601.13,189.67 601.22,189.73 601.31,189.63 601.39,189.71 601.48,189.62 601.56,189.70 601.65,189.62 601.74,189.67 601.82,189.66 601.91,189.70 601.99,189.62 602.08,189.63 602.17,189.64 602.25,189.87 602.34,189.62 602.43,189.77 602.51,189.61 602.60,189.64 602.68,189.80 602.77,189.62 602.86,189.61 602.94,189.63 603.03,189.64 603.12,189.73 603.20,189.75 603.29,189.62 603.37,189.66 603.46,189.61 603.55,189.62 603.63,189.65 603.72,189.67 603.80,189.78 603.89,189.71 603.98,189.65 604.06,189.63 604.15,189.71 604.24,189.70 604.32,189.69 604.41,189.69 604.49,189.61 604.58,189.92 604.67,189.68 604.75,189.72 604.84,189.68 604.93,189.71 605.01,189.77 605.10,189.64 605.18,189.78 605.27,189.68 605.36,189.71 605.44,189.60 605.53,189.68 605.62,189.66 605.70,189.71 605.79,189.61 605.87,189.79 605.96,189.60 606.05,189.70 606.13,189.63 606.22,189.63 606.30,189.71 606.39,189.71 606.48,189.73 606.56,189.61 606.65,189.63 606.74,189.63 606.82,189.70 606.91,189.72 606.99,189.72 607.08,189.63 607.17,189.60 607.25,189.67 607.34,189.64 607.43,189.68 607.51,189.80 607.60,189.68 607.68,189.68 607.77,189.62 607.86,189.65 607.94,189.60 608.03,189.63 608.12,189.63 608.20,189.85 608.29,189.60 608.37,189.61 608.46,189.70 608.55,189.64 608.63,189.83 608.72,189.78 608.80,189.66 608.89,189.62 608.98,189.63 609.06,189.74 609.15,189.64 609.24,189.68 609.32,189.67 609.41,189.70 609.49,189.68 609.58,189.74 609.67,189.76 609.75,189.61 609.84,189.61 609.93,189.63 610.01,189.74 610.10,189.62 610.18,189.63 610.27,189.79 610.36,189.73 610.44,189.67 610.53,189.66 610.61,189.60 610.70,189.66 610.79,189.69 610.87,189.77 610.96,189.79 611.05,189.66 611.13,189.66 611.22,189.66 611.30,189.62 611.39,189.70 611.48,189.62 611.56,189.68 611.65,189.69 611.74,189.76 611.82,189.69 611.91,189.64 611.99,189.69 612.08,189.72 612.17,189.67 612.25,189.72 612.34,189.79 612.42,189.73 612.51,190.01 612.60,189.71 612.68,189.72 612.77,189.75 612.86,189.86 612.94,189.91 613.03,189.77 613.11,189.87 613.20,189.81 613.29,189.70 613.37,189.69 613.46,189.66 613.55,189.81 613.63,189.89 613.72,189.89 613.80,189.78 613.89,189.79 613.98,189.71 614.06,189.98 614.15,190.08 614.24,189.81 614.32,189.76 614.41,189.77 614.49,189.78 614.58,189.92 614.67,189.69 614.75,189.70 614.84,189.64 614.92,189.87 615.01,189.89 615.10,189.64 615.18,189.71 615.27,189.72 615.36,190.02 615.44,189.69 615.53,189.87 615.61,189.83 615.70,189.69 615.79,189.92 615.87,189.93 615.96,189.81 616.05,189.83 616.13,189.94 616.22,190.19 616.30,189.82 616.39,189.72 616.48,189.73 616.56,189.79 616.65,189.66 616.74,189.87 616.82,189.91 616.91,189.65 616.99,189.91 617.08,190.38 617.17,190.41 617.25,189.74 617.34,189.72 617.42,189.98 617.51,189.79 617.60,189.91 617.68,189.81 617.77,190.26 617.86,189.81 617.94,190.55 618.03,190.56 618.11,189.76 618.20,189.99 618.29,189.96 618.37,189.81 618.46,189.88 618.55,189.76 618.63,190.29 618.72,189.70 618.80,189.79 618.89,189.91 618.98,189.83 619.06,190.09 619.15,189.70 619.23,189.93 619.32,189.89 619.41,189.91 619.49,189.75 619.58,190.43 619.67,189.98 619.75,190.24 619.84,189.76 619.92,190.39 620.01,190.11 620.10,189.75 620.18,190.31 620.27,189.75 620.36,189.99 620.44,189.94 620.53,190.42 620.61,190.04 620.70,189.86 620.79,190.25 620.87,190.13 620.96,189.79 621.04,190.31 621.13,190.10 621.22,190.14 621.30,190.06 621.39,190.37 621.48,189.95 621.56,189.96 621.65,190.05 621.73,190.07 621.82,189.82 621.91,190.03 621.99,191.37 622.08,191.56 622.17,189.78 622.25,190.40 622.34,189.93 622.42,189.95 622.51,189.79 622.60,190.05 622.68,190.03 622.77,190.25 622.86,190.04 622.94,190.23 623.03,189.98 623.11,190.16 623.20,190.20 623.29,190.05 623.37,190.41 623.46,190.18 623.54,189.94 623.63,190.43 623.72,190.49 623.80,190.58 623.89,190.51 623.98,190.06 624.06,190.91 624.15,190.36 624.23,191.19 624.32,190.15 624.41,190.62 624.49,191.24 624.58,189.91 624.67,189.91 624.75,189.98 624.84,190.24 624.92,191.14 625.01,190.07 625.10,190.41 625.18,189.98 625.27,190.20 625.36,189.95 625.44,190.12 625.53,190.22 625.61,190.17 625.70,190.31 625.79,190.24 625.87,190.23 625.96,190.11 626.04,190.91 626.13,190.38 626.22,190.00 626.30,190.27 626.39,190.55 626.48,190.32 626.56,190.09 626.65,190.01 626.73,190.11 626.82,190.53 626.91,191.42 626.99,190.01 627.08,190.38 627.17,190.15 627.25,190.53 627.34,190.36 627.42,191.32 627.51,190.28 627.60,190.79 627.68,192.73 627.77,191.96 627.85,190.75 627.94,190.25 628.03,190.04 628.11,190.14 628.20,191.16 628.29,190.00 628.37,190.49 628.46,191.06 628.54,190.25 628.63,190.19 628.72,190.33 628.80,191.45 628.89,191.76 628.98,190.08 629.06,191.02 629.15,190.63 629.23,191.06 629.32,190.14 629.41,190.17 629.49,190.15 629.58,190.10 629.66,190.10 629.75,190.20 629.84,190.30 629.92,190.26 630.01,190.11 630.10,190.19 630.18,190.92 630.27,190.35 630.35,190.27 630.44,190.41 630.53,192.10 630.61,190.15 630.70,191.56 630.79,190.35 630.87,190.15 630.96,190.76 631.04,190.74 631.13,191.05 631.22,190.33 631.30,190.41 631.39,190.39 631.48,190.66 631.56,190.59 631.65,191.66 631.73,190.14 631.82,190.40 631.91,192.28 631.99,191.61 632.08,190.79 632.16,190.70 632.25,190.28 632.34,190.19 632.42,190.74 632.51,191.25 632.60,190.78 632.68,191.88 632.77,190.47 632.85,191.44 632.94,193.37 633.03,190.75 633.11,194.06 633.20,193.65 633.29,190.59 633.37,190.69 633.46,191.50 633.54,192.71 633.63,190.34 633.72,190.59 633.80,192.68 633.89,190.77 633.97,190.62 634.06,191.50 634.15,190.35 634.23,190.51 634.32,190.51 634.41,190.34 634.49,191.08 634.58,190.31 634.66,190.92 634.75,190.33 634.84,190.40 634.92,191.02 635.01,191.06 635.10,190.81 635.18,191.02 635.27,191.16 635.35,191.17 635.44,191.91 635.53,190.50 635.61,191.78 635.70,190.55 635.79,193.70 635.87,190.73 635.96,191.43 636.04,192.92 636.13,190.71 636.22,190.94 636.30,191.26 636.39,191.37 636.47,190.46 636.56,190.56 636.65,192.10 636.73,190.67 636.82,190.56 636.91,191.56 636.99,191.76 637.08,190.46 637.16,190.86 637.25,193.08 637.34,190.96 637.42,191.18 637.51,190.71 637.60,191.38 637.68,191.60 637.77,190.90 637.85,191.38 637.94,190.67 638.03,190.69 638.11,190.64 638.20,190.90 638.28,190.79 638.37,190.98 638.46,190.76 638.54,195.27 638.63,190.87 638.72,191.66 638.80,191.70 638.89,190.92 638.97,191.61 639.06,190.58 639.15,192.81 639.23,191.01 639.32,191.65 639.41,190.59 639.49,194.27 639.58,191.15 639.66,190.79 639.75,193.24 639.84,190.88 639.92,191.56 640.01,190.86 640.10,190.73 640.18,190.89 640.27,190.66 640.35,191.45 640.44,191.24 640.53,191.24 640.61,193.71 640.70,191.51 640.78,191.43 640.87,191.60 640.96,191.04 641.04,192.14 641.13,190.95 641.22,191.10 641.30,191.13 641.39,190.74 641.47,193.32 641.56,192.70 641.65,191.29 641.73,191.04 641.82,191.35 641.91,191.13 641.99,191.02 642.08,190.94 642.16,190.82 642.25,191.10 642.34,191.51 642.42,191.60 642.51,191.23 642.60,197.80 642.68,191.29 642.77,191.58 642.85,191.37 642.94,191.21 643.03,195.68 643.11,190.89 643.20,193.25 643.28,191.17 643.37,191.64 643.46,199.87 643.54,191.12 643.63,194.91 643.72,193.91 643.80,192.53 643.89,191.88 643.97,192.70 644.06,192.88 644.15,191.17 644.23,194.97 644.32,191.23 644.41,192.16 644.49,191.59 644.58,191.21 644.66,191.60 644.75,192.69 644.84,191.57 644.92,193.56 645.01,193.88 645.09,191.60 645.18,192.09 645.27,192.05 645.35,191.16 645.44,192.06 645.53,191.47 645.61,191.69 645.70,191.27 645.78,191.09 645.87,191.47 645.96,194.65 646.04,191.22 646.13,192.03 646.22,192.70 646.30,193.22 646.39,192.15 646.47,193.14 646.47,232.53 646.47,193.14" fill="none" stroke="#0000ff" stroke-width="0.65" stroke-linejoin="round"/>
<polyline points="646.47,193.14 646.56,191.69 646.65,191.23 646.73,193.49 646.82,190.13 646.90,191.52 646.99,193.53 647.08,191.32 647.16,190.89 647.25,194.45 647.34,190.55 647.42,192.96 647.51,193.77 647.59,193.25 647.68,192.49 647.77,192.49 647.85,193.67 647.94,194.85 648.03,191.97 648.11,191.53 648.20,191.64 648.28,193.15 648.37,190.82 648.46,195.07 648.54,194.50 648.63,195.06 648.72,192.35 648.80,192.51 648.89,194.01 648.97,192.50 649.06,195.14 649.15,194.97 649.23,190.29 649.32,190.68 649.40,194.80 649.49,191.84 649.58,192.59 649.66,192.44 649.75,190.91 649.84,191.92 649.92,190.40 650.01,191.71" fill="none" stroke="#0000ff" stroke-width="0.8" stroke-linejoin="round"/>
<text x="40.80" y="339.85" text-anchor="middle" font-size="9.1" >0</text>
<text x="69.40" y="339.85" text-anchor="middle" font-size="9.1" >200</text>
<text x="98.00" y="339.85" text-anchor="middle" font-size="9.1" >400</text>
<text x="126.60" y="339.85" text-anchor="middle" font-size="9.1" >600</text>
<text x="155.20" y="339.85" text-anchor="middle" font-size="9.1" >800</text>
<text x="183.80" y="339.85" text-anchor="middle" font-size="9.1" >1000</text>
<text x="212.40" y="339.85" text-anchor="middle" font-size="9.1" >1200</text>
<text x="37.50" y="331.25" text-anchor="end" font-size="9.1" >0.999</text>
<text x="37.50" y="306.00" text-anchor="end" font-size="9.1" >0.9995</text>
<text x="37.50" y="280.75" text-anchor="end" font-size="9.1" >1</text>
<text x="126.60" y="274.35" text-anchor="middle" font-size="9.05" >LMD-SVD-GK-bear14-Normal</text>
<text x="0" y="0" text-anchor="middle" font-size="9" transform="translate(8.10 303.90) rotate(-90)">CV</text>
<text x="126.60" y="350.95" text-anchor="middle" font-size="8.9" >Time</text>
<polyline points="40.80,277.65 41.52,277.65 42.23,277.65 42.95,277.65 43.66,277.65 44.38,277.65 45.09,277.65 45.80,277.65 46.52,277.65 47.23,277.65 47.95,277.65 48.66,277.65 49.38,277.65 50.09,277.65 50.81,277.65 51.52,277.65 52.24,277.65 52.95,277.65 53.67,277.65 54.38,277.65 55.10,277.65 55.81,277.65 56.53,277.65 57.25,277.65 57.96,277.65 58.67,277.65 59.39,277.65 60.11,277.65 60.82,277.65 61.53,277.65 62.25,277.65 62.97,277.65 63.68,277.65 64.40,277.65 65.11,277.65 65.83,277.65 66.54,277.65 67.25,277.65 67.97,277.65 68.69,277.65 69.40,277.65 70.12,277.65 70.83,277.65 71.55,277.65 72.26,277.65 72.97,277.65 73.69,277.65 74.41,277.65 75.12,277.65 75.84,277.65 76.55,277.65 77.27,277.65 77.98,277.65 78.69,277.65 79.41,277.65 80.12,277.65 80.84,277.65 81.56,277.65 82.27,277.65 82.98,277.65 83.70,277.65 84.41,277.65 85.13,277.65 85.84,277.65 86.56,277.65 87.28,277.65 87.99,277.65 88.71,277.65 89.42,277.65 90.13,277.65 90.85,277.65 91.56,277.65 92.28,277.65 93.00,277.65 93.71,277.65 94.43,277.65 95.14,277.65 95.86,277.65 96.57,277.65 97.28,277.65 98.00,277.65 98.72,277.65 99.43,277.65 100.15,277.65 100.86,277.65 101.58,277.65 102.29,277.65 103.00,277.65 103.72,277.65 104.44,277.65 105.15,277.65 105.87,277.65 106.58,277.65 107.30,277.65 108.01,277.65 108.73,277.65 109.44,277.65 110.16,277.65 110.87,277.65 111.59,277.65 112.30,277.65 113.02,277.65 113.73,277.65 114.45,277.65 115.16,277.65 115.88,277.65 116.59,277.65 117.31,277.65 118.02,277.65 118.74,277.65 119.45,277.65 120.17,277.65 120.88,277.65 121.60,277.65 122.31,277.65 123.03,277.65 123.74,277.65 124.46,277.65 125.17,277.65 125.89,277.65 126.60,277.65 127.32,277.65 128.03,277.65 128.75,277.65 129.46,277.65 130.18,277.65 130.89,277.65 131.61,277.65 132.32,277.65 133.04,277.65 133.75,277.65 134.47,277.65 135.18,277.65 135.90,277.65 136.61,277.65 137.32,277.65 138.04,277.65 138.75,277.65 139.47,277.65 140.19,277.65 140.90,277.65 141.62,277.65 142.33,277.65 143.05,277.65 143.76,277.65 144.48,277.65 145.19,277.65 145.91,277.65 146.62,277.65 147.34,277.65 148.05,277.65 148.77,277.65 149.48,277.65 150.19,277.65 150.91,277.65 151.62,277.65 152.34,277.65 153.06,277.65 153.77,277.65 154.49,277.65 155.20,277.65 155.92,277.65 156.63,277.65 157.35,277.65 158.06,277.65 158.78,277.65 159.49,277.65 160.21,277.65 160.92,277.65 161.64,277.65 162.35,277.65 163.06,277.65 163.78,277.65 164.50,277.65 165.21,277.65 165.93,277.65 166.64,277.65 167.36,277.65 168.07,277.65 168.79,277.65 169.50,277.65 170.22,277.65 170.93,277.65 171.64,277.65 172.36,277.65 173.08,277.65 173.79,277.65 174.50,277.65 175.22,277.65 175.94,277.65 176.65,277.65 177.37,277.65 178.08,277.65 178.80,277.65 179.51,277.65 180.23,277.65 180.94,277.65 181.66,277.65 182.37,277.65 183.09,277.65 183.80,277.65 184.52,277.65 185.23,277.65 185.94,277.65 186.66,277.65 187.38,277.65 188.09,277.65 188.81,277.65 189.52,277.65 190.24,277.65 190.95,277.65 191.67,277.65 192.38,277.65 193.10,277.65 193.81,277.65 194.53,277.65 195.24,277.65 196.35,277.60" fill="none" stroke="#0000ff" stroke-width="0.75" stroke-linejoin="round"/>
<polyline points="196.64,277.60 196.15,278.60 196.72,279.60 196.44,280.60 196.93,281.60 196.91,282.60 197.11,283.60 197.03,284.60 197.57,285.60 198.72,286.30 199.15,287.53 198.89,288.77 199.48,290.00 199.68,291.12 199.96,292.24 199.88,293.36 200.24,294.48 200.52,295.60 200.34,296.70 200.63,297.80 200.86,298.90 200.56,300.00 200.82,301.23 200.94,302.45 201.34,303.67 201.09,304.90 201.70,306.50 202.47,308.20 202.82,309.47 202.64,310.73 203.38,312.00 203.19,313.10 203.49,314.20 203.41,315.30 203.28,316.40 203.67,317.50 203.87,318.67 203.60,319.83 204.29,321.00 203.94,322.13 203.79,323.27 203.75,324.40" fill="none" stroke="#0000ff" stroke-width="1.0" stroke-linejoin="round"/>
<text x="267.50" y="339.85" text-anchor="middle" font-size="9.1" >0</text>
<text x="296.15" y="339.85" text-anchor="middle" font-size="9.1" >200</text>
<text x="324.80" y="339.85" text-anchor="middle" font-size="9.1" >400</text>
<text x="353.45" y="339.85" text-anchor="middle" font-size="9.1" >600</text>
<text x="382.10" y="339.85" text-anchor="middle" font-size="9.1" >800</text>
<text x="410.75" y="339.85" text-anchor="middle" font-size="9.1" >1000</text>
<text x="439.40" y="339.85" text-anchor="middle" font-size="9.1" >1200</text>
<text x="264.20" y="331.25" text-anchor="end" font-size="9.1" >0.999</text>
<text x="264.20" y="306.00" text-anchor="end" font-size="9.1" >0.9995</text>
<text x="264.20" y="280.75" text-anchor="end" font-size="9.1" >1</text>
<text x="353.45" y="274.35" text-anchor="middle" font-size="9.05" >LMD-SVD-GK-bear14-Slight</text>
<text x="353.45" y="350.95" text-anchor="middle" font-size="8.9" >Time</text>
<polyline points="267.50,277.65 268.22,277.65 268.93,277.65 269.65,277.65 270.37,277.65 271.08,277.65 271.80,277.65 272.51,277.65 273.23,277.65 273.95,277.65 274.66,277.65 275.38,277.65 276.10,277.65 276.81,277.65 277.53,277.65 278.24,277.65 278.96,277.65 279.68,277.65 280.39,277.65 281.11,277.65 281.82,277.65 282.54,277.65 283.26,277.65 283.97,277.65 284.69,277.65 285.41,277.65 286.12,277.65 286.84,277.65 287.56,277.65 288.27,277.65 288.99,277.65 289.70,277.65 290.42,277.65 291.14,277.65 291.85,277.65 292.57,277.65 293.28,277.65 294.00,277.65 294.72,277.65 295.43,277.65 296.15,277.65 296.87,277.65 297.58,277.65 298.30,277.65 299.01,277.65 299.73,277.65 300.45,277.65 301.16,277.65 301.88,277.65 302.60,277.65 303.31,277.65 304.03,277.65 304.75,277.65 305.46,277.65 306.18,277.65 306.89,277.65 307.61,277.65 308.33,277.65 309.04,277.65 309.76,277.65 310.48,277.65 311.19,277.65 311.91,277.65 312.62,277.65 313.34,277.65 314.06,277.65 314.77,277.65 315.49,277.65 316.20,277.65 316.92,277.65 317.64,277.65 318.35,277.65 319.07,277.65 319.79,277.65 320.50,277.65 321.22,277.65 321.94,277.65 322.65,277.65 323.37,277.65 324.08,277.65 324.80,277.65 325.52,277.65 326.23,277.65 326.95,277.65 327.66,277.65 328.38,277.65 329.10,277.65 329.81,277.65 330.53,277.65 331.25,277.65 331.96,277.65 332.68,277.65 333.39,277.65 334.11,277.65 334.83,277.65 335.54,277.65 336.26,277.65 336.98,277.65 337.69,277.65 338.41,277.65 339.12,277.65 339.84,277.65 340.56,277.65 341.27,277.65 341.99,277.65 342.71,277.65 343.42,277.65 344.14,277.65 344.86,277.65 345.57,277.65 346.29,277.65 347.00,277.65 347.72,277.65 348.44,277.65 349.15,277.65 349.87,277.65 350.58,277.65 351.30,277.65 352.02,277.65 352.73,277.65 353.45,277.65 354.17,277.65 354.88,277.65 355.60,277.65 356.31,277.65 357.03,277.65 357.75,277.65 358.46,277.65 359.18,277.65 359.90,277.65 360.61,277.65 361.33,277.65 362.05,277.65 362.76,277.65 363.48,277.65 364.19,277.65 364.91,277.65 365.63,277.65 366.34,277.65 367.06,277.65 367.77,277.65 368.49,277.65 369.21,277.65 369.92,277.65 370.64,277.65 371.36,277.65 372.07,277.65 372.79,277.65 373.50,277.65 374.22,277.65 374.94,277.65 375.65,277.65 376.37,277.65 377.09,277.65 377.80,277.65 378.52,277.65 379.24,277.65 379.95,277.65 380.67,277.65 381.38,277.65 382.10,277.65 382.82,277.65 383.53,277.65 384.25,277.65 384.96,277.65 385.68,277.65 386.40,277.65 387.11,277.65 387.83,277.65 388.55,277.65 389.26,277.65 389.98,277.65 390.69,277.65 391.41,277.65 392.13,277.65 392.84,277.65 393.56,277.65 394.28,277.65 394.99,277.65 395.71,277.65 396.42,277.65 397.14,277.65 397.86,277.65 398.57,277.65 399.29,277.65 400.01,277.65 400.72,277.65 401.44,277.65 402.15,277.65 402.87,277.65 403.59,277.65 404.30,277.65 405.02,277.65 405.74,277.65 406.45,277.65 407.17,277.65 407.88,277.65 408.60,277.65 409.32,277.65 410.03,277.65 410.75,277.65 411.47,277.65 412.18,277.65 412.90,277.65 413.62,277.65 414.33,277.65 415.05,277.65 415.76,277.65 416.48,277.65 417.20,277.65 417.91,277.65 418.63,277.65 419.34,277.65 420.06,277.65 420.78,277.65 421.49,277.65 422.21,277.65 423.30,277.60" fill="none" stroke="#0000ff" stroke-width="0.75" stroke-linejoin="round"/>
<polyline points="422.97,277.60 423.19,278.60 423.33,279.60 423.62,280.60 423.36,281.60 423.65,282.60 423.57,283.60 423.85,284.60 424.73,285.60 425.66,286.30 426.08,287.53 426.24,288.77 426.11,290.00 426.69,291.12 426.75,292.24 427.12,293.36 427.43,294.48 427.20,295.60 427.62,296.70 427.26,297.80 427.63,298.90 427.25,300.00 427.98,301.23 427.86,302.45 428.02,303.67 428.20,304.90 428.71,306.50 429.31,308.20 429.80,309.47 429.92,310.73 429.69,312.00 429.98,313.10 430.58,314.20 430.27,315.30 430.42,316.40 430.75,317.50 430.68,318.67 431.15,319.83 431.24,321.00 430.70,322.80" fill="none" stroke="#0000ff" stroke-width="1.0" stroke-linejoin="round"/>
<text x="493.90" y="339.85" text-anchor="middle" font-size="9.1" >0</text>
<text x="522.63" y="339.85" text-anchor="middle" font-size="9.1" >200</text>
<text x="551.37" y="339.85" text-anchor="middle" font-size="9.1" >400</text>
<text x="580.10" y="339.85" text-anchor="middle" font-size="9.1" >600</text>
<text x="608.83" y="339.85" text-anchor="middle" font-size="9.1" >800</text>
<text x="637.57" y="339.85" text-anchor="middle" font-size="9.1" >1000</text>
<text x="666.30" y="339.85" text-anchor="middle" font-size="9.1" >1200</text>
<text x="490.60" y="323.55" text-anchor="end" font-size="9.1" >0.9995</text>
<text x="490.60" y="280.75" text-anchor="end" font-size="9.1" >1</text>
<text x="580.10" y="274.35" text-anchor="middle" font-size="9.05" >LMD-SVD-GK-bear14-Severe</text>
<text x="580.10" y="350.95" text-anchor="middle" font-size="8.9" >Time</text>
<polyline points="493.90,323.43 494.04,323.33 494.19,323.71 494.33,322.09 494.47,323.00 494.62,322.97 494.76,323.78 494.91,322.44 495.05,323.74 495.19,322.57 495.34,322.02 495.48,323.58 495.62,322.03 495.77,321.90 495.91,321.69 496.05,322.39 496.20,321.55 496.34,322.38 496.49,322.66 496.63,321.90 496.77,322.48 496.92,321.87 497.06,322.56 497.20,321.89 497.35,323.08 497.49,321.75 497.64,321.47 497.78,323.33 497.92,321.34 498.07,323.01 498.21,321.95 498.35,321.85 498.50,320.13 498.64,321.87 498.78,321.34 498.93,321.81 499.07,322.15 499.22,322.41 499.36,321.79 499.50,322.46 499.65,322.45 499.79,321.78 499.93,321.84 500.08,322.28 500.22,322.01 500.36,322.23 500.51,321.63 500.65,322.24 500.80,321.80 500.94,321.75 501.08,320.56 501.23,321.15 501.37,321.72 501.51,322.42 501.66,320.70 501.80,320.73 501.95,321.30 502.09,320.75 502.23,321.96 502.38,321.26 502.52,320.06 502.66,321.39 502.81,321.71 502.95,320.60 503.09,321.32 503.24,320.21 503.38,321.75 503.53,320.87 503.67,319.66 503.81,320.76 503.96,320.22 504.10,321.80 504.24,321.46 504.39,320.19 504.53,321.22 504.67,320.49 504.82,320.63 504.96,320.90 505.11,321.48 505.25,321.03 505.39,320.36 505.54,321.13 505.68,320.76 505.82,319.67 505.97,320.05 506.11,321.05 506.26,320.52 506.40,320.17 506.54,320.86 506.69,321.37 506.83,320.97 506.97,320.79 507.12,321.66 507.26,321.35 507.40,319.51 507.55,320.93 507.69,320.05 507.84,320.46 507.98,321.73 508.12,320.76 508.27,320.91 508.41,320.98 508.55,321.33 508.70,320.62 508.84,321.46 508.98,320.85 509.13,320.36 509.27,321.73 509.42,321.37 509.56,319.77 509.70,321.68 509.85,321.28 509.99,322.31 510.13,320.74 510.28,322.17 510.42,322.28 510.57,322.30 510.71,321.75 510.85,322.49 511.00,321.34 511.14,322.34 511.28,321.61 511.43,321.77 511.57,322.22 511.71,322.73 511.86,322.34 512.00,321.59 512.15,321.16 512.29,321.84 512.43,321.43 512.58,321.21 512.72,322.60 512.86,321.71 513.01,321.30 513.15,322.17 513.29,321.65 513.44,322.05 513.58,321.85 513.73,321.57 513.87,322.69 514.01,320.21 514.16,321.08 514.30,321.17 514.44,321.80 514.59,321.62 514.73,321.64 514.88,321.66 515.02,322.36 515.16,322.10 515.31,321.18 515.45,321.44 515.59,322.60 515.74,322.51 515.88,320.36 516.02,322.14 516.17,321.74 516.31,321.91 516.46,322.78 516.60,321.42 516.74,321.74 516.89,321.91 517.03,321.83 517.17,322.58 517.32,321.02 517.46,321.35 517.61,321.83 517.75,321.80 517.89,321.60 518.04,320.15 518.18,322.56 518.32,322.80 518.47,323.04 518.61,321.79 518.75,321.65 518.90,322.05 519.04,322.92 519.19,322.02 519.33,322.21 519.47,322.11 519.62,322.78 519.76,322.82 519.90,323.19 520.05,323.01 520.19,321.39 520.33,322.75 520.48,321.12 520.62,323.15 520.77,323.05 520.91,322.11 521.05,322.91 521.20,323.46 521.34,322.26 521.48,322.03 521.63,322.76 521.77,322.72 521.91,322.78 522.06,322.56 522.20,323.37 522.35,323.21 522.49,322.74 522.63,322.13 522.78,322.47 522.92,323.19 523.06,323.61 523.21,323.59 523.35,323.59 523.50,322.97 523.64,323.05 523.78,323.28 523.93,321.59 524.07,324.13 524.21,322.83 524.36,322.91 524.50,323.50 524.64,322.01 524.79,323.48 524.93,322.18 525.08,322.24 525.22,322.30 525.36,323.73 525.51,324.36 525.65,323.15 525.79,321.08 525.94,322.23 526.08,322.50 526.23,321.95 526.37,321.18 526.51,323.94 526.66,322.68 526.80,323.50 526.94,323.00 527.09,323.17 527.23,323.20 527.37,322.76 527.52,323.29 527.66,323.03 527.81,322.86 527.95,323.24 528.09,322.93 528.24,322.47 528.38,323.00 528.52,322.70 528.67,323.30 528.81,321.77 528.95,323.34 529.10,323.48 529.24,323.91 529.39,322.77 529.53,323.09 529.67,324.40 529.82,323.17 529.96,323.41 530.10,324.74 530.25,323.73 530.39,323.43 530.53,323.66 530.68,321.91 530.82,323.89 530.97,324.50 531.11,324.07 531.25,324.45 531.40,323.17 531.54,323.59 531.68,323.30 531.83,324.31 531.97,321.90 532.12,324.53 532.26,323.70 532.40,324.26 532.55,324.14 532.69,324.13 532.83,323.68 532.98,324.69 533.12,324.19 533.26,324.19 533.41,324.74 533.55,324.34 533.70,322.50 533.84,323.05 533.98,324.41 534.13,324.61 534.27,324.27 534.41,323.60 534.56,323.07 534.70,323.77 534.85,323.55 534.99,324.50 535.13,323.10 535.28,322.58 535.42,323.46 535.56,323.22 535.71,323.16 535.85,323.01 535.99,324.49 536.14,325.08 536.28,322.78 536.43,324.10 536.57,323.20 536.71,323.18 536.86,324.36 537.00,324.28 537.14,323.51 537.29,324.17 537.43,323.41 537.57,323.62 537.72,323.05 537.86,323.45 538.01,323.50 538.15,324.38 538.29,323.03 538.44,324.65 538.58,323.89 538.72,324.66 538.87,323.77 539.01,323.40 539.15,325.02 539.30,324.33 539.44,323.88 539.59,322.39 539.73,323.45 539.87,325.17 540.02,324.77 540.16,323.45 540.30,324.92 540.45,325.37 540.59,325.18 540.74,324.92 540.88,325.34 541.02,325.15 541.17,323.98 541.31,324.64 541.45,324.97 541.60,324.88 541.74,325.16 541.88,324.87 542.03,325.59 542.17,323.79 542.32,324.31 542.46,324.53 542.60,324.66 542.75,325.81 542.89,324.40 543.03,324.64 543.18,324.67 543.32,323.60 543.46,324.27 543.61,324.71 543.75,324.09 543.90,324.22 544.04,323.88 544.18,324.34 544.33,324.63 544.47,325.01 544.61,324.09 544.76,325.26 544.90,324.91 545.05,325.66 545.19,324.17 545.33,324.09 545.48,324.35 545.62,323.90 545.76,324.08 545.91,324.15 546.05,324.22 546.19,325.12 546.34,324.73 546.48,325.35 546.63,323.62 546.77,325.01 546.91,324.18 547.06,325.30 547.20,324.14 547.34,324.95 547.49,323.60 547.63,325.32 547.77,325.10 547.92,325.28 548.06,325.93 548.21,324.32 548.35,324.22 548.49,325.38 548.64,324.21 548.78,324.18 548.92,325.22 549.07,325.39 549.21,325.75 549.36,325.55 549.50,324.25 549.64,324.97 549.79,326.02 549.93,324.83 550.07,325.34 550.22,325.90 550.36,324.86 550.50,325.42 550.65,325.44 550.79,325.65 550.94,323.90 551.08,325.08 551.22,325.41 551.37,325.42 551.51,324.78 551.65,325.18 551.80,325.32 551.94,325.54 552.08,325.44 552.23,325.60 552.37,325.37 552.52,325.09 552.66,326.17 552.80,325.22 552.95,326.12 553.09,325.84 553.23,325.40 553.38,325.49 553.52,325.49 553.67,324.96 553.81,324.90 553.95,325.41 554.10,325.26 554.24,325.87 554.38,325.71 554.53,324.38 554.67,325.43 554.81,325.37 554.96,325.79 555.10,326.38 555.25,324.50 555.39,325.30 555.53,325.54 555.68,324.99 555.82,325.43 555.96,325.19 556.11,324.63 556.25,325.30 556.39,324.88 556.54,324.48 556.68,324.83 556.83,324.94 556.97,326.04 557.11,325.36 557.26,325.14 557.40,325.80 557.54,325.87 557.69,325.62 557.83,325.21 557.98,324.16 558.12,326.46 558.26,326.15 558.41,325.50 558.55,325.55 558.69,324.10 558.84,325.41 558.98,325.99 559.12,326.18 559.27,325.34 559.41,324.52 559.56,325.14 559.70,325.78 559.84,326.46 559.99,325.95 560.13,325.20 560.27,325.80 560.42,326.30 560.56,325.19 560.70,326.32 560.85,325.71 560.99,324.83 561.14,325.51 561.28,326.17 561.42,326.08 561.57,325.18 561.71,326.23 561.85,326.24 562.00,325.91 562.14,326.51 562.29,325.46 562.43,323.90 562.57,326.38 562.72,325.16 562.86,325.74 563.00,325.85 563.15,324.59 563.29,325.88 563.43,326.50 563.58,325.23 563.72,324.67 563.87,325.62 564.01,326.28 564.15,325.51 564.30,324.80 564.44,325.56 564.58,326.66 564.73,325.98 564.87,325.49 565.01,324.57 565.16,325.42 565.30,325.58 565.45,325.41 565.59,324.95 565.73,325.33 565.88,325.24 566.02,326.21 566.16,324.90 566.31,325.71 566.45,325.62 566.60,325.40 566.74,324.66 566.88,326.70 567.03,325.89 567.17,325.62 567.31,326.32 567.46,325.52 567.60,326.44 567.74,325.12 567.89,325.97 568.03,325.88 568.18,325.40 568.32,325.48 568.46,324.18 568.61,326.51 568.75,325.33 568.89,325.81 569.04,325.76 569.18,326.24 569.32,324.65 569.47,325.56 569.61,325.50 569.76,325.45 569.90,326.43 570.04,326.40 570.19,326.58 570.33,325.88 570.47,325.28 570.62,325.98 570.76,326.39 570.91,326.61 571.05,325.81 571.19,326.22 571.34,326.55 571.48,326.07 571.62,325.70 571.77,325.37 571.91,325.09 572.05,325.61 572.20,323.77 572.34,326.28 572.49,326.96 572.63,325.57 572.77,325.68 572.92,325.04 573.06,326.49 573.20,326.79 573.35,325.35 573.49,325.14 573.63,325.71 573.78,325.82 573.92,324.97 574.07,325.34 574.21,326.14 574.35,325.78 574.50,325.44 574.64,325.73 574.78,325.25 574.93,326.09 575.07,325.05 575.22,326.05 575.36,325.86 575.50,325.36 575.65,325.56 575.79,326.35 575.93,325.85 576.08,326.39 576.22,326.25 576.36,324.99 576.51,325.99 576.65,325.99 576.80,325.57 576.94,325.39 577.08,326.87 577.23,325.83 577.37,325.70 577.51,324.36 577.66,326.23 577.80,325.42 577.94,326.45 578.09,325.85 578.23,325.63 578.38,326.65 578.52,326.45 578.66,325.96 578.81,325.87 578.95,326.50 579.09,325.74 579.24,326.36 579.38,326.80 579.53,326.16 579.67,325.69 579.81,326.37 579.96,326.69 580.10,326.58 580.24,325.05 580.39,325.76 580.53,327.26 580.67,327.19 580.82,325.78 580.96,324.00 581.11,325.60 581.25,326.46 581.39,327.45 581.54,325.87 581.68,326.48 581.82,326.09 581.97,325.66 582.11,325.67 582.25,326.47 582.40,326.33 582.54,325.02 582.69,325.89 582.83,326.13 582.97,325.42 583.12,327.30 583.26,325.49 583.40,326.26 583.55,325.65 583.69,326.74 583.84,325.79 583.98,325.55 584.12,326.08 584.27,325.56 584.41,325.82 584.55,324.70 584.70,325.25 584.84,325.76 584.98,325.63 585.13,324.81 585.27,324.49 585.42,326.45 585.56,326.67 585.70,325.33 585.85,326.50 585.99,325.63 586.13,325.30 586.28,325.85 586.42,326.62 586.56,325.98 586.71,326.98 586.85,326.78 587.00,326.36 587.14,325.27 587.28,326.23 587.43,326.49 587.57,326.00 587.71,325.80 587.86,326.17 588.00,325.64 588.15,325.46 588.29,326.26 588.43,327.16 588.58,326.51 588.72,326.44 588.86,325.97 589.01,326.32 589.15,326.15 589.29,325.62 589.44,325.73 589.58,327.26 589.73,325.96 589.87,326.82 590.01,326.55 590.16,326.40 590.30,326.30 590.44,325.46 590.59,325.17 590.73,326.88 590.88,327.35 591.02,325.30 591.16,326.28 591.31,326.27 591.45,326.62 591.59,326.36 591.74,326.75 591.88,326.59 592.02,326.56 592.17,325.96 592.31,326.40 592.46,326.47 592.60,327.21 592.74,326.79 592.89,326.78 593.03,327.03 593.17,326.73 593.32,326.68 593.46,326.92 593.60,327.76 593.75,326.18 593.89,326.34 594.04,325.88 594.18,326.58 594.32,326.00 594.47,325.51 594.61,325.67 594.75,326.15 594.90,325.99 595.04,326.77 595.18,325.17 595.33,327.40 595.47,326.19 595.62,326.16 595.76,325.85 595.90,326.34 596.05,326.02 596.19,326.10 596.33,326.75 596.48,325.83 596.62,326.17 596.77,325.85 596.91,326.03 597.05,325.05 597.20,326.11 597.34,325.63 597.48,326.22 597.63,325.68 597.77,326.41 597.91,326.95 598.06,325.21 598.20,326.74 598.35,326.94 598.49,326.08 598.63,325.97 598.78,326.20 598.92,327.93 599.06,326.89 599.21,326.23 599.35,325.50 599.50,326.78 599.64,326.26 599.78,327.10 599.93,326.91 600.07,326.30 600.21,326.84 600.36,326.47 600.50,325.81 600.64,326.86 600.79,327.08 600.93,327.41 601.08,326.83 601.22,326.34 601.36,326.83 601.51,326.43 601.65,325.96 601.79,327.23 601.94,326.31 602.08,327.68 602.22,326.86 602.37,326.82 602.51,327.06 602.66,327.27 602.80,326.86 602.94,326.52 603.09,327.57 603.23,326.29 603.37,324.50 603.52,327.99 603.66,326.46 603.80,327.50 603.95,325.83 604.09,326.10 604.24,326.71 604.38,325.55 604.52,326.56 604.67,326.89 604.81,326.45 604.95,327.29 605.10,327.24 605.24,326.35 605.39,326.86 605.53,325.59 605.67,326.79 605.82,327.14 605.96,327.34 606.10,327.63 606.25,326.60 606.39,326.42 606.53,326.75 606.68,326.51 606.82,326.80 606.97,325.76 607.11,327.04 607.25,326.96 607.40,326.09 607.54,326.91 607.68,327.16 607.83,327.18 607.97,326.42 608.12,325.81 608.26,326.77 608.40,326.33 608.55,327.43 608.69,327.32 608.83,326.81 608.98,326.22 609.12,327.53 609.26,326.70 609.41,328.34 609.55,326.29 609.70,327.48 609.84,326.94 609.98,327.36 610.13,327.40 610.27,327.62 610.41,327.52 610.56,326.90 610.70,326.90 610.84,327.10 610.99,327.49 611.13,327.66 611.28,326.67 611.42,327.78 611.56,326.51 611.71,327.41 611.85,327.25 611.99,326.79 612.14,326.52 612.28,327.92 612.42,327.06 612.57,327.03 612.71,326.95 612.86,327.42 613.00,326.60 613.14,326.67 613.29,328.01 613.43,327.20 613.57,326.82 613.72,325.65 613.86,326.92 614.01,326.05 614.15,326.17 614.29,325.79 614.44,326.01 614.58,327.38 614.72,326.82 614.87,326.62 615.01,325.88 615.15,326.89 615.30,326.36 615.44,326.31 615.59,325.68 615.73,326.42 615.87,327.52 616.02,325.78 616.16,327.20 616.30,326.85 616.45,326.89 616.59,328.09 616.74,327.18 616.88,326.32 617.02,325.44 617.17,326.31 617.31,325.27 617.45,326.82 617.60,327.32 617.74,327.06 617.88,327.00 618.03,327.08 618.17,326.58 618.32,326.85 618.46,327.00 618.60,327.65 618.75,325.02 618.89,327.07 619.03,326.14 619.18,327.90 619.32,327.59 619.46,327.58 619.61,326.59 619.75,325.98 619.90,327.25 620.04,327.04 620.18,326.71 620.33,327.08 620.47,328.33 620.61,327.77 620.76,327.43 620.90,327.09 621.04,327.30 621.19,327.61 621.33,327.50 621.48,326.83 621.62,326.66 621.76,326.72 621.91,325.28 622.05,326.79 622.19,325.78 622.34,327.32 622.48,327.26 622.63,326.87 622.77,327.95 622.91,326.17 623.06,326.67 623.20,327.41 623.34,327.15 623.49,327.62 623.63,327.56 623.77,326.78 623.92,327.04 624.06,327.34 624.21,327.18 624.35,327.00 624.49,325.60 624.64,327.46 624.78,326.17 624.92,325.05 625.07,325.80 625.21,326.47 625.36,326.74 625.50,327.06 625.64,325.83 625.79,327.02 625.93,327.34 626.07,326.90 626.22,327.24 626.36,327.14 626.50,326.54 626.65,326.52 626.79,326.65 626.94,326.84 627.08,326.93 627.22,326.87 627.37,326.68 627.51,326.47 627.65,327.13 627.80,325.97 627.94,326.53 628.08,326.29 628.23,326.23 628.37,326.87 628.52,326.57 628.66,326.50 628.80,327.29 628.95,327.29 629.09,328.00 629.23,328.25 629.38,327.04 629.52,326.83 629.66,326.54 629.81,327.67 629.95,327.12 630.10,326.80 630.24,328.17 630.38,327.03 630.53,325.92 630.67,327.14 630.81,327.06 630.96,326.31 631.10,326.86 631.25,326.77 631.39,326.90 631.53,326.88 631.68,326.95 631.82,328.32 631.96,327.25 632.11,327.38 632.25,326.22 632.39,326.98 632.54,326.75 632.68,326.63 632.83,326.45 632.97,327.53 633.11,327.32 633.26,326.28 633.40,326.62 633.54,326.74 633.69,326.40 633.83,327.05 633.97,326.78 634.12,327.66 634.26,327.16 634.41,325.59 634.55,327.33 634.69,326.61 634.84,326.53 634.98,326.24 635.12,327.59 635.27,327.01 635.41,327.08 635.56,327.52 635.70,326.39 635.84,325.78 635.99,326.44 636.13,327.50 636.27,327.42 636.42,325.65 636.56,327.05 636.70,327.24 636.85,326.72 636.99,326.98 637.14,327.30 637.28,327.04 637.42,327.48 637.57,326.88 637.71,326.56 637.85,326.56 638.00,326.29 638.14,326.08 638.28,327.28 638.43,326.30 638.57,327.84 638.72,328.15 638.86,327.35 639.00,326.80 639.15,326.25 639.29,327.08 639.43,327.73 639.58,326.96 639.72,327.46 639.87,326.98 640.01,327.62 640.15,326.76 640.30,327.98 640.44,327.75 640.58,327.52 640.73,327.25 640.87,327.45 641.01,327.19 641.16,327.67 641.30,328.16 641.45,326.09 641.59,326.16 641.73,326.40 641.88,326.83 642.02,325.78 642.16,328.09 642.31,326.76 642.45,327.50 642.60,326.95 642.74,327.31 642.88,326.18 643.03,326.81 643.17,327.01 643.31,326.64 643.46,327.11 643.60,327.52 643.74,327.63 643.89,326.41 644.03,327.32 644.18,327.04 644.32,325.48 644.46,327.10 644.61,326.97 644.75,326.98 644.89,326.80 645.04,326.89 645.18,327.30 645.32,325.38 645.47,326.61 645.61,326.35 645.76,326.64 645.90,326.92 646.04,325.83 646.19,326.33 646.33,326.24 646.47,325.72 646.62,327.78 646.76,326.89 646.90,327.53 647.05,327.37 647.19,327.40 647.34,327.90 647.48,326.72 647.62,326.99 647.77,326.85 647.91,327.42 648.05,328.23 648.20,326.74 648.34,327.27 648.49,327.20 648.63,327.70 648.77,327.20 648.92,325.92 649.06,327.98 649.20,328.25 649.35,327.91 649.49,328.26 649.63,327.77 649.10,326.50 649.60,310.00 650.10,293.90 651.00,288.90 651.50,289.50 652.10,288.00 653.00,283.80 653.60,282.50 654.20,279.60 655.20,277.70 656.20,277.90 656.90,278.40 657.30,280.00 657.70,280.80" fill="none" stroke="#0000ff" stroke-width="0.75" stroke-linejoin="round"/>
<text x="675.60" y="22.60" text-anchor="middle" font-size="9" >a</text>
<text x="453.10" y="111.00" text-anchor="middle" font-size="9" >b</text>
<text x="677.90" y="197.00" text-anchor="middle" font-size="9" >c</text>
<text x="677.60" y="286.40" text-anchor="middle" font-size="9" >d</text>
<path d="M40.80 13.40H212.40" stroke="#3a3a3a" stroke-opacity="0.5" stroke-width="0.8"/>
<path d="M267.50 13.40H439.40" stroke="#3a3a3a" stroke-opacity="0.5" stroke-width="0.8"/>
<path d="M493.90 13.40H666.30" stroke="#3a3a3a" stroke-opacity="0.5" stroke-width="0.8"/>
<path d="M40.80 101.50H212.40" stroke="#3a3a3a" stroke-opacity="0.5" stroke-width="0.8"/>
<path d="M267.50 101.50H439.40" stroke="#3a3a3a" stroke-opacity="0.5" stroke-width="0.8"/>
<path d="M40.80 189.60H212.40" stroke="#3a3a3a" stroke-opacity="0.5" stroke-width="0.8"/>
<path d="M267.50 189.60H439.40" stroke="#3a3a3a" stroke-opacity="0.5" stroke-width="0.8"/>
<path d="M493.90 189.60H666.30" stroke="#3a3a3a" stroke-opacity="0.5" stroke-width="0.8"/>
<path d="M40.80 277.65H212.40" stroke="#3a3a3a" stroke-opacity="0.5" stroke-width="0.8"/>
<path d="M267.50 277.65H439.40" stroke="#3a3a3a" stroke-opacity="0.5" stroke-width="0.8"/>
<path d="M493.90 277.65H666.30" stroke="#3a3a3a" stroke-opacity="0.5" stroke-width="0.8"/>
</g>
</svg>
</body></html>
